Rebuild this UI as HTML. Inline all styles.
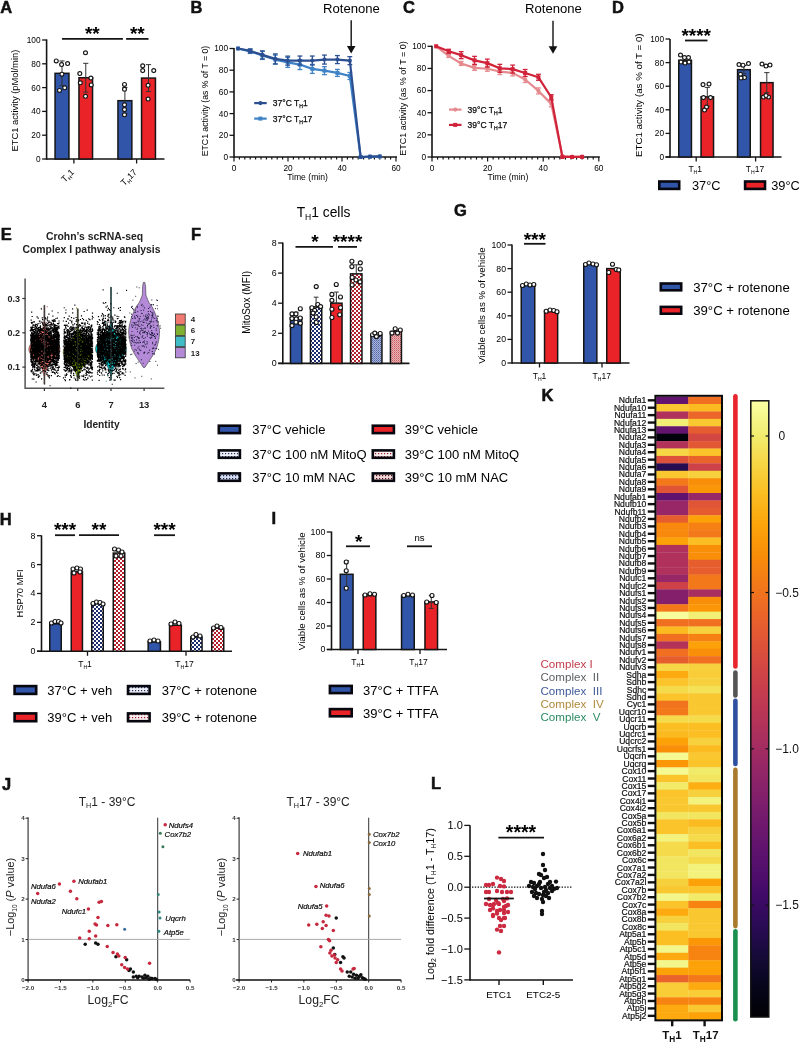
<!DOCTYPE html>
<html><head><meta charset="utf-8"><style>
html,body{margin:0;padding:0;background:#fff;}
svg{display:block;font-family:"Liberation Sans",sans-serif;will-change:transform;}
</style></head><body>
<svg width="800" height="1042" viewBox="0 0 800 1042">
<defs>
<pattern id="pb" width="4" height="4" patternUnits="userSpaceOnUse"><rect width="4" height="4" fill="#1f2d6e"/><rect width="2" height="2" fill="#fff"/><rect x="2" y="2" width="2" height="2" fill="#fff"/></pattern>
<pattern id="pr" width="4" height="4" patternUnits="userSpaceOnUse"><rect width="4" height="4" fill="#b3202e"/><rect width="2" height="2" fill="#fff"/><rect x="2" y="2" width="2" height="2" fill="#fff"/></pattern>
<pattern id="nb" width="2" height="2" patternUnits="userSpaceOnUse"><rect width="2" height="2" fill="#a8b4da"/><rect width="1" height="1" fill="#5466a6"/><rect x="1" y="1" width="1" height="1" fill="#7080b8"/></pattern>
<pattern id="nr" width="2" height="2" patternUnits="userSpaceOnUse"><rect width="2" height="2" fill="#eab4b4"/><rect width="1" height="1" fill="#c85a60"/><rect x="1" y="1" width="1" height="1" fill="#d88488"/></pattern>
<pattern id="pbL" width="3" height="3" patternUnits="userSpaceOnUse"><rect width="3" height="3" fill="#eef0f8"/><rect width="1.2" height="1.2" fill="#22306a"/></pattern>
<pattern id="prL" width="3" height="3" patternUnits="userSpaceOnUse"><rect width="3" height="3" fill="#f8ecee"/><rect width="1.2" height="1.2" fill="#a02030"/></pattern>
<pattern id="nbL" width="3" height="3" patternUnits="userSpaceOnUse"><rect width="3" height="3" fill="#d4dcf0"/><rect x="1" y="1" width="1.2" height="1.2" fill="#1a2050"/></pattern>
<pattern id="nrL" width="3" height="3" patternUnits="userSpaceOnUse"><rect width="3" height="3" fill="#f4d8d8"/><rect x="1" y="1" width="1.2" height="1.2" fill="#501018"/></pattern>
<linearGradient id="cbar" x1="0" y1="1" x2="0" y2="0"><stop offset="0.00" stop-color="#000004"/><stop offset="0.05" stop-color="#07051b"/><stop offset="0.10" stop-color="#160b39"/><stop offset="0.15" stop-color="#2b0b57"/><stop offset="0.20" stop-color="#420a68"/><stop offset="0.25" stop-color="#57106e"/><stop offset="0.30" stop-color="#6a176e"/><stop offset="0.35" stop-color="#7f1e6c"/><stop offset="0.40" stop-color="#932667"/><stop offset="0.45" stop-color="#a82e5f"/><stop offset="0.50" stop-color="#bc3754"/><stop offset="0.55" stop-color="#cc4248"/><stop offset="0.60" stop-color="#dd513a"/><stop offset="0.65" stop-color="#ea632a"/><stop offset="0.70" stop-color="#f37819"/><stop offset="0.75" stop-color="#f98e09"/><stop offset="0.80" stop-color="#fca50a"/><stop offset="0.85" stop-color="#fbbe23"/><stop offset="0.90" stop-color="#f6d746"/><stop offset="0.95" stop-color="#f1ef75"/><stop offset="1.00" stop-color="#fcffa4"/></linearGradient>
</defs>
<rect width="800" height="1042" fill="#fff"/>
<text x="0.3" y="12.6" font-size="16.5" font-weight="bold" fill="#111" stroke="#111" stroke-width="0.5">A</text>
<text x="190.5" y="12.6" font-size="16.5" font-weight="bold" fill="#111" stroke="#111" stroke-width="0.5">B</text>
<text x="403" y="12.6" font-size="16.5" font-weight="bold" fill="#111" stroke="#111" stroke-width="0.5">C</text>
<text x="612" y="12.6" font-size="16.5" font-weight="bold" fill="#111" stroke="#111" stroke-width="0.5">D</text>
<text x="0.8" y="239.5" font-size="16.5" font-weight="bold" fill="#111" stroke="#111" stroke-width="0.5">E</text>
<text x="191" y="239.5" font-size="16.5" font-weight="bold" fill="#111" stroke="#111" stroke-width="0.5">F</text>
<text x="454" y="216.2" font-size="16.5" font-weight="bold" fill="#111" stroke="#111" stroke-width="0.5">G</text>
<text x="541.5" y="401.2" font-size="16.5" font-weight="bold" fill="#111" stroke="#111" stroke-width="0.5">K</text>
<text x="-0.3" y="524.6" font-size="16.5" font-weight="bold" fill="#111" stroke="#111" stroke-width="0.5">H</text>
<text x="271.5" y="524.2" font-size="16.5" font-weight="bold" fill="#111" stroke="#111" stroke-width="0.5">I</text>
<text x="2" y="790" font-size="16.5" font-weight="bold" fill="#111" stroke="#111" stroke-width="0.5">J</text>
<text x="431" y="789.4" font-size="16.5" font-weight="bold" fill="#111" stroke="#111" stroke-width="0.5">L</text>
<line x1="46.6" y1="39.4" x2="46.6" y2="159.8" stroke="#151515" stroke-width="1.6" />
<line x1="42.1" y1="159" x2="46.6" y2="159" stroke="#151515" stroke-width="1.3" />
<text x="40.6" y="161.9" font-size="8.3" text-anchor="end" >0</text>
<line x1="42.1" y1="135.2" x2="46.6" y2="135.2" stroke="#151515" stroke-width="1.3" />
<text x="40.6" y="138.1" font-size="8.3" text-anchor="end" >20</text>
<line x1="42.1" y1="111.4" x2="46.6" y2="111.4" stroke="#151515" stroke-width="1.3" />
<text x="40.6" y="114.3" font-size="8.3" text-anchor="end" >40</text>
<line x1="42.1" y1="87.6" x2="46.6" y2="87.6" stroke="#151515" stroke-width="1.3" />
<text x="40.6" y="90.5" font-size="8.3" text-anchor="end" >60</text>
<line x1="42.1" y1="63.8" x2="46.6" y2="63.8" stroke="#151515" stroke-width="1.3" />
<text x="40.6" y="66.7" font-size="8.3" text-anchor="end" >80</text>
<line x1="42.1" y1="40" x2="46.6" y2="40" stroke="#151515" stroke-width="1.3" />
<text x="40.6" y="42.9" font-size="8.3" text-anchor="end" >100</text>
<line x1="46.6" y1="159" x2="164.5" y2="159" stroke="#151515" stroke-width="1.6" />
<line x1="73.9" y1="159" x2="73.9" y2="163.5" stroke="#151515" stroke-width="1.3" />
<line x1="136.6" y1="159" x2="136.6" y2="163.5" stroke="#151515" stroke-width="1.3" />
<rect x="55.05" y="73.32" width="13.9" height="85.68" fill="#3155a8" stroke="#151515" stroke-width="1.5" />
<line x1="62" y1="60.94" x2="62" y2="85.7" stroke="#333" stroke-width="1" />
<line x1="59.4" y1="60.94" x2="64.6" y2="60.94" stroke="#333" stroke-width="1" />
<line x1="59.4" y1="85.7" x2="64.6" y2="85.7" stroke="#333" stroke-width="1" />
<rect x="78.95" y="77.72" width="13.6" height="81.28" fill="#ea2329" stroke="#151515" stroke-width="1.5" />
<line x1="85.75" y1="63.32" x2="85.75" y2="92.12" stroke="#333" stroke-width="1" />
<line x1="83.15" y1="63.32" x2="88.35" y2="63.32" stroke="#333" stroke-width="1" />
<line x1="83.15" y1="92.12" x2="88.35" y2="92.12" stroke="#333" stroke-width="1" />
<rect x="117.95" y="100.69" width="13.9" height="58.31" fill="#3155a8" stroke="#151515" stroke-width="1.5" />
<line x1="124.9" y1="87.6" x2="124.9" y2="113.78" stroke="#333" stroke-width="1" />
<line x1="122.3" y1="87.6" x2="127.5" y2="87.6" stroke="#333" stroke-width="1" />
<line x1="122.3" y1="113.78" x2="127.5" y2="113.78" stroke="#333" stroke-width="1" />
<rect x="141.55" y="78.08" width="13.9" height="80.92" fill="#ea2329" stroke="#151515" stroke-width="1.5" />
<line x1="148.5" y1="64.63" x2="148.5" y2="91.53" stroke="#333" stroke-width="1" />
<line x1="145.9" y1="64.63" x2="151.1" y2="64.63" stroke="#333" stroke-width="1" />
<line x1="145.9" y1="91.53" x2="151.1" y2="91.53" stroke="#333" stroke-width="1" />
<circle cx="56.25" cy="60.9" r="1.95" fill="#fff" stroke="#151515" stroke-width="1.15"/>
<circle cx="61.6" cy="64.6" r="1.95" fill="#fff" stroke="#151515" stroke-width="1.15"/>
<circle cx="67.6" cy="63.6" r="1.95" fill="#fff" stroke="#151515" stroke-width="1.15"/>
<circle cx="61.9" cy="74.2" r="1.95" fill="#fff" stroke="#151515" stroke-width="1.15"/>
<circle cx="59.5" cy="90.4" r="1.95" fill="#fff" stroke="#151515" stroke-width="1.15"/>
<circle cx="64.7" cy="87.8" r="1.95" fill="#fff" stroke="#151515" stroke-width="1.15"/>
<circle cx="85.5" cy="52.75" r="1.95" fill="#fff" stroke="#151515" stroke-width="1.15"/>
<circle cx="79.8" cy="73.5" r="1.95" fill="#fff" stroke="#151515" stroke-width="1.15"/>
<circle cx="90.9" cy="78" r="1.95" fill="#fff" stroke="#151515" stroke-width="1.15"/>
<circle cx="80.3" cy="82.8" r="1.95" fill="#fff" stroke="#151515" stroke-width="1.15"/>
<circle cx="91.2" cy="84.9" r="1.95" fill="#fff" stroke="#151515" stroke-width="1.15"/>
<circle cx="85.5" cy="96.3" r="1.95" fill="#fff" stroke="#151515" stroke-width="1.15"/>
<circle cx="124.5" cy="84.4" r="1.95" fill="#fff" stroke="#151515" stroke-width="1.15"/>
<circle cx="124.5" cy="89.3" r="1.95" fill="#fff" stroke="#151515" stroke-width="1.15"/>
<circle cx="124.5" cy="104.75" r="1.95" fill="#fff" stroke="#151515" stroke-width="1.15"/>
<circle cx="124.5" cy="109.6" r="1.95" fill="#fff" stroke="#151515" stroke-width="1.15"/>
<circle cx="124.5" cy="114.8" r="1.95" fill="#fff" stroke="#151515" stroke-width="1.15"/>
<circle cx="142.7" cy="65.75" r="1.95" fill="#fff" stroke="#151515" stroke-width="1.15"/>
<circle cx="142.7" cy="70.6" r="1.95" fill="#fff" stroke="#151515" stroke-width="1.15"/>
<circle cx="153.75" cy="70.6" r="1.95" fill="#fff" stroke="#151515" stroke-width="1.15"/>
<circle cx="148.1" cy="85.25" r="1.95" fill="#fff" stroke="#151515" stroke-width="1.15"/>
<circle cx="148.1" cy="99" r="1.95" fill="#fff" stroke="#151515" stroke-width="1.15"/>
<line x1="62" y1="38.9" x2="122.9" y2="38.9" stroke="#151515" stroke-width="1.8" />
<line x1="126.1" y1="38.9" x2="148.5" y2="38.9" stroke="#151515" stroke-width="1.8" />
<text x="92.3" y="40" font-size="19" text-anchor="middle" font-weight="bold" >**</text>
<text x="137.3" y="40" font-size="19" text-anchor="middle" font-weight="bold" >**</text>
<text x="18.1" y="100.6" font-size="9.36" text-anchor="middle" transform="rotate(-90 18.1 100.6)" >ETC1 activity (pMol/min)</text>
<text x="74.8" y="172.9" font-size="8.8" text-anchor="end" transform="rotate(-45 74.8 172.9)" >T<tspan font-size="0.6em" dy="2.0">H</tspan><tspan dy="-2.0">1</tspan></text>
<text x="137.6" y="172.9" font-size="8.8" text-anchor="end" transform="rotate(-45 137.6 172.9)" >T<tspan font-size="0.6em" dy="2.0">H</tspan><tspan dy="-2.0">17</tspan></text>
<line x1="234" y1="48" x2="234" y2="157.8" stroke="#151515" stroke-width="1.6" />
<line x1="229.5" y1="157" x2="234" y2="157" stroke="#151515" stroke-width="1.3" />
<text x="228" y="159.9" font-size="8.3" text-anchor="end" >0</text>
<line x1="229.5" y1="135.3" x2="234" y2="135.3" stroke="#151515" stroke-width="1.3" />
<text x="228" y="138.2" font-size="8.3" text-anchor="end" >20</text>
<line x1="229.5" y1="113.6" x2="234" y2="113.6" stroke="#151515" stroke-width="1.3" />
<text x="228" y="116.5" font-size="8.3" text-anchor="end" >40</text>
<line x1="229.5" y1="91.9" x2="234" y2="91.9" stroke="#151515" stroke-width="1.3" />
<text x="228" y="94.8" font-size="8.3" text-anchor="end" >60</text>
<line x1="229.5" y1="70.2" x2="234" y2="70.2" stroke="#151515" stroke-width="1.3" />
<text x="228" y="73.1" font-size="8.3" text-anchor="end" >80</text>
<line x1="229.5" y1="48.5" x2="234" y2="48.5" stroke="#151515" stroke-width="1.3" />
<text x="228" y="51.4" font-size="8.3" text-anchor="end" >100</text>
<line x1="234" y1="157" x2="397" y2="157" stroke="#151515" stroke-width="1.6" />
<line x1="234" y1="157" x2="234" y2="161.5" stroke="#151515" stroke-width="1.2" />
<line x1="239.4" y1="157" x2="239.4" y2="159.6" stroke="#151515" stroke-width="1.2" />
<line x1="244.8" y1="157" x2="244.8" y2="159.6" stroke="#151515" stroke-width="1.2" />
<line x1="250.2" y1="157" x2="250.2" y2="159.6" stroke="#151515" stroke-width="1.2" />
<line x1="255.6" y1="157" x2="255.6" y2="159.6" stroke="#151515" stroke-width="1.2" />
<line x1="261" y1="157" x2="261" y2="159.6" stroke="#151515" stroke-width="1.2" />
<line x1="266.4" y1="157" x2="266.4" y2="159.6" stroke="#151515" stroke-width="1.2" />
<line x1="271.8" y1="157" x2="271.8" y2="159.6" stroke="#151515" stroke-width="1.2" />
<line x1="277.2" y1="157" x2="277.2" y2="159.6" stroke="#151515" stroke-width="1.2" />
<line x1="282.6" y1="157" x2="282.6" y2="159.6" stroke="#151515" stroke-width="1.2" />
<line x1="288" y1="157" x2="288" y2="161.5" stroke="#151515" stroke-width="1.2" />
<line x1="293.4" y1="157" x2="293.4" y2="159.6" stroke="#151515" stroke-width="1.2" />
<line x1="298.8" y1="157" x2="298.8" y2="159.6" stroke="#151515" stroke-width="1.2" />
<line x1="304.2" y1="157" x2="304.2" y2="159.6" stroke="#151515" stroke-width="1.2" />
<line x1="309.6" y1="157" x2="309.6" y2="159.6" stroke="#151515" stroke-width="1.2" />
<line x1="315" y1="157" x2="315" y2="159.6" stroke="#151515" stroke-width="1.2" />
<line x1="320.4" y1="157" x2="320.4" y2="159.6" stroke="#151515" stroke-width="1.2" />
<line x1="325.8" y1="157" x2="325.8" y2="159.6" stroke="#151515" stroke-width="1.2" />
<line x1="331.2" y1="157" x2="331.2" y2="159.6" stroke="#151515" stroke-width="1.2" />
<line x1="336.6" y1="157" x2="336.6" y2="159.6" stroke="#151515" stroke-width="1.2" />
<line x1="342" y1="157" x2="342" y2="161.5" stroke="#151515" stroke-width="1.2" />
<line x1="347.4" y1="157" x2="347.4" y2="159.6" stroke="#151515" stroke-width="1.2" />
<line x1="352.8" y1="157" x2="352.8" y2="159.6" stroke="#151515" stroke-width="1.2" />
<line x1="358.2" y1="157" x2="358.2" y2="159.6" stroke="#151515" stroke-width="1.2" />
<line x1="363.6" y1="157" x2="363.6" y2="159.6" stroke="#151515" stroke-width="1.2" />
<line x1="369" y1="157" x2="369" y2="159.6" stroke="#151515" stroke-width="1.2" />
<line x1="374.4" y1="157" x2="374.4" y2="159.6" stroke="#151515" stroke-width="1.2" />
<line x1="379.8" y1="157" x2="379.8" y2="159.6" stroke="#151515" stroke-width="1.2" />
<line x1="385.2" y1="157" x2="385.2" y2="159.6" stroke="#151515" stroke-width="1.2" />
<line x1="390.6" y1="157" x2="390.6" y2="159.6" stroke="#151515" stroke-width="1.2" />
<line x1="396" y1="157" x2="396" y2="161.5" stroke="#151515" stroke-width="1.2" />
<text x="234" y="171.4" font-size="8.3" text-anchor="middle" >0</text>
<text x="288" y="171.4" font-size="8.3" text-anchor="middle" >20</text>
<text x="342" y="171.4" font-size="8.3" text-anchor="middle" >40</text>
<text x="396" y="171.4" font-size="8.3" text-anchor="middle" >60</text>
<text x="307.5" y="179.8" font-size="8.6" text-anchor="middle" >Time (min)</text>
<path d="M238.05 48.5 L250.2 51.43 L262.35 55.44 L275.31 59.57 L287.73 62.39 L299.88 64.56 L312.3 68.9 L324.45 70.63 L337.41 72.91 L349.83 75.95 L360.63 157 L370.08 156.67 L379.8 156.57" fill="none" stroke="#3f82c6" stroke-width="2.2" stroke-linejoin="round"/>
<rect x="236.05" y="46.5" width="4" height="4" fill="#3f82c6" />
<line x1="250.2" y1="49.43" x2="250.2" y2="53.43" stroke="#3f82c6" stroke-width="1.3" />
<line x1="247.8" y1="49.43" x2="252.6" y2="49.43" stroke="#3f82c6" stroke-width="1.3" />
<line x1="247.8" y1="53.43" x2="252.6" y2="53.43" stroke="#3f82c6" stroke-width="1.3" />
<rect x="248.2" y="49.43" width="4" height="4" fill="#3f82c6" />
<line x1="262.35" y1="51.44" x2="262.35" y2="59.44" stroke="#3f82c6" stroke-width="1.3" />
<line x1="259.95" y1="51.44" x2="264.75" y2="51.44" stroke="#3f82c6" stroke-width="1.3" />
<line x1="259.95" y1="59.44" x2="264.75" y2="59.44" stroke="#3f82c6" stroke-width="1.3" />
<rect x="260.35" y="53.44" width="4" height="4" fill="#3f82c6" />
<line x1="275.31" y1="55.07" x2="275.31" y2="64.07" stroke="#3f82c6" stroke-width="1.3" />
<line x1="272.91" y1="55.07" x2="277.71" y2="55.07" stroke="#3f82c6" stroke-width="1.3" />
<line x1="272.91" y1="64.07" x2="277.71" y2="64.07" stroke="#3f82c6" stroke-width="1.3" />
<rect x="273.31" y="57.57" width="4" height="4" fill="#3f82c6" />
<line x1="287.73" y1="57.39" x2="287.73" y2="67.39" stroke="#3f82c6" stroke-width="1.3" />
<line x1="285.33" y1="57.39" x2="290.13" y2="57.39" stroke="#3f82c6" stroke-width="1.3" />
<line x1="285.33" y1="67.39" x2="290.13" y2="67.39" stroke="#3f82c6" stroke-width="1.3" />
<rect x="285.73" y="60.39" width="4" height="4" fill="#3f82c6" />
<line x1="299.88" y1="59.56" x2="299.88" y2="69.56" stroke="#3f82c6" stroke-width="1.3" />
<line x1="297.48" y1="59.56" x2="302.28" y2="59.56" stroke="#3f82c6" stroke-width="1.3" />
<line x1="297.48" y1="69.56" x2="302.28" y2="69.56" stroke="#3f82c6" stroke-width="1.3" />
<rect x="297.88" y="62.56" width="4" height="4" fill="#3f82c6" />
<line x1="312.3" y1="64.4" x2="312.3" y2="73.4" stroke="#3f82c6" stroke-width="1.3" />
<line x1="309.9" y1="64.4" x2="314.7" y2="64.4" stroke="#3f82c6" stroke-width="1.3" />
<line x1="309.9" y1="73.4" x2="314.7" y2="73.4" stroke="#3f82c6" stroke-width="1.3" />
<rect x="310.3" y="66.9" width="4" height="4" fill="#3f82c6" />
<line x1="324.45" y1="66.63" x2="324.45" y2="74.63" stroke="#3f82c6" stroke-width="1.3" />
<line x1="322.05" y1="66.63" x2="326.85" y2="66.63" stroke="#3f82c6" stroke-width="1.3" />
<line x1="322.05" y1="74.63" x2="326.85" y2="74.63" stroke="#3f82c6" stroke-width="1.3" />
<rect x="322.45" y="68.63" width="4" height="4" fill="#3f82c6" />
<line x1="337.41" y1="69.41" x2="337.41" y2="76.41" stroke="#3f82c6" stroke-width="1.3" />
<line x1="335.01" y1="69.41" x2="339.81" y2="69.41" stroke="#3f82c6" stroke-width="1.3" />
<line x1="335.01" y1="76.41" x2="339.81" y2="76.41" stroke="#3f82c6" stroke-width="1.3" />
<rect x="335.41" y="70.91" width="4" height="4" fill="#3f82c6" />
<line x1="349.83" y1="72.45" x2="349.83" y2="79.45" stroke="#3f82c6" stroke-width="1.3" />
<line x1="347.43" y1="72.45" x2="352.23" y2="72.45" stroke="#3f82c6" stroke-width="1.3" />
<line x1="347.43" y1="79.45" x2="352.23" y2="79.45" stroke="#3f82c6" stroke-width="1.3" />
<rect x="347.83" y="73.95" width="4" height="4" fill="#3f82c6" />
<rect x="358.63" y="155" width="4" height="4" fill="#3f82c6" />
<rect x="368.08" y="154.67" width="4" height="4" fill="#3f82c6" />
<rect x="377.8" y="154.57" width="4" height="4" fill="#3f82c6" />
<path d="M238.05 48.5 L250.2 50.89 L262.35 54.9 L275.31 58.92 L287.73 60.65 L299.88 60.54 L312.3 60.54 L324.45 59.57 L337.41 59.57 L349.83 60.65 L360.63 157 L370.08 156.67 L379.8 156.24" fill="none" stroke="#2c4f91" stroke-width="2.2" stroke-linejoin="round"/>
<circle cx="238.05" cy="48.5" r="2.1" fill="#2c4f91"/>
<line x1="250.2" y1="48.89" x2="250.2" y2="52.89" stroke="#2c4f91" stroke-width="1.3" />
<line x1="247.8" y1="48.89" x2="252.6" y2="48.89" stroke="#2c4f91" stroke-width="1.3" />
<line x1="247.8" y1="52.89" x2="252.6" y2="52.89" stroke="#2c4f91" stroke-width="1.3" />
<circle cx="250.2" cy="50.89" r="2.1" fill="#2c4f91"/>
<line x1="262.35" y1="50.9" x2="262.35" y2="58.9" stroke="#2c4f91" stroke-width="1.3" />
<line x1="259.95" y1="50.9" x2="264.75" y2="50.9" stroke="#2c4f91" stroke-width="1.3" />
<line x1="259.95" y1="58.9" x2="264.75" y2="58.9" stroke="#2c4f91" stroke-width="1.3" />
<circle cx="262.35" cy="54.9" r="2.1" fill="#2c4f91"/>
<line x1="275.31" y1="53.92" x2="275.31" y2="63.92" stroke="#2c4f91" stroke-width="1.3" />
<line x1="272.91" y1="53.92" x2="277.71" y2="53.92" stroke="#2c4f91" stroke-width="1.3" />
<line x1="272.91" y1="63.92" x2="277.71" y2="63.92" stroke="#2c4f91" stroke-width="1.3" />
<circle cx="275.31" cy="58.92" r="2.1" fill="#2c4f91"/>
<line x1="287.73" y1="56.15" x2="287.73" y2="65.15" stroke="#2c4f91" stroke-width="1.3" />
<line x1="285.33" y1="56.15" x2="290.13" y2="56.15" stroke="#2c4f91" stroke-width="1.3" />
<line x1="285.33" y1="65.15" x2="290.13" y2="65.15" stroke="#2c4f91" stroke-width="1.3" />
<circle cx="287.73" cy="60.65" r="2.1" fill="#2c4f91"/>
<line x1="299.88" y1="56.04" x2="299.88" y2="65.04" stroke="#2c4f91" stroke-width="1.3" />
<line x1="297.48" y1="56.04" x2="302.28" y2="56.04" stroke="#2c4f91" stroke-width="1.3" />
<line x1="297.48" y1="65.04" x2="302.28" y2="65.04" stroke="#2c4f91" stroke-width="1.3" />
<circle cx="299.88" cy="60.54" r="2.1" fill="#2c4f91"/>
<line x1="312.3" y1="56.04" x2="312.3" y2="65.04" stroke="#2c4f91" stroke-width="1.3" />
<line x1="309.9" y1="56.04" x2="314.7" y2="56.04" stroke="#2c4f91" stroke-width="1.3" />
<line x1="309.9" y1="65.04" x2="314.7" y2="65.04" stroke="#2c4f91" stroke-width="1.3" />
<circle cx="312.3" cy="60.54" r="2.1" fill="#2c4f91"/>
<line x1="324.45" y1="55.07" x2="324.45" y2="64.07" stroke="#2c4f91" stroke-width="1.3" />
<line x1="322.05" y1="55.07" x2="326.85" y2="55.07" stroke="#2c4f91" stroke-width="1.3" />
<line x1="322.05" y1="64.07" x2="326.85" y2="64.07" stroke="#2c4f91" stroke-width="1.3" />
<circle cx="324.45" cy="59.57" r="2.1" fill="#2c4f91"/>
<line x1="337.41" y1="55.57" x2="337.41" y2="63.57" stroke="#2c4f91" stroke-width="1.3" />
<line x1="335.01" y1="55.57" x2="339.81" y2="55.57" stroke="#2c4f91" stroke-width="1.3" />
<line x1="335.01" y1="63.57" x2="339.81" y2="63.57" stroke="#2c4f91" stroke-width="1.3" />
<circle cx="337.41" cy="59.57" r="2.1" fill="#2c4f91"/>
<line x1="349.83" y1="56.65" x2="349.83" y2="64.65" stroke="#2c4f91" stroke-width="1.3" />
<line x1="347.43" y1="56.65" x2="352.23" y2="56.65" stroke="#2c4f91" stroke-width="1.3" />
<line x1="347.43" y1="64.65" x2="352.23" y2="64.65" stroke="#2c4f91" stroke-width="1.3" />
<circle cx="349.83" cy="60.65" r="2.1" fill="#2c4f91"/>
<circle cx="360.63" cy="157" r="2.1" fill="#2c4f91"/>
<circle cx="370.08" cy="156.67" r="2.1" fill="#2c4f91"/>
<circle cx="379.8" cy="156.24" r="2.1" fill="#2c4f91"/>
<line x1="254.2" y1="103.1" x2="266.7" y2="103.1" stroke="#2c4f91" stroke-width="2.2" />
<circle cx="260.4" cy="103.1" r="2.1" fill="#2c4f91"/>
<text x="272.8" y="106" font-size="8.5" stroke="#1a1a1a" stroke-width="0.25">37°C T<tspan font-size="0.6em" dy="2.0">H</tspan><tspan dy="-2.0">1</tspan></text>
<line x1="254.2" y1="118.6" x2="266.7" y2="118.6" stroke="#3f82c6" stroke-width="2.2" />
<rect x="258.4" y="116.6" width="4" height="4" fill="#3f82c6" />
<text x="272.8" y="121.5" font-size="8.5" stroke="#1a1a1a" stroke-width="0.25">37°C T<tspan font-size="0.6em" dy="2.0">H</tspan><tspan dy="-2.0">17</tspan></text>
<line x1="351.2" y1="20.3" x2="351.2" y2="47.4" stroke="#111" stroke-width="1.4" />
<path d="M346.9 45.9 L355.5 45.9 L351.2 53.4 Z" fill="#111"/>
<text x="351.5" y="13.4" font-size="13.1" text-anchor="middle" >Rotenone</text>
<text x="208.2" y="101" font-size="8.7" text-anchor="middle" transform="rotate(-90 208.2 101)" >ETC1 activity (as % of T = 0)</text>
<line x1="432" y1="45.8" x2="432" y2="157.8" stroke="#151515" stroke-width="1.6" />
<line x1="427.5" y1="157" x2="432" y2="157" stroke="#151515" stroke-width="1.3" />
<text x="426" y="159.9" font-size="8.3" text-anchor="end" >0</text>
<line x1="427.5" y1="134.86" x2="432" y2="134.86" stroke="#151515" stroke-width="1.3" />
<text x="426" y="137.76" font-size="8.3" text-anchor="end" >20</text>
<line x1="427.5" y1="112.72" x2="432" y2="112.72" stroke="#151515" stroke-width="1.3" />
<text x="426" y="115.62" font-size="8.3" text-anchor="end" >40</text>
<line x1="427.5" y1="90.58" x2="432" y2="90.58" stroke="#151515" stroke-width="1.3" />
<text x="426" y="93.48" font-size="8.3" text-anchor="end" >60</text>
<line x1="427.5" y1="68.44" x2="432" y2="68.44" stroke="#151515" stroke-width="1.3" />
<text x="426" y="71.34" font-size="8.3" text-anchor="end" >80</text>
<line x1="427.5" y1="46.3" x2="432" y2="46.3" stroke="#151515" stroke-width="1.3" />
<text x="426" y="49.2" font-size="8.3" text-anchor="end" >100</text>
<line x1="432" y1="157" x2="599.8" y2="157" stroke="#151515" stroke-width="1.6" />
<line x1="432" y1="157" x2="432" y2="161.5" stroke="#151515" stroke-width="1.2" />
<line x1="437.56" y1="157" x2="437.56" y2="159.6" stroke="#151515" stroke-width="1.2" />
<line x1="443.12" y1="157" x2="443.12" y2="159.6" stroke="#151515" stroke-width="1.2" />
<line x1="448.68" y1="157" x2="448.68" y2="159.6" stroke="#151515" stroke-width="1.2" />
<line x1="454.24" y1="157" x2="454.24" y2="159.6" stroke="#151515" stroke-width="1.2" />
<line x1="459.8" y1="157" x2="459.8" y2="159.6" stroke="#151515" stroke-width="1.2" />
<line x1="465.36" y1="157" x2="465.36" y2="159.6" stroke="#151515" stroke-width="1.2" />
<line x1="470.92" y1="157" x2="470.92" y2="159.6" stroke="#151515" stroke-width="1.2" />
<line x1="476.48" y1="157" x2="476.48" y2="159.6" stroke="#151515" stroke-width="1.2" />
<line x1="482.04" y1="157" x2="482.04" y2="159.6" stroke="#151515" stroke-width="1.2" />
<line x1="487.6" y1="157" x2="487.6" y2="161.5" stroke="#151515" stroke-width="1.2" />
<line x1="493.16" y1="157" x2="493.16" y2="159.6" stroke="#151515" stroke-width="1.2" />
<line x1="498.72" y1="157" x2="498.72" y2="159.6" stroke="#151515" stroke-width="1.2" />
<line x1="504.28" y1="157" x2="504.28" y2="159.6" stroke="#151515" stroke-width="1.2" />
<line x1="509.84" y1="157" x2="509.84" y2="159.6" stroke="#151515" stroke-width="1.2" />
<line x1="515.4" y1="157" x2="515.4" y2="159.6" stroke="#151515" stroke-width="1.2" />
<line x1="520.96" y1="157" x2="520.96" y2="159.6" stroke="#151515" stroke-width="1.2" />
<line x1="526.52" y1="157" x2="526.52" y2="159.6" stroke="#151515" stroke-width="1.2" />
<line x1="532.08" y1="157" x2="532.08" y2="159.6" stroke="#151515" stroke-width="1.2" />
<line x1="537.64" y1="157" x2="537.64" y2="159.6" stroke="#151515" stroke-width="1.2" />
<line x1="543.2" y1="157" x2="543.2" y2="161.5" stroke="#151515" stroke-width="1.2" />
<line x1="548.76" y1="157" x2="548.76" y2="159.6" stroke="#151515" stroke-width="1.2" />
<line x1="554.32" y1="157" x2="554.32" y2="159.6" stroke="#151515" stroke-width="1.2" />
<line x1="559.88" y1="157" x2="559.88" y2="159.6" stroke="#151515" stroke-width="1.2" />
<line x1="565.44" y1="157" x2="565.44" y2="159.6" stroke="#151515" stroke-width="1.2" />
<line x1="571" y1="157" x2="571" y2="159.6" stroke="#151515" stroke-width="1.2" />
<line x1="576.56" y1="157" x2="576.56" y2="159.6" stroke="#151515" stroke-width="1.2" />
<line x1="582.12" y1="157" x2="582.12" y2="159.6" stroke="#151515" stroke-width="1.2" />
<line x1="587.68" y1="157" x2="587.68" y2="159.6" stroke="#151515" stroke-width="1.2" />
<line x1="593.24" y1="157" x2="593.24" y2="159.6" stroke="#151515" stroke-width="1.2" />
<line x1="598.8" y1="157" x2="598.8" y2="161.5" stroke="#151515" stroke-width="1.2" />
<text x="432" y="171.4" font-size="8.3" text-anchor="middle" >0</text>
<text x="487.6" y="171.4" font-size="8.3" text-anchor="middle" >20</text>
<text x="543.2" y="171.4" font-size="8.3" text-anchor="middle" >40</text>
<text x="598.8" y="171.4" font-size="8.3" text-anchor="middle" >60</text>
<text x="507.9" y="179.8" font-size="8.6" text-anchor="middle" >Time (min)</text>
<path d="M436.17 46.3 L448.68 55.93 L461.19 63.46 L474.53 67.89 L487.32 68.77 L499.83 71.54 L512.62 72.87 L525.13 79.51 L538.47 90.91 L551.26 103.86 L562.38 155.89 L572.11 156.67 L582.12 156.34" fill="none" stroke="#e58a8e" stroke-width="2.2" stroke-linejoin="round"/>
<circle cx="436.17" cy="46.3" r="2.1" fill="#e58a8e"/>
<line x1="448.68" y1="54.43" x2="448.68" y2="57.43" stroke="#e58a8e" stroke-width="1.3" />
<line x1="446.28" y1="54.43" x2="451.08" y2="54.43" stroke="#e58a8e" stroke-width="1.3" />
<line x1="446.28" y1="57.43" x2="451.08" y2="57.43" stroke="#e58a8e" stroke-width="1.3" />
<circle cx="448.68" cy="55.93" r="2.1" fill="#e58a8e"/>
<line x1="461.19" y1="61.46" x2="461.19" y2="65.46" stroke="#e58a8e" stroke-width="1.3" />
<line x1="458.79" y1="61.46" x2="463.59" y2="61.46" stroke="#e58a8e" stroke-width="1.3" />
<line x1="458.79" y1="65.46" x2="463.59" y2="65.46" stroke="#e58a8e" stroke-width="1.3" />
<circle cx="461.19" cy="63.46" r="2.1" fill="#e58a8e"/>
<line x1="474.53" y1="65.39" x2="474.53" y2="70.39" stroke="#e58a8e" stroke-width="1.3" />
<line x1="472.13" y1="65.39" x2="476.93" y2="65.39" stroke="#e58a8e" stroke-width="1.3" />
<line x1="472.13" y1="70.39" x2="476.93" y2="70.39" stroke="#e58a8e" stroke-width="1.3" />
<circle cx="474.53" cy="67.89" r="2.1" fill="#e58a8e"/>
<line x1="487.32" y1="66.27" x2="487.32" y2="71.27" stroke="#e58a8e" stroke-width="1.3" />
<line x1="484.92" y1="66.27" x2="489.72" y2="66.27" stroke="#e58a8e" stroke-width="1.3" />
<line x1="484.92" y1="71.27" x2="489.72" y2="71.27" stroke="#e58a8e" stroke-width="1.3" />
<circle cx="487.32" cy="68.77" r="2.1" fill="#e58a8e"/>
<line x1="499.83" y1="68.54" x2="499.83" y2="74.54" stroke="#e58a8e" stroke-width="1.3" />
<line x1="497.43" y1="68.54" x2="502.23" y2="68.54" stroke="#e58a8e" stroke-width="1.3" />
<line x1="497.43" y1="74.54" x2="502.23" y2="74.54" stroke="#e58a8e" stroke-width="1.3" />
<circle cx="499.83" cy="71.54" r="2.1" fill="#e58a8e"/>
<line x1="512.62" y1="69.87" x2="512.62" y2="75.87" stroke="#e58a8e" stroke-width="1.3" />
<line x1="510.22" y1="69.87" x2="515.02" y2="69.87" stroke="#e58a8e" stroke-width="1.3" />
<line x1="510.22" y1="75.87" x2="515.02" y2="75.87" stroke="#e58a8e" stroke-width="1.3" />
<circle cx="512.62" cy="72.87" r="2.1" fill="#e58a8e"/>
<line x1="525.13" y1="76.51" x2="525.13" y2="82.51" stroke="#e58a8e" stroke-width="1.3" />
<line x1="522.73" y1="76.51" x2="527.53" y2="76.51" stroke="#e58a8e" stroke-width="1.3" />
<line x1="522.73" y1="82.51" x2="527.53" y2="82.51" stroke="#e58a8e" stroke-width="1.3" />
<circle cx="525.13" cy="79.51" r="2.1" fill="#e58a8e"/>
<line x1="538.47" y1="87.91" x2="538.47" y2="93.91" stroke="#e58a8e" stroke-width="1.3" />
<line x1="536.07" y1="87.91" x2="540.87" y2="87.91" stroke="#e58a8e" stroke-width="1.3" />
<line x1="536.07" y1="93.91" x2="540.87" y2="93.91" stroke="#e58a8e" stroke-width="1.3" />
<circle cx="538.47" cy="90.91" r="2.1" fill="#e58a8e"/>
<line x1="551.26" y1="100.86" x2="551.26" y2="106.86" stroke="#e58a8e" stroke-width="1.3" />
<line x1="548.86" y1="100.86" x2="553.66" y2="100.86" stroke="#e58a8e" stroke-width="1.3" />
<line x1="548.86" y1="106.86" x2="553.66" y2="106.86" stroke="#e58a8e" stroke-width="1.3" />
<circle cx="551.26" cy="103.86" r="2.1" fill="#e58a8e"/>
<circle cx="562.38" cy="155.89" r="2.1" fill="#e58a8e"/>
<circle cx="572.11" cy="156.67" r="2.1" fill="#e58a8e"/>
<circle cx="582.12" cy="156.34" r="2.1" fill="#e58a8e"/>
<path d="M436.17 46.3 L448.68 51.28 L461.19 55.16 L474.53 60.36 L487.32 63.13 L499.83 68.33 L512.62 69.1 L525.13 72.98 L538.47 77.3 L551.26 97.22 L562.38 157 L572.11 157 L582.12 157" fill="none" stroke="#d0233a" stroke-width="2.2" stroke-linejoin="round"/>
<rect x="434.17" y="44.3" width="4" height="4" fill="#d0233a" />
<line x1="448.68" y1="49.28" x2="448.68" y2="53.28" stroke="#d0233a" stroke-width="1.3" />
<line x1="446.28" y1="49.28" x2="451.08" y2="49.28" stroke="#d0233a" stroke-width="1.3" />
<line x1="446.28" y1="53.28" x2="451.08" y2="53.28" stroke="#d0233a" stroke-width="1.3" />
<rect x="446.68" y="49.28" width="4" height="4" fill="#d0233a" />
<line x1="461.19" y1="51.66" x2="461.19" y2="58.66" stroke="#d0233a" stroke-width="1.3" />
<line x1="458.79" y1="51.66" x2="463.59" y2="51.66" stroke="#d0233a" stroke-width="1.3" />
<line x1="458.79" y1="58.66" x2="463.59" y2="58.66" stroke="#d0233a" stroke-width="1.3" />
<rect x="459.19" y="53.16" width="4" height="4" fill="#d0233a" />
<line x1="474.53" y1="56.36" x2="474.53" y2="64.36" stroke="#d0233a" stroke-width="1.3" />
<line x1="472.13" y1="56.36" x2="476.93" y2="56.36" stroke="#d0233a" stroke-width="1.3" />
<line x1="472.13" y1="64.36" x2="476.93" y2="64.36" stroke="#d0233a" stroke-width="1.3" />
<rect x="472.53" y="58.36" width="4" height="4" fill="#d0233a" />
<line x1="487.32" y1="59.13" x2="487.32" y2="67.13" stroke="#d0233a" stroke-width="1.3" />
<line x1="484.92" y1="59.13" x2="489.72" y2="59.13" stroke="#d0233a" stroke-width="1.3" />
<line x1="484.92" y1="67.13" x2="489.72" y2="67.13" stroke="#d0233a" stroke-width="1.3" />
<rect x="485.32" y="61.13" width="4" height="4" fill="#d0233a" />
<line x1="499.83" y1="64.33" x2="499.83" y2="72.33" stroke="#d0233a" stroke-width="1.3" />
<line x1="497.43" y1="64.33" x2="502.23" y2="64.33" stroke="#d0233a" stroke-width="1.3" />
<line x1="497.43" y1="72.33" x2="502.23" y2="72.33" stroke="#d0233a" stroke-width="1.3" />
<rect x="497.83" y="66.33" width="4" height="4" fill="#d0233a" />
<line x1="512.62" y1="65.1" x2="512.62" y2="73.1" stroke="#d0233a" stroke-width="1.3" />
<line x1="510.22" y1="65.1" x2="515.02" y2="65.1" stroke="#d0233a" stroke-width="1.3" />
<line x1="510.22" y1="73.1" x2="515.02" y2="73.1" stroke="#d0233a" stroke-width="1.3" />
<rect x="510.62" y="67.1" width="4" height="4" fill="#d0233a" />
<line x1="525.13" y1="69.48" x2="525.13" y2="76.48" stroke="#d0233a" stroke-width="1.3" />
<line x1="522.73" y1="69.48" x2="527.53" y2="69.48" stroke="#d0233a" stroke-width="1.3" />
<line x1="522.73" y1="76.48" x2="527.53" y2="76.48" stroke="#d0233a" stroke-width="1.3" />
<rect x="523.13" y="70.98" width="4" height="4" fill="#d0233a" />
<line x1="538.47" y1="74.3" x2="538.47" y2="80.3" stroke="#d0233a" stroke-width="1.3" />
<line x1="536.07" y1="74.3" x2="540.87" y2="74.3" stroke="#d0233a" stroke-width="1.3" />
<line x1="536.07" y1="80.3" x2="540.87" y2="80.3" stroke="#d0233a" stroke-width="1.3" />
<rect x="536.47" y="75.3" width="4" height="4" fill="#d0233a" />
<line x1="551.26" y1="94.72" x2="551.26" y2="99.72" stroke="#d0233a" stroke-width="1.3" />
<line x1="548.86" y1="94.72" x2="553.66" y2="94.72" stroke="#d0233a" stroke-width="1.3" />
<line x1="548.86" y1="99.72" x2="553.66" y2="99.72" stroke="#d0233a" stroke-width="1.3" />
<rect x="549.26" y="95.22" width="4" height="4" fill="#d0233a" />
<rect x="560.38" y="155" width="4" height="4" fill="#d0233a" />
<rect x="570.11" y="155" width="4" height="4" fill="#d0233a" />
<rect x="580.12" y="155" width="4" height="4" fill="#d0233a" />
<line x1="449" y1="109.6" x2="461.5" y2="109.6" stroke="#e58a8e" stroke-width="2.2" />
<circle cx="455.2" cy="109.6" r="2.1" fill="#e58a8e"/>
<text x="467.6" y="112.5" font-size="8.5" stroke="#1a1a1a" stroke-width="0.25">39°C T<tspan font-size="0.6em" dy="2.0">H</tspan><tspan dy="-2.0">1</tspan></text>
<line x1="449" y1="124.9" x2="461.5" y2="124.9" stroke="#d0233a" stroke-width="2.2" />
<rect x="453.2" y="122.9" width="4" height="4" fill="#d0233a" />
<text x="467.6" y="127.8" font-size="8.5" stroke="#1a1a1a" stroke-width="0.25">39°C T<tspan font-size="0.6em" dy="2.0">H</tspan><tspan dy="-2.0">17</tspan></text>
<line x1="553" y1="20.8" x2="553" y2="47.8" stroke="#111" stroke-width="1.4" />
<path d="M548.7 46.3 L557.3 46.3 L553 53.8 Z" fill="#111"/>
<text x="553.5" y="13.4" font-size="13.1" text-anchor="middle" >Rotenone</text>
<text x="406.4" y="98.5" font-size="9.03" text-anchor="middle" transform="rotate(-90 406.4 98.5)" >ETC1 activity (as % of T = 0)</text>
<line x1="670" y1="39" x2="670" y2="157.8" stroke="#151515" stroke-width="1.6" />
<line x1="665.5" y1="157" x2="670" y2="157" stroke="#151515" stroke-width="1.3" />
<text x="664" y="159.9" font-size="8.3" text-anchor="end" >0</text>
<line x1="665.5" y1="133.4" x2="670" y2="133.4" stroke="#151515" stroke-width="1.3" />
<text x="664" y="136.3" font-size="8.3" text-anchor="end" >20</text>
<line x1="665.5" y1="109.8" x2="670" y2="109.8" stroke="#151515" stroke-width="1.3" />
<text x="664" y="112.7" font-size="8.3" text-anchor="end" >40</text>
<line x1="665.5" y1="86.2" x2="670" y2="86.2" stroke="#151515" stroke-width="1.3" />
<text x="664" y="89.1" font-size="8.3" text-anchor="end" >60</text>
<line x1="665.5" y1="62.6" x2="670" y2="62.6" stroke="#151515" stroke-width="1.3" />
<text x="664" y="65.5" font-size="8.3" text-anchor="end" >80</text>
<line x1="665.5" y1="39" x2="670" y2="39" stroke="#151515" stroke-width="1.3" />
<text x="664" y="41.9" font-size="8.3" text-anchor="end" >100</text>
<line x1="665.5" y1="157" x2="781.5" y2="157" stroke="#151515" stroke-width="1.6" />
<line x1="696.2" y1="157" x2="696.2" y2="161.5" stroke="#151515" stroke-width="1.3" />
<line x1="755.6" y1="157" x2="755.6" y2="161.5" stroke="#151515" stroke-width="1.3" />
<rect x="678.75" y="60.24" width="12.7" height="96.76" fill="#3155a8" stroke="#151515" stroke-width="1.5" />
<line x1="685.1" y1="56.7" x2="685.1" y2="62.6" stroke="#333" stroke-width="1" />
<line x1="682.5" y1="56.7" x2="687.7" y2="56.7" stroke="#333" stroke-width="1" />
<line x1="682.5" y1="62.6" x2="687.7" y2="62.6" stroke="#333" stroke-width="1" />
<rect x="701.05" y="96.82" width="12.5" height="60.18" fill="#ea2329" stroke="#151515" stroke-width="1.5" />
<line x1="707.3" y1="87.38" x2="707.3" y2="106.26" stroke="#333" stroke-width="1" />
<line x1="704.7" y1="87.38" x2="709.9" y2="87.38" stroke="#333" stroke-width="1" />
<line x1="704.7" y1="106.26" x2="709.9" y2="106.26" stroke="#333" stroke-width="1" />
<rect x="737.55" y="69.68" width="12.7" height="87.32" fill="#3155a8" stroke="#151515" stroke-width="1.5" />
<line x1="743.9" y1="65.55" x2="743.9" y2="73.81" stroke="#333" stroke-width="1" />
<line x1="741.3" y1="65.55" x2="746.5" y2="65.55" stroke="#333" stroke-width="1" />
<line x1="741.3" y1="73.81" x2="746.5" y2="73.81" stroke="#333" stroke-width="1" />
<rect x="760.55" y="82.66" width="12.5" height="74.34" fill="#ea2329" stroke="#151515" stroke-width="1.5" />
<line x1="766.8" y1="72.63" x2="766.8" y2="92.69" stroke="#333" stroke-width="1" />
<line x1="764.2" y1="72.63" x2="769.4" y2="72.63" stroke="#333" stroke-width="1" />
<line x1="764.2" y1="92.69" x2="769.4" y2="92.69" stroke="#333" stroke-width="1" />
<circle cx="680.5" cy="55" r="1.95" fill="#fff" stroke="#151515" stroke-width="1.15"/>
<circle cx="684.5" cy="57.5" r="1.95" fill="#fff" stroke="#151515" stroke-width="1.15"/>
<circle cx="688.5" cy="57.5" r="1.95" fill="#fff" stroke="#151515" stroke-width="1.15"/>
<circle cx="681" cy="62" r="1.95" fill="#fff" stroke="#151515" stroke-width="1.15"/>
<circle cx="685" cy="63" r="1.95" fill="#fff" stroke="#151515" stroke-width="1.15"/>
<circle cx="689" cy="62" r="1.95" fill="#fff" stroke="#151515" stroke-width="1.15"/>
<circle cx="703" cy="84.6" r="1.95" fill="#fff" stroke="#151515" stroke-width="1.15"/>
<circle cx="709" cy="84" r="1.95" fill="#fff" stroke="#151515" stroke-width="1.15"/>
<circle cx="703.5" cy="97.6" r="1.95" fill="#fff" stroke="#151515" stroke-width="1.15"/>
<circle cx="710.5" cy="97.6" r="1.95" fill="#fff" stroke="#151515" stroke-width="1.15"/>
<circle cx="706.5" cy="107" r="1.95" fill="#fff" stroke="#151515" stroke-width="1.15"/>
<circle cx="704.5" cy="110" r="1.95" fill="#fff" stroke="#151515" stroke-width="1.15"/>
<circle cx="739" cy="64.5" r="1.95" fill="#fff" stroke="#151515" stroke-width="1.15"/>
<circle cx="743" cy="65.2" r="1.95" fill="#fff" stroke="#151515" stroke-width="1.15"/>
<circle cx="748.5" cy="63.5" r="1.95" fill="#fff" stroke="#151515" stroke-width="1.15"/>
<circle cx="740.5" cy="74.3" r="1.95" fill="#fff" stroke="#151515" stroke-width="1.15"/>
<circle cx="744.5" cy="77.5" r="1.95" fill="#fff" stroke="#151515" stroke-width="1.15"/>
<circle cx="741" cy="78" r="1.95" fill="#fff" stroke="#151515" stroke-width="1.15"/>
<circle cx="762" cy="64" r="1.95" fill="#fff" stroke="#151515" stroke-width="1.15"/>
<circle cx="766" cy="66" r="1.95" fill="#fff" stroke="#151515" stroke-width="1.15"/>
<circle cx="770" cy="65" r="1.95" fill="#fff" stroke="#151515" stroke-width="1.15"/>
<circle cx="763.5" cy="97" r="1.95" fill="#fff" stroke="#151515" stroke-width="1.15"/>
<circle cx="768.5" cy="97" r="1.95" fill="#fff" stroke="#151515" stroke-width="1.15"/>
<circle cx="766" cy="95.5" r="1.95" fill="#fff" stroke="#151515" stroke-width="1.15"/>
<line x1="685" y1="40.5" x2="707.5" y2="40.5" stroke="#151515" stroke-width="1.8" />
<text x="696.2" y="41.7" font-size="19" text-anchor="middle" font-weight="bold" >****</text>
<text x="642.3" y="95.2" font-size="9.73" text-anchor="middle" transform="rotate(-90 642.3 95.2)" >ETC1 activity (as % of T = 0)</text>
<text x="695.2" y="172.3" font-size="8.5" text-anchor="middle" >T<tspan font-size="0.6em" dy="2.0">H</tspan><tspan dy="-2.0">1</tspan></text>
<text x="755" y="172.3" font-size="8.5" text-anchor="middle" >T<tspan font-size="0.6em" dy="2.0">H</tspan><tspan dy="-2.0">17</tspan></text>
<rect x="658" y="180.2" width="22.5" height="10" fill="#07070f" />
<rect x="660.6" y="182.8" width="17.3" height="4.8" fill="#3155a8" />
<text x="692" y="189.6" font-size="12.8" >37°C</text>
<rect x="743.8" y="180.2" width="22.5" height="10" fill="#07070f" />
<rect x="746.4" y="182.8" width="17.3" height="4.8" fill="#ea2329" />
<text x="771.2" y="189.6" font-size="12.8" >39°C</text>
<line x1="25.1" y1="278.4" x2="25.1" y2="388.9" stroke="#555" stroke-width="1.5" />
<line x1="25.1" y1="388.2" x2="164.4" y2="388.2" stroke="#555" stroke-width="1.5" />
<line x1="22.3" y1="298.5" x2="25.3" y2="298.5" stroke="#333" stroke-width="1.2" />
<text x="20" y="301.7" font-size="9" text-anchor="end" font-weight="bold" fill="#222" >0.3</text>
<line x1="22.3" y1="332.8" x2="25.3" y2="332.8" stroke="#333" stroke-width="1.2" />
<text x="20" y="336" font-size="9" text-anchor="end" font-weight="bold" fill="#222" >0.2</text>
<line x1="22.3" y1="367.1" x2="25.3" y2="367.1" stroke="#333" stroke-width="1.2" />
<text x="20" y="370.3" font-size="9" text-anchor="end" font-weight="bold" fill="#222" >0.1</text>
<line x1="44.4" y1="388" x2="44.4" y2="391" stroke="#333" stroke-width="1.2" />
<text x="44.4" y="408" font-size="9.4" text-anchor="middle" font-weight="bold" fill="#222" >4</text>
<line x1="77.75" y1="388" x2="77.75" y2="391" stroke="#333" stroke-width="1.2" />
<text x="77.75" y="408" font-size="9.4" text-anchor="middle" font-weight="bold" fill="#222" >6</text>
<line x1="111" y1="388" x2="111" y2="391" stroke="#333" stroke-width="1.2" />
<text x="111" y="408" font-size="9.4" text-anchor="middle" font-weight="bold" fill="#222" >7</text>
<line x1="144.1" y1="388" x2="144.1" y2="391" stroke="#333" stroke-width="1.2" />
<text x="144.1" y="408" font-size="9.4" text-anchor="middle" font-weight="bold" fill="#222" >13</text>
<text x="101.5" y="427.5" font-size="10.2" text-anchor="middle" font-weight="bold" fill="#222" >Identity</text>
<text x="94.5" y="240.3" font-size="10.4" text-anchor="middle" font-weight="bold" fill="#222" >Crohn’s scRNA-seq</text>
<text x="91.5" y="253.3" font-size="10.4" text-anchor="middle" font-weight="bold" fill="#222" >Complex I pathway analysis</text>
<path d="M44.85 305.36 L44.85 306.67 L44.85 307.99 L44.85 309.3 L44.85 310.62 L44.85 311.93 L44.85 313.25 L44.85 314.56 L44.85 315.88 L44.85 317.19 L44.85 318.51 L44.85 319.82 L44.85 321.14 L44.92 322.45 L45.12 323.77 L45.38 325.08 L45.71 326.4 L46.13 327.71 L46.64 329.03 L47.26 330.34 L47.99 331.66 L48.83 332.97 L49.77 334.29 L50.82 335.6 L51.94 336.92 L53.12 338.23 L54.32 339.55 L55.5 340.86 L56.63 342.18 L57.64 343.49 L58.51 344.81 L59.19 346.12 L59.66 347.43 L59.88 348.75 L59.85 350.06 L59.58 351.38 L59.06 352.69 L58.34 354.01 L57.43 355.32 L56.39 356.64 L55.25 357.95 L54.06 359.27 L52.86 360.58 L51.69 361.9 L50.58 363.21 L49.56 364.53 L48.63 365.84 L47.82 367.16 L47.11 368.47 L46.52 369.79 L46.03 371.1 L45.63 372.42 L45.32 373.73 L45.07 375.05 L44.88 376.36 L44.85 377.68 L44.85 378.99 L44.85 380.31 L44.85 381.62 L44.85 382.94 L44.85 384.25 L43.95 384.25 L43.95 382.94 L43.95 381.62 L43.95 380.31 L43.95 378.99 L43.95 377.68 L43.92 376.36 L43.73 375.05 L43.48 373.73 L43.17 372.42 L42.77 371.1 L42.28 369.79 L41.69 368.47 L40.98 367.16 L40.17 365.84 L39.24 364.53 L38.22 363.21 L37.11 361.9 L35.94 360.58 L34.74 359.27 L33.55 357.95 L32.41 356.64 L31.37 355.32 L30.46 354.01 L29.74 352.69 L29.22 351.38 L28.95 350.06 L28.92 348.75 L29.14 347.43 L29.61 346.12 L30.29 344.81 L31.16 343.49 L32.17 342.18 L33.3 340.86 L34.48 339.55 L35.68 338.23 L36.86 336.92 L37.98 335.6 L39.03 334.29 L39.97 332.97 L40.81 331.66 L41.54 330.34 L42.16 329.03 L42.67 327.71 L43.09 326.4 L43.42 325.08 L43.68 323.77 L43.88 322.45 L43.95 321.14 L43.95 319.82 L43.95 318.51 L43.95 317.19 L43.95 315.88 L43.95 314.56 L43.95 313.25 L43.95 311.93 L43.95 310.62 L43.95 309.3 L43.95 307.99 L43.95 306.67 L43.95 305.36 Z" fill="#F8766D" stroke="#333" stroke-width="0.6"/>
<path d="M78.2 308.79 L78.2 309.99 L78.2 311.19 L78.2 312.39 L78.2 313.59 L78.2 314.79 L78.2 315.99 L78.2 317.19 L78.2 318.39 L78.2 319.59 L78.2 320.8 L78.2 322 L78.2 323.2 L78.2 324.4 L78.24 325.6 L78.41 326.8 L78.63 328 L78.9 329.2 L79.24 330.4 L79.65 331.6 L80.13 332.8 L80.71 334 L81.37 335.2 L82.11 336.4 L82.94 337.6 L83.84 338.8 L84.81 340 L85.81 341.2 L86.84 342.4 L87.85 343.6 L88.83 344.81 L89.74 346.01 L90.55 347.21 L91.22 348.41 L91.74 349.61 L92.09 350.81 L92.24 352.01 L92.2 353.21 L91.96 354.41 L91.54 355.61 L90.95 356.81 L90.21 358.01 L89.36 359.21 L88.42 360.41 L87.42 361.61 L86.4 362.81 L85.38 364.01 L84.39 365.21 L83.45 366.41 L82.58 367.61 L81.78 368.81 L81.07 370.02 L80.45 371.22 L79.92 372.42 L79.46 373.62 L79.09 374.82 L78.78 376.02 L78.53 377.22 L78.34 378.42 L78.2 379.62 L78.2 380.82 L77.3 380.82 L77.3 379.62 L77.16 378.42 L76.97 377.22 L76.72 376.02 L76.41 374.82 L76.04 373.62 L75.58 372.42 L75.05 371.22 L74.43 370.02 L73.72 368.81 L72.92 367.61 L72.05 366.41 L71.11 365.21 L70.12 364.01 L69.1 362.81 L68.08 361.61 L67.08 360.41 L66.14 359.21 L65.29 358.01 L64.55 356.81 L63.96 355.61 L63.54 354.41 L63.3 353.21 L63.26 352.01 L63.41 350.81 L63.76 349.61 L64.28 348.41 L64.95 347.21 L65.76 346.01 L66.67 344.81 L67.65 343.6 L68.66 342.4 L69.69 341.2 L70.69 340 L71.66 338.8 L72.56 337.6 L73.39 336.4 L74.13 335.2 L74.79 334 L75.37 332.8 L75.85 331.6 L76.26 330.4 L76.6 329.2 L76.87 328 L77.09 326.8 L77.26 325.6 L77.3 324.4 L77.3 323.2 L77.3 322 L77.3 320.8 L77.3 319.59 L77.3 318.39 L77.3 317.19 L77.3 315.99 L77.3 314.79 L77.3 313.59 L77.3 312.39 L77.3 311.19 L77.3 309.99 L77.3 308.79 Z" fill="#7CAE00" stroke="#333" stroke-width="0.6"/>
<path d="M111.45 287.18 L111.45 288.73 L111.45 290.28 L111.45 291.83 L111.45 293.38 L111.45 294.93 L111.45 296.48 L111.45 298.03 L111.45 299.57 L111.45 301.12 L111.45 302.67 L111.45 304.22 L111.45 305.77 L111.45 307.32 L111.45 308.87 L111.45 310.42 L111.45 311.97 L111.45 313.52 L111.45 315.07 L111.45 316.62 L111.45 318.17 L111.45 319.71 L111.45 321.26 L111.62 322.81 L111.9 324.36 L112.27 325.91 L112.76 327.46 L113.38 329.01 L114.15 330.56 L115.08 332.11 L116.16 333.66 L117.38 335.21 L118.71 336.76 L120.1 338.31 L121.51 339.85 L122.87 341.4 L124.1 342.95 L125.13 344.5 L125.91 346.05 L126.37 347.6 L126.5 349.15 L126.27 350.7 L125.71 352.25 L124.85 353.8 L123.75 355.35 L122.48 356.9 L121.1 358.44 L119.69 359.99 L118.3 361.54 L117 363.09 L115.82 364.64 L114.79 366.19 L113.91 367.74 L113.19 369.29 L112.6 370.84 L112.15 372.39 L111.81 373.94 L111.55 375.49 L111.45 377.04 L111.45 378.58 L111.45 380.13 L110.55 380.13 L110.55 378.58 L110.55 377.04 L110.45 375.49 L110.19 373.94 L109.85 372.39 L109.4 370.84 L108.81 369.29 L108.09 367.74 L107.21 366.19 L106.18 364.64 L105 363.09 L103.7 361.54 L102.31 359.99 L100.9 358.44 L99.52 356.9 L98.25 355.35 L97.15 353.8 L96.29 352.25 L95.73 350.7 L95.5 349.15 L95.63 347.6 L96.09 346.05 L96.87 344.5 L97.9 342.95 L99.13 341.4 L100.49 339.85 L101.9 338.31 L103.29 336.76 L104.62 335.21 L105.84 333.66 L106.92 332.11 L107.85 330.56 L108.62 329.01 L109.24 327.46 L109.73 325.91 L110.1 324.36 L110.38 322.81 L110.55 321.26 L110.55 319.71 L110.55 318.17 L110.55 316.62 L110.55 315.07 L110.55 313.52 L110.55 311.97 L110.55 310.42 L110.55 308.87 L110.55 307.32 L110.55 305.77 L110.55 304.22 L110.55 302.67 L110.55 301.12 L110.55 299.57 L110.55 298.03 L110.55 296.48 L110.55 294.93 L110.55 293.38 L110.55 291.83 L110.55 290.28 L110.55 288.73 L110.55 287.18 Z" fill="#00BFC4" stroke="#333" stroke-width="0.6"/>
<path d="M144.9 282.38 L145.14 283.8 L145.38 285.21 L145.6 286.63 L145.65 288.05 L145.7 289.47 L145.75 290.89 L145.8 292.3 L145.85 293.72 L145.93 295.14 L146.48 296.56 L147.04 297.97 L147.6 299.39 L148.16 300.81 L148.81 302.23 L149.82 303.65 L150.83 305.06 L151.83 306.48 L152.71 307.9 L153.34 309.32 L153.98 310.73 L154.61 312.15 L155.24 313.57 L155.79 314.99 L156.31 316.4 L156.84 317.82 L157.34 319.24 L157.69 320.66 L158.04 322.08 L158.39 323.49 L158.75 324.91 L159.05 326.33 L159.21 327.75 L159.38 329.16 L159.54 330.58 L159.53 332 L159.43 333.42 L159.33 334.84 L159.22 336.25 L159.12 337.67 L158.88 339.09 L158.6 340.51 L158.33 341.92 L158.03 343.34 L157.61 344.76 L157.2 346.18 L156.79 347.59 L156.27 349.01 L155.53 350.43 L154.79 351.85 L154.05 353.27 L153.31 354.68 L152.42 356.1 L151.47 357.52 L150.52 358.94 L149.56 360.35 L148.59 361.77 L147.63 363.19 L146.7 364.61 L145.8 366.03 L144.9 367.44 L143.3 367.44 L142.4 366.03 L141.5 364.61 L140.57 363.19 L139.61 361.77 L138.64 360.35 L137.68 358.94 L136.73 357.52 L135.78 356.1 L134.89 354.68 L134.15 353.27 L133.41 351.85 L132.67 350.43 L131.93 349.01 L131.41 347.59 L131 346.18 L130.59 344.76 L130.17 343.34 L129.87 341.92 L129.6 340.51 L129.32 339.09 L129.08 337.67 L128.98 336.25 L128.87 334.84 L128.77 333.42 L128.67 332 L128.66 330.58 L128.82 329.16 L128.99 327.75 L129.15 326.33 L129.45 324.91 L129.81 323.49 L130.16 322.08 L130.51 320.66 L130.86 319.24 L131.36 317.82 L131.89 316.4 L132.41 314.99 L132.96 313.57 L133.59 312.15 L134.22 310.73 L134.86 309.32 L135.49 307.9 L136.37 306.48 L137.37 305.06 L138.38 303.65 L139.39 302.23 L140.04 300.81 L140.6 299.39 L141.16 297.97 L141.72 296.56 L142.27 295.14 L142.35 293.72 L142.4 292.3 L142.45 290.89 L142.5 289.47 L142.55 288.05 L142.6 286.63 L142.82 285.21 L143.06 283.8 L143.3 282.38 Z" fill="#b48ad8" stroke="#333" stroke-width="0.6"/>
<path d="M48.7 350.2h1.2M32.2 341.2h1.2M31.8 358.1h1.2M44.6 349.7h1.2M32.1 335.1h1.2M32.7 344.3h1.2M33.6 366.6h1.2M36.5 337.2h1.2M46.6 366.9h1.2M41.4 367.5h1.2M54.7 343.6h1.2M38.4 347.7h1.2M38.9 343.6h1.2M53.4 342.6h1.2M48.4 340.7h1.2M40.8 333.2h1.2M31.8 351.2h1.2M36.0 348.4h1.2M39.1 352.4h1.2M46.8 358.4h1.2M52.8 356.6h1.2M50.1 344.4h1.2M45.1 346.6h1.2M55.1 332.0h1.2M58.1 348.4h1.2M33.5 356.7h1.2M34.4 364.3h1.2M44.1 337.6h1.2M52.0 330.4h1.2M46.5 343.0h1.2M50.0 340.0h1.2M47.1 354.3h1.2M54.1 358.5h1.2M57.1 353.4h1.2M31.8 364.2h1.2M50.2 344.4h1.2M53.6 369.4h1.2M38.2 376.6h1.2M30.7 360.3h1.2M43.3 335.8h1.2M31.8 344.3h1.2M52.1 342.1h1.2M41.3 341.2h1.2M55.0 340.8h1.2M45.8 336.1h1.2M55.4 341.0h1.2M38.1 337.4h1.2M42.0 368.3h1.2M57.5 362.5h1.2M34.4 328.4h1.2M36.8 343.4h1.2M44.0 339.6h1.2M30.2 354.9h1.2M42.1 352.0h1.2M57.4 357.5h1.2M49.8 336.2h1.2M49.4 363.3h1.2M31.6 348.8h1.2M55.1 330.8h1.2M52.9 359.2h1.2M33.1 356.4h1.2M48.2 339.8h1.2M36.1 343.2h1.2M34.7 345.5h1.2M30.1 349.3h1.2M34.4 344.0h1.2M30.8 338.3h1.2M55.1 340.6h1.2M37.3 352.2h1.2M40.0 351.6h1.2M54.4 351.1h1.2M58.5 342.7h1.2M32.6 360.3h1.2M33.0 344.4h1.2M53.8 352.2h1.2M34.7 339.6h1.2M45.2 318.9h1.2M34.3 343.1h1.2M45.2 349.8h1.2M58.1 347.9h1.2M37.6 335.4h1.2M40.6 360.8h1.2M45.3 337.2h1.2M52.4 329.8h1.2M53.3 351.2h1.2M58.3 339.9h1.2M53.5 334.5h1.2M51.3 364.1h1.2M40.3 345.2h1.2M30.9 333.3h1.2M37.5 337.9h1.2M49.9 345.6h1.2M56.9 335.0h1.2M58.4 350.6h1.2M36.4 336.5h1.2M36.6 350.3h1.2M47.9 344.6h1.2M55.8 339.8h1.2M48.8 340.0h1.2M53.0 358.4h1.2M56.1 332.4h1.2M52.5 338.5h1.2M35.2 347.2h1.2M52.7 360.5h1.2M57.9 357.6h1.2M41.4 329.0h1.2M50.8 370.2h1.2M35.0 330.8h1.2M56.0 342.5h1.2M53.2 342.4h1.2M58.1 334.0h1.2M48.9 329.9h1.2M33.8 355.9h1.2M30.5 335.3h1.2M45.2 330.6h1.2M56.8 350.3h1.2M53.7 368.8h1.2M36.1 337.7h1.2M37.0 347.3h1.2M46.9 337.5h1.2M33.8 347.9h1.2M56.1 335.1h1.2M46.8 355.0h1.2M56.0 336.9h1.2M44.4 370.1h1.2M45.3 334.7h1.2M42.7 349.4h1.2M35.3 347.5h1.2M35.0 326.3h1.2M43.6 346.7h1.2M39.4 349.5h1.2M44.9 361.9h1.2M33.1 366.4h1.2M46.1 354.2h1.2M52.2 347.1h1.2M44.6 337.8h1.2M56.2 365.4h1.2M42.8 354.7h1.2M44.7 357.7h1.2M49.9 356.2h1.2M43.8 361.0h1.2M57.0 343.0h1.2M57.0 354.7h1.2M37.5 369.9h1.2M54.1 373.2h1.2M34.0 357.4h1.2M32.2 338.1h1.2M37.0 338.5h1.2M52.5 331.7h1.2M55.8 339.5h1.2M49.0 336.8h1.2M34.2 331.9h1.2M36.4 324.6h1.2M57.3 367.7h1.2M58.4 358.0h1.2M53.9 339.2h1.2M44.8 340.7h1.2M39.8 336.7h1.2M50.8 343.8h1.2M30.7 337.6h1.2M30.6 359.1h1.2M39.6 351.4h1.2M31.9 357.2h1.2M58.3 357.0h1.2M33.1 339.8h1.2M37.7 377.4h1.2M37.8 327.6h1.2M33.8 342.2h1.2M53.5 369.9h1.2M37.5 335.2h1.2M46.4 331.7h1.2M50.1 326.1h1.2M49.8 343.8h1.2M42.3 345.1h1.2M48.2 322.5h1.2M53.0 335.1h1.2M32.0 327.3h1.2M54.8 335.7h1.2M45.9 357.4h1.2M56.6 344.2h1.2M45.2 347.9h1.2M36.9 341.1h1.2M31.5 341.9h1.2M35.9 342.8h1.2M51.8 351.0h1.2M38.4 338.0h1.2M40.0 354.5h1.2M30.6 347.2h1.2M51.1 347.2h1.2M45.9 345.2h1.2M56.8 342.3h1.2M33.1 334.9h1.2M44.3 342.0h1.2M54.0 358.5h1.2M49.8 358.1h1.2M58.2 338.6h1.2M50.3 359.3h1.2M48.3 328.8h1.2M31.7 356.1h1.2M33.8 341.1h1.2M37.4 329.9h1.2M34.8 339.0h1.2M55.0 327.9h1.2M49.3 335.9h1.2M38.5 348.9h1.2M43.2 338.7h1.2M37.6 340.3h1.2M57.6 336.6h1.2M37.1 332.7h1.2M57.7 349.7h1.2M30.1 351.2h1.2M41.0 337.0h1.2M35.8 360.8h1.2M44.5 345.0h1.2M32.7 338.1h1.2M41.5 346.9h1.2M38.8 344.8h1.2M36.8 346.6h1.2M51.6 359.5h1.2M48.9 354.5h1.2M41.2 352.3h1.2M39.4 370.6h1.2M50.8 340.6h1.2M48.5 347.8h1.2M55.6 325.9h1.2M48.0 341.2h1.2M34.1 349.4h1.2M45.1 368.4h1.2M53.1 369.3h1.2M53.7 347.8h1.2M49.6 368.5h1.2M49.9 359.6h1.2M33.9 346.8h1.2M40.4 344.3h1.2M46.1 329.7h1.2M48.1 333.6h1.2M44.1 359.6h1.2M30.2 359.8h1.2M44.5 341.5h1.2M45.4 365.7h1.2M51.2 349.5h1.2M37.3 350.8h1.2M51.0 339.0h1.2M36.0 343.1h1.2M44.2 349.2h1.2M41.0 378.9h1.2M52.0 364.7h1.2M47.7 344.9h1.2M34.3 350.1h1.2M37.4 350.9h1.2M46.3 347.6h1.2M30.5 357.1h1.2M49.3 338.6h1.2M49.9 343.8h1.2M44.9 351.6h1.2M43.4 355.8h1.2M55.7 352.9h1.2M35.8 346.0h1.2M30.6 320.1h1.2M43.2 351.0h1.2M43.0 334.2h1.2M37.8 374.9h1.2M36.1 340.2h1.2M46.7 320.0h1.2M57.3 338.3h1.2M33.9 336.2h1.2M55.5 341.3h1.2M50.2 359.8h1.2M44.0 344.3h1.2M30.8 322.5h1.2M43.0 333.6h1.2M38.7 346.9h1.2M39.1 340.4h1.2M54.1 338.9h1.2M54.1 327.8h1.2M33.5 347.0h1.2M55.9 330.7h1.2M38.4 355.4h1.2M58.7 355.3h1.2M47.0 338.8h1.2M38.0 355.1h1.2M31.5 337.7h1.2M38.3 329.4h1.2M56.9 334.0h1.2M44.7 347.2h1.2M35.5 338.0h1.2M55.4 367.6h1.2M53.3 326.4h1.2M57.0 364.8h1.2M45.8 366.1h1.2M51.0 347.9h1.2M43.0 350.9h1.2M38.3 346.9h1.2M31.5 364.0h1.2M43.6 341.8h1.2M39.9 349.9h1.2M58.0 352.9h1.2M37.5 328.9h1.2M46.0 352.7h1.2M41.4 355.4h1.2M36.0 343.8h1.2M56.0 341.2h1.2M56.0 355.4h1.2M58.6 347.1h1.2M35.6 353.3h1.2M32.7 345.2h1.2M36.9 350.0h1.2M37.5 342.9h1.2M51.5 369.3h1.2M41.9 357.5h1.2M40.9 359.4h1.2M39.8 339.9h1.2M57.8 338.5h1.2M33.7 343.6h1.2M54.8 363.6h1.2M36.3 347.6h1.2M41.5 348.4h1.2M42.9 338.5h1.2M55.1 325.5h1.2M30.7 353.7h1.2M55.7 329.2h1.2M43.6 343.5h1.2M41.3 347.4h1.2M56.6 347.3h1.2M57.9 336.7h1.2M37.2 367.6h1.2M45.0 342.0h1.2M49.6 342.9h1.2M48.6 329.8h1.2M52.0 353.9h1.2M31.2 361.4h1.2M52.5 343.3h1.2M48.6 344.3h1.2M38.8 321.2h1.2M48.3 341.0h1.2M50.1 340.8h1.2M45.1 343.8h1.2M46.8 344.3h1.2M47.3 353.5h1.2M30.4 341.8h1.2M57.5 351.3h1.2M48.5 334.9h1.2M36.8 337.3h1.2M37.2 356.0h1.2M38.9 329.5h1.2M30.7 351.7h1.2M42.1 364.7h1.2M37.5 347.0h1.2M36.6 360.4h1.2M31.1 370.3h1.2M49.6 353.6h1.2M35.8 336.8h1.2M44.5 341.6h1.2M36.0 365.5h1.2M53.6 337.3h1.2M36.7 349.1h1.2M38.5 343.7h1.2M57.3 327.8h1.2M36.5 354.7h1.2M42.0 347.0h1.2M34.3 361.6h1.2M41.4 371.7h1.2M34.2 339.9h1.2M31.6 316.5h1.2M55.8 336.4h1.2M55.4 342.9h1.2M56.7 351.6h1.2M56.9 350.8h1.2M51.4 340.6h1.2M40.9 330.3h1.2M40.8 343.8h1.2M30.2 350.7h1.2M38.1 341.0h1.2M33.6 364.5h1.2M57.7 323.8h1.2M53.6 344.3h1.2M53.6 336.6h1.2M43.6 350.6h1.2M40.8 345.7h1.2M40.5 340.5h1.2M55.8 350.9h1.2M53.3 335.4h1.2M52.0 344.9h1.2M31.9 344.2h1.2M56.4 346.4h1.2M55.8 348.1h1.2M39.8 327.9h1.2M47.7 351.3h1.2M37.6 318.2h1.2M38.0 349.3h1.2M30.2 357.2h1.2M48.2 346.3h1.2M57.1 373.2h1.2M43.7 338.8h1.2M57.5 345.9h1.2M37.3 336.2h1.2M42.4 350.5h1.2M35.3 373.9h1.2M53.1 346.1h1.2M52.2 348.8h1.2M47.5 368.8h1.2M40.4 352.0h1.2M52.5 338.2h1.2M51.6 340.4h1.2M37.2 343.5h1.2M45.9 344.4h1.2M39.4 346.0h1.2M58.4 323.2h1.2M37.7 350.2h1.2M44.4 342.7h1.2M50.4 344.6h1.2M42.0 355.3h1.2M47.8 344.4h1.2M54.3 356.1h1.2M49.1 364.4h1.2M38.5 331.0h1.2M46.3 331.8h1.2M35.8 360.5h1.2M37.2 333.5h1.2M55.4 347.0h1.2M46.6 340.5h1.2M58.5 352.6h1.2M44.6 336.8h1.2M48.8 344.7h1.2M58.4 326.1h1.2M53.5 336.6h1.2M54.1 339.3h1.2M38.5 344.3h1.2M33.5 348.9h1.2M46.8 335.6h1.2M56.7 318.1h1.2M42.9 363.5h1.2M37.5 330.4h1.2M33.1 342.3h1.2M47.1 374.9h1.2M40.6 353.2h1.2M34.1 352.8h1.2M47.2 344.7h1.2M48.7 338.6h1.2M39.5 346.7h1.2M49.5 345.5h1.2M35.9 343.2h1.2M52.8 337.9h1.2M33.0 351.2h1.2M41.4 348.5h1.2M32.7 363.0h1.2M34.8 352.4h1.2M38.2 351.2h1.2M38.9 358.5h1.2M46.3 337.5h1.2M40.3 350.1h1.2M58.6 367.4h1.2M40.5 335.5h1.2M35.9 341.1h1.2M30.3 329.4h1.2M53.6 337.2h1.2M41.7 354.3h1.2M34.7 337.6h1.2M30.5 355.9h1.2M56.1 363.0h1.2M32.6 352.5h1.2M44.5 355.3h1.2M34.3 355.0h1.2M56.6 350.1h1.2M33.2 333.4h1.2M57.8 368.2h1.2M35.7 345.9h1.2M58.0 327.7h1.2M43.9 327.3h1.2M41.2 322.1h1.2M56.0 338.4h1.2M34.7 363.0h1.2M52.6 362.1h1.2M54.3 345.1h1.2M53.8 335.5h1.2M41.5 343.9h1.2M44.9 339.7h1.2M37.2 351.7h1.2M50.8 343.2h1.2M46.2 344.5h1.2M51.8 349.2h1.2M33.5 325.6h1.2M47.2 341.9h1.2M38.9 362.8h1.2M42.1 352.3h1.2M48.9 357.9h1.2M42.9 353.3h1.2M47.8 349.6h1.2M44.1 346.2h1.2M52.4 345.4h1.2M43.2 327.5h1.2M33.2 341.6h1.2M33.8 335.3h1.2M42.7 351.8h1.2M44.7 345.0h1.2M32.5 331.2h1.2M51.1 343.0h1.2M31.7 344.8h1.2M44.5 361.0h1.2M34.0 367.8h1.2M54.6 327.3h1.2M53.4 328.3h1.2M35.6 347.7h1.2M57.5 333.7h1.2M56.3 348.8h1.2M56.7 336.8h1.2M32.0 329.5h1.2M34.6 358.8h1.2M55.7 331.4h1.2M34.2 350.6h1.2M44.5 326.0h1.2M37.6 340.2h1.2M44.6 351.1h1.2M35.3 348.5h1.2M34.7 344.3h1.2M55.7 331.0h1.2M34.9 354.1h1.2M45.3 346.0h1.2M48.3 352.8h1.2M46.0 362.3h1.2M46.7 328.9h1.2M58.5 343.2h1.2M48.1 350.9h1.2M37.7 363.6h1.2M58.4 334.4h1.2M52.0 357.0h1.2M42.7 352.4h1.2M31.5 338.7h1.2M53.5 330.0h1.2M58.2 347.6h1.2M46.9 330.6h1.2M30.2 352.4h1.2M31.1 355.9h1.2M42.5 337.7h1.2M44.8 334.2h1.2M36.6 342.3h1.2M48.8 351.0h1.2M40.3 346.4h1.2M33.1 347.1h1.2M46.8 352.4h1.2M46.9 340.7h1.2M43.7 342.6h1.2M34.0 331.6h1.2M34.4 339.2h1.2M32.8 350.6h1.2M52.5 362.5h1.2M41.6 365.2h1.2M48.5 347.4h1.2M46.2 345.4h1.2M42.8 357.1h1.2M56.9 333.6h1.2M55.9 348.1h1.2M31.4 356.0h1.2M36.9 358.9h1.2M31.8 349.5h1.2M45.9 346.9h1.2M57.0 349.0h1.2M47.5 342.3h1.2M44.6 341.1h1.2M35.1 360.7h1.2M38.9 363.8h1.2M55.5 348.3h1.2M52.5 343.7h1.2M54.3 347.5h1.2M51.4 348.5h1.2M43.0 365.9h1.2M36.6 343.1h1.2M31.2 340.5h1.2M39.7 342.0h1.2M54.3 347.2h1.2M50.5 365.2h1.2M42.6 348.7h1.2M52.6 332.5h1.2M48.5 356.3h1.2M57.7 348.5h1.2M30.5 342.3h1.2M37.5 323.7h1.2M57.1 345.5h1.2M51.4 328.0h1.2M39.5 358.4h1.2M36.9 325.9h1.2M49.9 333.4h1.2M49.1 356.2h1.2M54.1 334.2h1.2M50.1 348.9h1.2M50.8 339.4h1.2M46.4 357.0h1.2M47.9 350.1h1.2M32.3 339.7h1.2M30.9 341.7h1.2M33.2 350.7h1.2M34.2 337.5h1.2M30.9 351.8h1.2M48.2 329.9h1.2M50.0 342.6h1.2M47.0 347.6h1.2M40.5 351.5h1.2M55.6 338.3h1.2M32.0 366.9h1.2M57.1 329.8h1.2M33.2 366.3h1.2M31.1 345.6h1.2M54.3 341.7h1.2M53.7 340.9h1.2M48.2 362.5h1.2M32.9 348.5h1.2M51.8 342.0h1.2M42.2 344.4h1.2M30.7 337.4h1.2M50.6 347.6h1.2M40.6 337.7h1.2M44.5 360.2h1.2M54.4 320.1h1.2M41.9 349.4h1.2M42.6 349.2h1.2M50.3 345.7h1.2M45.5 357.9h1.2M32.7 342.4h1.2M53.5 324.5h1.2M35.9 346.9h1.2M51.9 346.7h1.2M44.1 346.1h1.2M44.2 347.4h1.2M44.2 345.0h1.2M40.0 354.3h1.2M57.1 342.7h1.2M38.2 355.1h1.2M44.4 343.2h1.2M33.2 329.6h1.2M52.6 350.3h1.2M50.0 350.8h1.2M40.3 343.4h1.2M41.6 363.2h1.2M32.6 366.5h1.2M55.5 332.1h1.2M37.6 339.4h1.2M55.9 346.0h1.2M55.4 358.6h1.2M36.8 347.3h1.2M51.7 361.1h1.2M51.6 343.7h1.2M39.4 353.8h1.2M34.5 355.8h1.2M51.3 337.7h1.2M34.9 361.5h1.2M46.7 365.8h1.2M33.7 339.7h1.2M36.9 370.8h1.2M35.6 341.5h1.2M54.2 353.0h1.2M34.5 330.0h1.2M39.4 342.3h1.2M45.0 339.9h1.2M35.5 341.7h1.2M58.0 338.4h1.2M57.6 347.9h1.2M33.0 352.6h1.2M52.8 372.2h1.2M51.1 324.9h1.2M48.3 354.3h1.2M33.2 344.1h1.2M31.1 344.1h1.2M41.5 336.1h1.2M44.4 342.6h1.2M48.2 364.5h1.2M47.4 353.5h1.2M41.7 345.7h1.2M42.4 348.7h1.2M46.5 372.6h1.2M36.6 347.3h1.2M50.8 359.4h1.2M50.1 332.5h1.2M54.5 361.0h1.2M43.1 354.4h1.2M39.1 362.3h1.2M42.1 350.9h1.2M52.5 351.0h1.2M37.3 351.0h1.2M42.2 363.2h1.2M41.8 362.8h1.2M49.4 342.7h1.2M48.8 340.5h1.2M52.4 350.4h1.2M58.0 357.6h1.2M31.2 338.5h1.2M52.5 353.9h1.2M57.0 349.1h1.2M46.5 352.6h1.2M45.6 347.9h1.2M48.4 350.1h1.2M53.8 360.9h1.2M57.2 359.1h1.2M36.1 348.8h1.2M51.9 351.9h1.2M33.6 357.9h1.2M31.7 336.3h1.2M37.9 348.3h1.2M42.1 348.7h1.2M42.1 346.1h1.2M37.7 350.7h1.2M36.5 357.5h1.2M45.2 348.7h1.2M36.4 374.8h1.2M36.2 343.5h1.2M33.8 358.2h1.2M48.2 343.7h1.2M43.5 368.1h1.2M57.7 354.9h1.2M40.2 350.4h1.2M53.4 361.1h1.2M43.5 363.7h1.2M33.7 351.2h1.2M53.9 333.1h1.2M37.7 361.1h1.2M40.9 329.2h1.2M35.4 347.5h1.2M30.2 334.9h1.2M37.1 348.9h1.2M38.7 356.5h1.2M48.3 359.4h1.2M49.0 345.6h1.2M54.5 364.6h1.2M31.7 326.8h1.2M52.5 335.3h1.2M34.1 369.6h1.2M30.5 339.1h1.2M30.4 361.6h1.2M37.3 330.9h1.2M33.0 352.3h1.2M52.3 341.9h1.2M40.0 340.6h1.2M52.7 332.7h1.2M34.9 326.5h1.2M52.4 334.8h1.2M49.2 357.3h1.2M54.1 331.1h1.2M35.7 359.9h1.2M51.3 352.3h1.2M42.6 360.6h1.2M37.7 336.2h1.2M36.8 357.2h1.2M31.8 338.5h1.2M43.5 336.8h1.2M44.3 338.9h1.2M45.5 336.5h1.2M54.1 346.3h1.2M43.5 348.2h1.2M54.1 363.1h1.2M40.8 353.8h1.2M32.3 373.1h1.2M48.3 332.7h1.2M47.5 349.0h1.2M49.6 349.3h1.2M58.2 337.7h1.2M44.7 351.6h1.2M31.1 372.0h1.2M50.6 344.8h1.2M54.7 354.7h1.2M40.6 354.7h1.2M52.1 361.3h1.2M36.1 344.9h1.2M45.9 358.4h1.2M53.7 342.4h1.2M41.6 353.0h1.2M44.5 326.1h1.2M58.0 349.1h1.2M48.8 333.5h1.2M39.2 344.5h1.2M38.7 357.3h1.2M52.5 361.4h1.2M31.2 355.8h1.2M45.7 351.4h1.2M31.5 371.1h1.2M35.5 347.6h1.2M56.5 346.0h1.2M52.7 360.5h1.2M56.1 358.0h1.2M48.0 359.5h1.2M50.0 357.6h1.2M36.2 361.7h1.2M49.2 357.2h1.2M33.0 366.3h1.2M35.3 342.0h1.2M56.2 327.6h1.2M48.9 342.6h1.2M52.6 361.9h1.2M46.2 331.3h1.2M42.2 347.7h1.2M39.2 337.3h1.2M56.8 362.4h1.2M31.7 340.2h1.2M33.5 350.2h1.2M53.3 348.6h1.2M42.9 370.5h1.2M30.5 359.1h1.2M56.9 359.1h1.2M58.2 337.0h1.2M33.0 359.1h1.2M48.5 345.4h1.2M30.5 345.6h1.2M30.2 340.7h1.2M57.7 349.6h1.2M32.6 352.6h1.2M30.6 343.0h1.2M50.7 351.7h1.2M35.5 346.3h1.2M31.5 328.3h1.2M54.6 344.4h1.2M51.0 365.4h1.2M50.4 333.0h1.2M43.3 338.9h1.2M57.7 339.1h1.2M50.6 350.9h1.2M48.7 345.2h1.2M53.5 347.1h1.2M51.0 338.4h1.2M34.8 342.4h1.2M31.8 338.6h1.2M40.6 357.5h1.2M49.5 358.4h1.2M34.2 352.9h1.2M48.5 344.0h1.2M48.1 357.8h1.2M52.6 357.2h1.2M57.1 341.5h1.2M38.5 344.0h1.2M31.8 361.9h1.2M53.8 329.3h1.2M39.6 350.2h1.2M53.9 372.5h1.2M47.3 367.0h1.2M55.5 351.6h1.2M40.9 335.7h1.2M55.7 353.5h1.2M53.2 361.7h1.2M37.6 347.3h1.2M42.2 346.5h1.2M55.5 365.6h1.2M31.3 358.3h1.2M54.9 336.6h1.2M46.5 365.7h1.2M53.2 350.6h1.2M49.7 324.7h1.2M32.5 338.0h1.2M45.9 352.8h1.2M51.6 344.9h1.2M56.7 354.7h1.2M49.5 345.6h1.2M43.4 331.3h1.2M51.6 344.8h1.2M52.7 338.6h1.2M53.2 352.0h1.2M52.2 346.0h1.2M55.8 345.6h1.2M55.4 331.9h1.2M47.0 360.4h1.2M35.5 349.0h1.2M50.2 344.6h1.2M40.5 340.3h1.2M44.9 358.1h1.2M34.4 351.9h1.2M40.8 308.8h1.2M33.1 336.2h1.2M34.6 361.0h1.2M47.2 362.4h1.2M30.7 355.1h1.2M31.1 335.5h1.2M44.0 323.9h1.2M46.3 348.6h1.2M42.3 348.7h1.2M57.2 327.0h1.2M57.7 344.9h1.2M37.4 368.6h1.2M35.3 339.6h1.2M32.5 345.4h1.2M55.0 333.1h1.2M43.2 342.5h1.2M31.9 323.0h1.2M47.2 355.5h1.2M57.5 351.9h1.2M37.5 343.7h1.2M57.5 362.5h1.2M49.3 353.8h1.2M34.7 357.2h1.2M57.7 339.3h1.2M31.2 339.0h1.2M37.4 347.6h1.2M56.0 362.3h1.2M54.0 327.0h1.2M50.4 327.6h1.2M48.6 341.2h1.2M34.2 343.3h1.2M51.7 347.6h1.2M38.6 330.9h1.2M47.0 353.7h1.2M39.4 346.9h1.2M37.5 352.7h1.2M34.9 337.7h1.2M36.9 337.8h1.2M30.5 336.3h1.2M50.6 333.5h1.2M56.6 346.1h1.2M36.4 344.2h1.2M55.5 325.8h1.2M34.1 356.6h1.2M56.7 352.2h1.2M54.2 345.5h1.2M39.8 356.1h1.2M53.6 356.4h1.2M34.2 363.4h1.2M36.4 344.9h1.2M45.9 329.9h1.2M34.2 340.8h1.2M41.9 340.9h1.2M34.6 353.9h1.2M39.7 350.2h1.2M34.9 325.1h1.2M55.9 357.4h1.2M33.4 346.6h1.2M55.7 343.3h1.2M49.2 347.7h1.2M38.3 344.0h1.2M37.5 334.3h1.2M58.4 343.9h1.2M58.6 336.6h1.2M38.4 342.5h1.2M55.7 349.6h1.2M38.5 329.6h1.2M58.1 340.6h1.2M39.8 326.2h1.2M34.1 345.1h1.2M45.2 325.2h1.2M35.4 346.9h1.2M36.3 370.8h1.2M46.4 337.0h1.2M52.1 342.5h1.2M50.5 341.6h1.2M32.6 345.6h1.2M47.5 342.7h1.2M36.0 356.5h1.2M47.6 346.9h1.2M46.8 352.8h1.2M35.9 367.8h1.2M41.8 329.9h1.2M50.7 339.6h1.2M39.7 327.2h1.2M54.2 340.0h1.2M30.5 338.2h1.2M56.1 357.4h1.2M37.7 370.6h1.2M35.4 343.7h1.2M34.8 341.7h1.2M40.7 356.9h1.2M45.0 348.1h1.2M42.8 347.8h1.2M50.5 353.1h1.2M53.5 347.8h1.2M50.4 340.4h1.2M41.0 354.9h1.2M55.1 347.2h1.2M57.4 351.4h1.2M45.3 361.2h1.2M45.5 346.7h1.2M36.5 316.9h1.2M35.3 343.3h1.2M53.5 340.1h1.2M31.0 341.9h1.2M35.7 332.4h1.2M30.6 336.9h1.2M45.1 359.6h1.2M50.2 356.1h1.2M50.6 328.4h1.2M31.4 333.0h1.2M44.4 337.5h1.2M38.1 337.7h1.2M34.0 338.6h1.2M47.0 339.0h1.2M46.5 343.0h1.2M51.5 352.2h1.2M56.9 336.0h1.2M41.2 328.5h1.2M45.1 366.8h1.2M41.4 336.5h1.2M39.8 328.4h1.2M37.0 354.5h1.2M58.2 353.6h1.2M53.1 336.5h1.2M54.3 328.9h1.2M31.6 358.4h1.2M56.8 376.4h1.2M37.2 350.4h1.2M40.5 361.8h1.2M45.3 339.4h1.2M44.5 335.9h1.2M30.7 342.0h1.2M52.3 327.5h1.2M56.9 323.5h1.2M55.4 361.4h1.2M55.4 363.0h1.2M37.7 330.9h1.2M49.5 343.6h1.2M56.5 349.3h1.2M47.9 332.8h1.2M42.5 347.3h1.2M57.3 333.1h1.2M48.6 349.5h1.2M33.5 337.5h1.2M44.8 371.4h1.2M37.8 363.5h1.2M34.3 361.3h1.2M33.6 344.2h1.2M41.7 340.6h1.2M38.3 340.1h1.2M45.7 347.0h1.2M54.1 342.2h1.2M48.7 358.9h1.2M35.9 356.9h1.2M45.8 350.4h1.2M47.6 359.8h1.2M37.0 357.1h1.2M36.4 345.3h1.2M46.9 358.6h1.2M30.4 348.1h1.2M36.9 361.2h1.2M46.0 328.7h1.2M58.3 356.7h1.2M38.6 346.7h1.2M32.0 346.3h1.2M55.0 354.0h1.2M41.2 351.1h1.2M42.7 345.7h1.2M36.5 347.7h1.2M57.5 352.8h1.2M39.7 347.7h1.2M40.2 353.9h1.2M54.4 354.5h1.2M53.6 361.6h1.2M51.4 366.2h1.2M51.8 349.3h1.2M50.4 367.4h1.2M56.3 344.0h1.2M30.2 330.8h1.2M52.0 330.3h1.2M57.6 359.0h1.2M46.5 354.2h1.2M55.1 365.0h1.2M47.5 337.1h1.2M43.2 356.5h1.2M50.8 338.4h1.2M46.0 350.3h1.2M41.1 336.0h1.2M54.4 356.2h1.2M44.4 328.8h1.2M38.8 354.2h1.2M34.2 344.6h1.2M32.6 360.9h1.2M56.4 354.2h1.2M54.1 357.3h1.2M57.5 327.1h1.2M56.1 343.7h1.2M30.4 335.4h1.2M44.3 332.8h1.2M56.4 342.8h1.2M58.7 345.1h1.2M44.9 361.6h1.2M41.2 364.8h1.2M40.3 349.1h1.2M57.2 356.2h1.2M49.4 353.3h1.2M40.8 352.5h1.2M41.6 348.0h1.2M55.3 361.3h1.2M57.7 352.9h1.2M48.0 359.7h1.2M58.6 346.2h1.2M53.4 355.1h1.2M35.0 335.3h1.2M53.7 360.6h1.2M44.8 317.8h1.2M49.8 328.2h1.2M53.6 331.4h1.2M42.1 322.8h1.2M34.6 348.7h1.2M44.5 350.7h1.2M35.5 333.7h1.2M47.3 340.4h1.2M40.2 332.2h1.2M31.3 330.6h1.2M41.9 347.9h1.2M49.9 344.9h1.2M30.2 356.9h1.2M46.9 354.7h1.2M49.2 326.1h1.2M45.9 342.7h1.2M37.7 334.3h1.2M58.6 355.9h1.2M46.5 358.7h1.2M34.6 352.2h1.2M51.8 344.1h1.2M35.0 343.0h1.2M45.0 343.9h1.2M53.2 340.1h1.2M31.9 361.6h1.2M39.3 327.3h1.2M50.6 345.6h1.2M37.7 351.5h1.2M32.9 341.6h1.2M40.1 334.5h1.2M43.0 356.0h1.2M55.6 350.2h1.2M46.8 344.6h1.2M47.8 335.1h1.2M37.2 350.4h1.2M54.5 321.3h1.2M39.1 339.9h1.2M38.8 329.9h1.2M47.3 359.9h1.2M57.3 334.0h1.2M37.0 350.6h1.2M36.4 361.5h1.2M38.9 335.4h1.2M52.8 337.7h1.2M37.1 356.7h1.2M35.4 342.1h1.2M57.9 337.5h1.2M33.4 351.0h1.2M45.4 332.7h1.2M32.0 356.1h1.2M33.6 339.4h1.2M37.1 342.2h1.2M35.6 356.8h1.2M31.1 349.0h1.2M49.1 338.8h1.2M50.3 350.9h1.2M32.7 341.5h1.2M33.8 349.9h1.2M42.8 325.2h1.2M34.7 336.3h1.2M40.2 365.3h1.2M57.5 349.2h1.2M36.1 358.4h1.2M36.6 334.0h1.2M43.0 351.4h1.2M37.6 334.8h1.2M55.8 333.8h1.2M37.1 356.7h1.2M47.5 353.0h1.2M33.6 341.7h1.2M44.8 324.2h1.2M52.2 356.1h1.2M41.1 349.7h1.2M39.0 355.5h1.2M41.3 359.8h1.2M54.4 341.0h1.2M39.3 343.5h1.2M46.2 350.1h1.2M40.4 352.0h1.2M32.0 357.0h1.2M39.0 347.2h1.2M50.6 346.3h1.2M38.2 341.2h1.2M52.3 368.2h1.2M55.3 332.6h1.2M38.0 343.2h1.2M30.9 352.0h1.2M40.2 354.6h1.2M41.9 362.8h1.2M37.2 357.0h1.2M54.3 362.4h1.2M35.3 357.0h1.2M33.4 334.1h1.2M50.5 331.0h1.2M31.3 357.1h1.2M35.8 340.5h1.2M38.8 345.5h1.2M39.0 349.6h1.2M48.4 345.0h1.2M46.4 337.7h1.2M50.6 327.0h1.2M49.7 347.6h1.2M40.1 334.8h1.2M52.3 325.1h1.2M38.3 347.1h1.2M47.5 325.2h1.2M31.5 341.1h1.2M52.7 347.0h1.2M36.1 341.5h1.2M32.6 330.5h1.2M50.0 357.1h1.2M53.8 362.4h1.2M38.1 335.2h1.2M42.2 323.4h1.2M56.7 332.1h1.2M53.8 354.1h1.2M48.1 365.0h1.2M50.1 350.9h1.2M42.4 346.1h1.2M33.8 373.9h1.2M51.9 349.2h1.2M53.1 329.7h1.2M37.6 342.3h1.2M48.3 376.7h1.2M45.7 356.1h1.2M40.3 347.2h1.2M41.9 343.1h1.2M34.0 344.2h1.2M50.3 337.6h1.2M37.0 351.3h1.2M44.8 354.7h1.2M40.2 372.9h1.2M38.7 338.0h1.2M46.2 342.4h1.2M39.6 351.5h1.2M51.9 341.3h1.2M34.9 360.7h1.2M43.3 355.1h1.2M52.0 360.8h1.2M38.4 344.4h1.2M40.4 352.2h1.2M38.1 346.1h1.2M35.7 343.2h1.2M33.3 351.0h1.2M39.4 359.3h1.2M34.9 358.1h1.2M32.2 345.0h1.2M51.6 311.0h1.2M32.5 344.7h1.2M46.2 353.9h1.2M33.2 379.2h1.2M35.5 359.6h1.2M45.6 346.3h1.2M48.5 321.1h1.2M48.1 345.8h1.2M37.3 331.6h1.2M37.1 353.9h1.2M52.2 345.4h1.2M54.1 345.1h1.2M48.3 349.4h1.2M54.3 340.0h1.2M52.5 340.9h1.2M53.8 350.4h1.2M35.4 347.7h1.2M53.7 357.6h1.2M45.9 352.0h1.2M40.7 337.1h1.2M31.3 343.0h1.2M46.3 354.7h1.2M50.3 362.2h1.2M56.0 362.8h1.2M44.4 334.4h1.2M34.6 351.8h1.2M32.4 351.9h1.2M49.8 332.6h1.2M57.8 340.7h1.2M32.7 336.4h1.2M35.6 335.1h1.2M50.8 344.1h1.2M54.6 324.9h1.2M52.6 346.8h1.2M49.0 355.7h1.2M44.8 342.9h1.2M42.6 356.5h1.2M49.2 342.2h1.2M34.8 335.6h1.2M38.6 369.6h1.2M40.1 361.3h1.2M35.7 342.0h1.2M43.3 338.3h1.2M57.9 342.0h1.2M58.0 327.6h1.2M57.6 359.9h1.2M31.8 362.7h1.2M49.4 361.8h1.2M46.4 354.8h1.2M57.4 353.4h1.2M38.7 363.9h1.2M39.9 345.2h1.2M35.5 345.1h1.2M49.5 349.0h1.2M49.0 351.9h1.2M40.7 345.6h1.2M45.3 357.8h1.2M46.3 353.1h1.2M35.3 351.8h1.2M55.6 343.7h1.2M54.8 352.6h1.2M37.3 348.9h1.2M37.3 335.3h1.2M44.1 339.1h1.2M46.5 355.1h1.2M33.3 350.0h1.2M32.4 362.7h1.2M41.8 348.5h1.2M54.8 336.0h1.2M45.8 341.6h1.2M33.4 351.5h1.2M58.4 366.3h1.2M53.8 348.2h1.2M41.3 352.5h1.2M46.2 333.2h1.2M52.3 321.2h1.2M31.7 334.0h1.2M36.9 331.9h1.2M47.1 348.6h1.2M36.2 345.7h1.2M42.3 352.8h1.2M55.5 329.8h1.2M46.2 364.3h1.2M56.3 363.5h1.2M51.4 342.3h1.2M39.9 352.3h1.2M53.7 345.7h1.2M33.6 364.8h1.2M57.2 360.5h1.2M50.7 333.6h1.2M32.9 331.9h1.2M45.8 342.9h1.2M56.6 345.3h1.2M49.4 352.6h1.2M42.9 347.4h1.2M54.1 339.6h1.2M30.7 352.2h1.2M33.3 350.0h1.2M46.0 344.9h1.2M38.4 354.3h1.2M34.2 351.6h1.2M55.1 357.7h1.2M53.2 364.5h1.2M57.2 351.5h1.2M34.4 336.6h1.2M44.5 346.3h1.2M31.1 332.6h1.2M35.3 362.2h1.2M41.3 339.9h1.2M43.7 363.2h1.2M41.4 334.9h1.2M55.1 328.3h1.2M39.5 350.8h1.2M36.3 350.2h1.2M31.3 335.0h1.2M35.0 356.8h1.2M46.6 355.6h1.2M41.2 337.2h1.2M46.7 348.0h1.2M39.6 346.2h1.2M58.3 334.4h1.2M31.4 345.5h1.2M37.9 336.6h1.2M37.9 333.4h1.2M46.4 356.3h1.2M45.2 347.2h1.2M31.1 312.2h1.2M46.1 356.9h1.2M52.2 344.1h1.2M48.2 370.7h1.2M38.2 354.5h1.2M52.8 355.5h1.2M49.6 328.0h1.2M38.8 367.0h1.2M44.7 345.6h1.2M48.3 366.3h1.2M41.7 355.9h1.2M31.8 335.3h1.2M58.4 352.6h1.2M43.9 338.4h1.2M36.8 353.1h1.2M40.1 340.8h1.2M55.0 346.3h1.2M43.1 346.1h1.2M38.7 361.5h1.2M34.9 342.1h1.2M38.9 338.2h1.2M50.9 343.2h1.2M39.8 373.2h1.2M56.4 355.9h1.2M35.2 351.3h1.2M46.7 349.6h1.2M52.2 336.3h1.2M42.3 348.1h1.2M44.0 344.2h1.2M55.8 350.4h1.2M30.8 348.7h1.2M34.8 338.3h1.2M36.3 349.3h1.2M41.5 329.1h1.2M54.8 342.3h1.2M48.6 332.1h1.2M57.6 341.0h1.2M47.3 329.3h1.2M55.1 328.6h1.2M39.9 337.1h1.2M45.5 342.3h1.2M55.1 341.5h1.2M36.2 364.0h1.2M39.4 367.5h1.2M41.7 347.3h1.2M49.5 364.1h1.2M41.9 349.3h1.2M31.4 343.8h1.2M44.2 354.6h1.2M47.2 354.7h1.2M30.5 347.8h1.2M56.6 334.2h1.2M31.7 379.0h1.2M47.7 360.7h1.2M32.8 348.9h1.2M34.6 357.5h1.2M32.7 334.8h1.2M53.4 331.7h1.2M46.9 360.1h1.2M46.0 340.5h1.2M39.6 355.9h1.2M51.3 360.4h1.2M51.9 348.1h1.2M52.3 328.8h1.2M58.1 354.5h1.2M43.1 328.5h1.2M57.0 349.7h1.2M33.9 333.2h1.2M48.8 334.0h1.2M52.2 346.5h1.2M36.6 370.1h1.2M51.7 320.4h1.2M33.9 344.9h1.2M31.8 345.7h1.2M35.3 362.1h1.2M57.0 347.4h1.2M35.2 351.6h1.2M51.2 342.2h1.2M30.9 341.1h1.2M52.4 350.5h1.2M44.4 345.7h1.2M48.3 314.1h1.2M43.3 358.9h1.2M39.4 329.8h1.2M51.1 342.6h1.2M32.0 350.4h1.2M54.8 354.4h1.2M31.8 356.6h1.2M56.4 358.2h1.2M57.1 351.9h1.2M37.3 353.0h1.2M37.6 353.2h1.2M35.9 354.9h1.2M51.8 343.8h1.2M58.5 353.3h1.2M36.3 354.9h1.2M54.8 353.4h1.2M55.0 350.1h1.2M53.6 349.3h1.2M38.2 327.9h1.2M55.6 353.8h1.2M34.7 335.5h1.2M43.1 353.7h1.2M46.7 361.6h1.2M55.4 341.3h1.2M40.4 352.6h1.2M35.3 342.9h1.2M54.8 370.1h1.2M30.8 337.4h1.2M33.3 347.5h1.2M56.2 345.6h1.2M34.4 347.5h1.2M34.9 347.7h1.2M49.6 352.5h1.2M56.4 338.2h1.2M50.6 341.5h1.2M31.0 323.2h1.2M36.8 369.2h1.2M31.2 342.5h1.2M44.5 364.4h1.2M33.1 345.8h1.2M30.7 334.9h1.2M55.2 337.0h1.2M33.5 347.8h1.2M42.4 353.5h1.2M35.2 346.7h1.2M51.2 349.8h1.2M44.4 353.3h1.2M44.3 338.9h1.2M56.4 340.1h1.2M57.8 352.0h1.2M55.4 340.6h1.2M35.2 348.3h1.2M37.7 356.5h1.2M44.7 344.1h1.2M41.8 345.8h1.2M30.4 357.6h1.2M49.8 351.1h1.2M45.8 355.6h1.2M49.8 359.2h1.2M50.6 323.6h1.2M41.5 349.8h1.2M57.9 352.3h1.2M41.2 336.2h1.2M34.2 356.2h1.2M58.7 339.3h1.2M56.6 331.3h1.2M37.4 346.7h1.2M37.0 355.9h1.2M35.8 354.5h1.2M52.5 330.5h1.2M56.1 332.2h1.2M39.4 330.1h1.2M48.6 341.7h1.2M57.9 356.9h1.2M30.1 350.3h1.2M44.7 347.8h1.2M47.0 370.1h1.2M48.1 338.7h1.2M51.4 347.5h1.2M41.4 360.5h1.2M45.2 334.5h1.2M39.3 360.5h1.2M48.1 358.6h1.2M47.6 355.2h1.2M37.7 349.4h1.2M50.7 336.1h1.2M45.0 354.4h1.2M34.2 355.4h1.2M56.6 346.0h1.2M45.2 361.2h1.2M53.4 349.8h1.2M53.6 346.7h1.2M43.3 340.1h1.2M55.7 361.1h1.2M54.9 364.1h1.2M53.9 336.2h1.2M53.5 344.1h1.2M37.3 342.4h1.2M33.0 342.5h1.2M45.0 360.3h1.2M43.1 330.7h1.2M58.6 337.2h1.2M50.0 341.1h1.2M52.9 359.8h1.2M51.8 343.0h1.2M40.6 336.8h1.2M45.0 333.0h1.2M39.8 346.3h1.2M41.0 336.0h1.2M46.4 339.4h1.2M31.8 346.3h1.2M38.0 339.1h1.2M39.4 330.5h1.2M32.7 346.1h1.2M48.3 325.1h1.2M42.2 342.3h1.2M52.8 353.3h1.2M31.4 355.5h1.2M42.8 354.8h1.2M38.5 359.6h1.2M41.8 333.6h1.2M40.2 359.9h1.2M41.1 364.3h1.2M35.6 370.6h1.2M57.9 359.8h1.2M49.1 349.9h1.2M39.5 358.1h1.2M41.0 329.5h1.2M45.1 338.8h1.2M51.8 372.3h1.2M30.8 346.7h1.2M43.3 358.1h1.2M54.1 354.4h1.2M55.6 358.6h1.2M42.7 340.5h1.2M53.7 361.2h1.2M49.3 346.4h1.2M31.3 347.9h1.2M49.5 359.0h1.2M52.1 366.0h1.2M33.5 353.8h1.2M53.5 346.4h1.2M33.0 342.6h1.2M46.2 330.6h1.2M31.7 336.9h1.2M43.9 354.9h1.2M31.7 363.9h1.2M46.8 351.6h1.2M58.6 358.5h1.2M34.3 337.6h1.2M39.7 368.8h1.2M58.4 348.5h1.2M38.0 347.4h1.2M37.4 348.0h1.2M54.7 337.1h1.2M42.1 360.3h1.2M31.6 352.0h1.2M53.0 355.1h1.2M54.6 325.1h1.2M31.6 347.6h1.2M45.5 339.4h1.2M44.1 356.3h1.2M46.8 337.9h1.2M35.8 361.1h1.2M56.4 331.5h1.2M39.1 350.8h1.2M45.3 348.5h1.2M39.4 359.9h1.2M37.9 339.1h1.2M50.4 344.4h1.2M53.1 356.5h1.2M56.8 358.0h1.2M42.8 354.2h1.2M42.5 344.3h1.2M48.4 350.0h1.2M32.2 325.1h1.2M47.2 340.2h1.2M46.1 336.0h1.2M53.0 323.3h1.2M49.4 364.7h1.2M38.5 347.0h1.2M34.3 341.8h1.2M56.4 325.6h1.2M32.8 345.8h1.2M52.5 342.0h1.2M48.9 335.7h1.2M37.5 350.9h1.2M34.5 332.5h1.2M31.7 357.1h1.2M54.0 348.3h1.2M38.5 350.4h1.2M39.2 345.5h1.2M46.1 331.9h1.2M39.4 332.6h1.2M54.2 326.0h1.2M58.1 335.1h1.2M41.3 330.2h1.2M48.4 336.0h1.2M36.5 344.9h1.2M43.4 352.2h1.2M50.9 348.7h1.2M33.4 363.1h1.2M53.8 339.7h1.2M58.6 328.2h1.2M57.0 328.9h1.2M40.1 356.7h1.2M51.6 348.8h1.2M32.8 374.1h1.2M44.0 346.6h1.2M45.6 336.9h1.2M32.6 359.1h1.2M55.6 341.3h1.2M54.3 340.1h1.2M31.0 343.4h1.2M47.2 321.0h1.2M57.1 336.7h1.2M48.9 349.4h1.2M43.0 337.2h1.2M37.2 344.0h1.2M52.6 347.6h1.2M38.6 354.5h1.2M32.8 333.7h1.2M45.9 340.9h1.2M43.3 343.5h1.2M31.1 362.5h1.2M48.6 352.5h1.2M33.9 347.6h1.2M40.8 356.8h1.2M49.1 352.3h1.2M57.0 343.5h1.2M39.6 341.1h1.2M43.8 334.2h1.2M34.4 367.0h1.2M33.4 327.3h1.2M44.3 333.9h1.2M43.5 352.9h1.2M34.8 348.5h1.2M40.6 360.7h1.2M35.8 350.3h1.2M33.7 353.7h1.2M37.0 342.7h1.2M55.6 337.7h1.2M30.5 357.2h1.2M52.7 334.6h1.2M46.4 351.9h1.2M51.6 350.4h1.2M34.5 355.0h1.2M41.3 347.5h1.2M44.9 344.3h1.2M32.5 353.6h1.2M46.6 323.5h1.2M52.5 345.6h1.2M50.4 331.6h1.2M47.2 339.1h1.2M58.2 343.9h1.2M49.9 331.6h1.2M53.4 343.1h1.2M43.3 358.8h1.2M56.4 329.4h1.2M41.9 319.6h1.2M41.7 345.3h1.2M51.1 339.8h1.2M49.5 342.6h1.2M34.1 341.0h1.2M35.8 338.5h1.2M58.0 345.2h1.2M58.6 336.9h1.2M44.3 343.8h1.2M52.4 360.1h1.2M48.3 330.9h1.2M35.8 357.8h1.2M52.6 363.1h1.2M32.7 363.2h1.2M34.7 349.4h1.2M57.7 357.8h1.2M34.0 356.2h1.2M53.8 364.3h1.2M51.4 323.9h1.2M53.9 356.9h1.2M42.6 342.2h1.2M53.7 362.0h1.2M38.7 342.1h1.2M57.6 370.3h1.2M33.4 374.8h1.2M57.8 352.8h1.2M54.1 345.1h1.2M36.7 355.8h1.2M36.9 343.1h1.2M44.2 335.0h1.2M50.4 332.3h1.2M41.3 356.9h1.2M49.6 342.8h1.2M57.0 367.5h1.2M32.6 341.7h1.2M48.8 357.8h1.2M47.1 341.7h1.2M54.0 356.3h1.2M44.1 346.9h1.2M30.6 348.3h1.2M42.1 330.8h1.2M47.4 333.5h1.2M36.2 357.4h1.2M40.2 344.4h1.2M38.5 338.1h1.2M32.6 360.6h1.2M42.7 349.6h1.2M49.0 329.2h1.2M49.6 345.1h1.2M31.3 352.7h1.2M37.9 343.9h1.2M57.5 353.9h1.2M55.5 352.6h1.2M47.6 340.9h1.2M44.4 338.0h1.2M57.4 354.4h1.2M35.5 382.0h1.2M53.9 348.7h1.2M30.1 339.7h1.2M35.1 335.0h1.2M53.2 335.1h1.2M37.3 351.6h1.2M45.9 350.4h1.2M54.8 342.9h1.2M56.7 358.5h1.2M55.7 348.2h1.2M47.9 349.5h1.2M42.8 351.2h1.2M49.0 336.5h1.2M48.2 350.1h1.2M49.4 357.3h1.2M56.0 337.2h1.2M58.0 358.3h1.2M31.7 347.1h1.2M46.0 338.2h1.2M42.9 362.4h1.2M50.9 347.0h1.2M51.5 371.8h1.2M34.0 337.1h1.2M57.4 344.9h1.2M46.9 342.1h1.2M46.6 351.3h1.2M51.5 336.1h1.2M48.4 343.8h1.2M38.4 351.0h1.2M45.7 327.8h1.2M48.7 375.5h1.2M53.1 331.8h1.2M57.6 352.3h1.2M50.4 357.4h1.2M34.7 350.6h1.2M46.5 356.0h1.2M40.0 337.7h1.2M34.1 365.6h1.2M34.7 371.0h1.2M51.2 349.6h1.2M31.6 342.4h1.2M38.6 338.3h1.2M57.6 369.8h1.2M35.5 326.8h1.2M35.7 357.4h1.2M39.3 321.2h1.2M37.5 352.4h1.2M41.4 345.1h1.2M37.7 369.8h1.2M35.9 327.4h1.2M54.0 336.5h1.2M48.3 354.1h1.2M34.4 345.4h1.2M51.8 357.2h1.2M49.3 361.9h1.2M51.6 344.4h1.2M56.3 349.0h1.2M45.2 336.3h1.2M37.5 351.1h1.2M52.2 331.2h1.2M46.3 326.1h1.2M40.2 341.6h1.2M37.1 338.7h1.2M32.1 350.6h1.2M49.5 365.8h1.2M41.9 353.1h1.2M38.9 345.2h1.2M48.5 352.5h1.2M49.9 331.0h1.2M52.3 350.6h1.2M51.3 369.0h1.2M39.9 330.2h1.2M40.1 363.7h1.2M35.4 334.0h1.2M45.0 337.3h1.2M49.2 357.6h1.2M39.8 342.1h1.2M32.0 350.8h1.2M54.5 359.0h1.2M49.2 340.1h1.2M46.5 357.7h1.2M37.9 352.8h1.2M54.1 335.7h1.2M34.4 364.2h1.2M44.4 356.4h1.2M55.8 364.4h1.2M53.6 331.7h1.2M48.7 358.6h1.2M50.2 342.7h1.2M50.2 351.5h1.2M32.0 354.3h1.2M47.4 353.3h1.2M36.2 343.0h1.2M36.5 355.5h1.2M58.0 332.7h1.2M53.0 337.5h1.2M32.2 358.7h1.2M54.1 333.3h1.2M48.1 347.6h1.2M34.1 346.3h1.2M42.8 347.8h1.2M46.0 343.2h1.2M53.8 346.0h1.2M33.3 350.3h1.2M39.8 344.6h1.2M39.6 331.0h1.2M52.8 354.6h1.2M36.1 350.6h1.2M45.5 335.9h1.2M31.0 365.2h1.2M44.5 346.7h1.2M42.2 350.0h1.2M50.8 332.0h1.2M46.8 340.9h1.2M46.9 358.5h1.2M36.6 339.0h1.2M53.1 321.3h1.2M57.6 375.7h1.2M32.1 363.5h1.2M43.8 317.2h1.2M49.6 338.6h1.2M50.4 337.7h1.2M35.5 357.4h1.2M41.6 344.2h1.2M51.1 348.8h1.2M44.9 339.7h1.2M50.2 354.4h1.2M35.7 344.3h1.2M50.2 348.7h1.2M57.9 332.3h1.2M56.4 347.6h1.2M50.8 375.6h1.2M36.0 348.0h1.2M30.5 351.3h1.2M48.1 335.0h1.2M37.6 361.3h1.2M48.2 351.5h1.2M58.5 341.7h1.2M35.1 348.4h1.2M40.3 343.9h1.2M43.1 330.2h1.2M33.0 359.7h1.2M52.3 341.9h1.2M43.6 343.0h1.2M52.8 321.6h1.2M43.7 348.7h1.2M33.2 344.5h1.2M46.2 352.7h1.2M37.3 355.2h1.2M30.7 347.6h1.2M57.1 331.8h1.2M58.1 357.2h1.2M41.1 364.7h1.2M53.3 339.9h1.2M30.5 343.8h1.2M36.2 352.5h1.2M30.4 357.0h1.2M53.8 353.0h1.2M31.3 344.3h1.2M55.5 359.9h1.2M39.3 351.6h1.2M48.0 348.2h1.2M48.4 337.1h1.2M36.0 356.1h1.2M41.0 346.2h1.2M33.1 321.9h1.2M35.8 352.3h1.2M43.2 350.5h1.2M50.3 361.5h1.2M42.7 355.7h1.2M31.6 330.1h1.2M43.6 339.5h1.2M50.5 361.3h1.2M37.0 337.0h1.2M43.6 357.8h1.2M34.2 361.7h1.2M31.9 333.9h1.2M36.9 355.7h1.2M41.3 338.8h1.2M52.6 347.9h1.2M51.3 339.8h1.2M31.2 362.0h1.2M53.1 320.7h1.2M31.2 329.5h1.2M56.7 339.0h1.2M36.4 344.6h1.2M48.4 359.9h1.2M56.4 370.9h1.2M30.6 347.8h1.2M51.8 340.5h1.2M50.4 322.3h1.2M35.4 328.2h1.2M44.7 344.8h1.2M33.1 353.7h1.2M56.3 341.6h1.2M30.2 371.0h1.2M53.6 338.4h1.2M44.5 359.1h1.2M53.0 358.6h1.2M32.3 357.9h1.2M38.4 333.4h1.2M41.5 342.3h1.2M30.8 327.9h1.2M53.8 346.3h1.2M33.6 342.3h1.2M48.7 359.2h1.2M33.3 343.9h1.2M58.0 335.3h1.2M32.8 357.6h1.2M51.0 350.3h1.2M33.0 333.9h1.2M40.6 365.6h1.2M34.3 353.6h1.2M47.4 328.5h1.2M30.3 327.4h1.2M32.2 349.9h1.2M47.2 333.7h1.2M45.0 335.5h1.2M47.6 358.7h1.2M48.6 343.9h1.2M52.9 330.8h1.2M56.2 356.7h1.2M31.0 337.6h1.2M49.6 363.0h1.2M55.2 339.9h1.2M35.2 357.2h1.2M50.3 335.4h1.2M37.3 351.6h1.2M39.4 350.6h1.2M32.8 337.0h1.2M48.8 377.9h1.2M56.8 335.7h1.2M58.5 345.5h1.2M51.6 369.3h1.2M41.9 348.5h1.2M30.7 338.5h1.2M56.4 344.3h1.2M39.5 323.1h1.2M55.5 344.6h1.2M52.8 367.2h1.2M53.7 352.6h1.2M39.1 348.3h1.2M45.5 355.0h1.2M57.7 355.2h1.2M48.7 339.6h1.2M45.5 335.0h1.2M56.2 336.2h1.2M49.8 351.7h1.2M36.2 342.3h1.2M38.3 348.2h1.2M37.5 345.6h1.2M50.6 348.3h1.2M42.6 340.0h1.2M49.7 347.7h1.2M51.6 354.2h1.2M37.2 365.2h1.2M49.9 347.3h1.2M36.1 344.4h1.2M48.5 349.0h1.2M47.0 317.2h1.2M50.0 356.0h1.2M38.8 360.3h1.2M30.5 343.2h1.2M40.4 345.5h1.2M44.2 343.6h1.2M57.8 342.8h1.2M52.1 350.8h1.2M35.2 355.8h1.2M41.8 339.2h1.2M49.8 341.4h1.2M32.8 364.9h1.2M56.8 340.8h1.2M31.0 359.3h1.2M53.8 328.8h1.2M53.1 343.8h1.2M49.3 324.5h1.2M35.5 347.5h1.2M56.0 345.6h1.2M46.9 337.9h1.2M49.0 332.9h1.2M32.9 344.5h1.2M58.2 341.3h1.2M46.4 359.8h1.2M36.5 335.8h1.2M54.5 345.4h1.2M33.8 346.4h1.2M50.8 336.4h1.2M34.1 349.8h1.2M40.6 345.1h1.2M45.1 355.8h1.2M52.9 340.5h1.2M38.3 341.5h1.2M36.5 361.7h1.2M35.6 333.7h1.2M40.5 345.0h1.2M48.4 335.9h1.2M31.5 370.4h1.2M49.1 343.1h1.2M30.9 342.8h1.2M42.6 354.5h1.2M50.4 337.5h1.2M32.8 338.6h1.2M35.1 337.4h1.2M36.7 338.2h1.2M32.0 352.7h1.2M40.4 345.1h1.2M46.0 374.1h1.2M32.1 341.9h1.2M46.2 343.9h1.2M55.0 328.2h1.2M33.2 324.8h1.2M57.1 352.6h1.2M35.0 355.7h1.2M54.8 348.5h1.2M37.7 346.1h1.2M56.5 342.5h1.2M32.2 365.5h1.2M43.1 342.6h1.2M49.1 350.5h1.2M40.4 340.0h1.2M43.9 322.7h1.2M35.2 324.3h1.2M44.8 330.3h1.2M30.8 346.0h1.2M45.5 366.0h1.2M36.8 343.7h1.2M48.7 363.1h1.2M34.2 347.1h1.2M51.3 337.9h1.2M54.6 373.8h1.2M35.3 364.2h1.2M36.6 328.6h1.2M32.4 367.7h1.2M36.3 361.7h1.2M34.1 335.0h1.2M35.6 344.4h1.2M57.0 347.3h1.2M41.6 362.6h1.2M57.2 348.0h1.2M36.8 348.9h1.2M57.2 361.0h1.2M44.2 345.2h1.2M36.3 331.0h1.2M54.0 348.0h1.2M43.2 333.5h1.2M39.3 342.8h1.2M41.7 317.8h1.2M30.8 356.8h1.2M40.8 332.8h1.2M30.1 335.7h1.2M47.5 328.6h1.2M46.2 347.8h1.2M50.5 334.4h1.2M33.5 341.6h1.2M57.6 340.6h1.2M45.0 343.5h1.2M46.7 342.1h1.2M36.8 344.2h1.2M34.9 349.8h1.2M41.8 358.2h1.2M55.5 353.8h1.2M57.5 359.4h1.2M37.8 366.9h1.2M31.6 336.1h1.2M56.3 351.5h1.2M38.4 345.5h1.2M38.4 345.9h1.2M42.1 324.1h1.2M45.2 352.1h1.2M48.8 334.9h1.2M44.8 364.4h1.2M48.9 340.7h1.2M46.9 341.4h1.2M57.6 339.3h1.2M35.6 370.9h1.2M46.4 325.1h1.2M35.3 335.8h1.2M36.9 350.4h1.2M40.6 355.6h1.2M32.2 364.6h1.2M51.3 349.8h1.2M49.3 356.6h1.2M53.0 356.5h1.2M49.5 334.0h1.2M50.4 346.4h1.2M57.5 351.6h1.2M52.6 353.1h1.2M57.5 345.9h1.2M36.0 334.9h1.2M55.8 372.3h1.2M36.7 331.1h1.2M49.1 348.2h1.2M52.0 358.2h1.2M36.2 341.4h1.2M37.7 341.3h1.2M41.7 341.1h1.2M42.1 345.8h1.2M57.1 333.6h1.2M46.6 340.0h1.2M42.6 358.4h1.2M35.1 332.9h1.2M49.4 349.4h1.2M34.7 347.0h1.2M52.0 367.6h1.2M54.0 325.4h1.2M50.3 357.6h1.2M57.7 360.1h1.2M38.7 340.6h1.2M37.4 328.4h1.2M54.4 340.3h1.2M55.1 361.4h1.2M30.5 353.8h1.2M45.4 351.3h1.2M32.1 348.6h1.2M30.2 356.4h1.2M30.2 338.9h1.2M36.7 331.3h1.2M58.3 349.0h1.2M30.7 328.9h1.2M57.8 326.7h1.2M34.4 329.3h1.2M39.3 354.4h1.2M42.0 335.0h1.2M31.7 356.1h1.2M32.5 346.0h1.2M47.9 344.5h1.2M50.0 342.9h1.2M50.9 348.9h1.2M39.9 326.6h1.2M56.7 354.7h1.2M46.1 346.8h1.2M49.9 340.8h1.2M41.1 345.1h1.2M52.9 348.9h1.2M53.0 355.4h1.2M35.6 334.3h1.2M50.3 338.6h1.2M36.7 340.3h1.2M32.8 366.7h1.2M34.1 355.0h1.2M35.6 360.1h1.2M48.2 352.0h1.2M37.0 350.0h1.2M45.3 347.9h1.2M50.8 335.0h1.2M36.4 328.8h1.2M38.4 343.6h1.2M47.7 358.6h1.2M55.9 361.0h1.2M49.0 344.4h1.2M37.6 337.5h1.2M52.2 342.6h1.2M53.8 340.2h1.2M52.8 353.4h1.2M39.0 376.0h1.2M31.7 354.7h1.2M47.5 330.1h1.2M44.8 344.1h1.2M34.4 345.2h1.2M43.3 325.5h1.2M35.8 357.2h1.2M45.0 337.1h1.2M40.5 337.7h1.2M52.3 350.2h1.2M33.1 361.2h1.2M43.9 336.8h1.2M37.3 342.3h1.2M39.2 351.3h1.2M43.7 354.4h1.2M40.7 351.9h1.2M42.9 366.7h1.2M47.8 322.8h1.2M33.1 359.2h1.2M38.1 363.2h1.2M31.2 342.6h1.2M33.8 321.8h1.2M43.4 350.2h1.2M32.1 354.4h1.2M51.6 353.9h1.2M32.6 345.6h1.2M41.4 359.6h1.2M31.6 322.3h1.2M38.3 330.5h1.2M33.1 346.5h1.2M32.1 353.4h1.2M53.9 339.8h1.2M34.9 334.9h1.2M42.3 338.1h1.2M39.8 329.6h1.2M57.9 341.0h1.2M33.4 341.1h1.2M55.6 348.4h1.2M56.0 328.1h1.2M47.4 376.0h1.2M38.4 342.2h1.2M51.1 365.3h1.2M33.8 343.2h1.2M33.2 337.0h1.2M53.4 319.6h1.2M37.4 351.9h1.2M43.5 339.7h1.2M54.5 340.6h1.2M39.3 347.6h1.2M39.9 338.2h1.2M35.5 330.2h1.2M54.8 366.1h1.2M46.5 336.6h1.2M47.4 327.4h1.2M55.8 345.9h1.2M54.4 337.3h1.2M53.5 350.3h1.2M40.8 348.3h1.2M40.2 336.1h1.2M36.6 351.3h1.2M56.1 343.3h1.2M55.5 361.2h1.2M51.7 338.4h1.2M53.1 346.3h1.2M58.4 321.0h1.2M53.4 349.9h1.2M37.3 366.6h1.2M54.1 353.6h1.2M33.9 356.7h1.2M53.6 357.5h1.2M40.0 349.8h1.2M55.2 334.6h1.2M34.1 366.0h1.2M49.5 329.4h1.2M48.8 354.5h1.2M45.8 324.7h1.2M43.1 340.2h1.2M52.5 358.1h1.2M55.0 329.9h1.2M37.2 344.8h1.2M33.0 336.8h1.2M52.9 348.5h1.2M36.6 344.8h1.2M51.3 343.3h1.2M35.8 345.3h1.2M53.0 358.7h1.2M57.4 344.4h1.2M55.7 353.3h1.2M43.6 331.9h1.2M39.0 331.9h1.2M55.1 358.4h1.2M46.9 352.1h1.2M53.8 349.7h1.2M42.0 360.5h1.2M55.3 348.8h1.2M40.5 351.2h1.2M40.5 354.1h1.2" stroke="#000" stroke-width="1.2" fill="none"/>
<path d="M67.0 331.5h1.2M89.6 353.5h1.2M75.8 333.7h1.2M84.0 345.5h1.2M78.4 353.6h1.2M86.9 346.7h1.2M69.8 346.3h1.2M84.8 359.5h1.2M88.7 346.3h1.2M91.8 356.7h1.2M83.8 359.4h1.2M90.0 344.3h1.2M72.9 346.0h1.2M84.4 339.5h1.2M77.8 343.2h1.2M82.6 335.4h1.2M92.0 330.8h1.2M79.5 326.0h1.2M89.5 346.8h1.2M79.2 356.0h1.2M73.8 347.5h1.2M89.9 372.4h1.2M77.8 348.2h1.2M89.2 346.5h1.2M78.1 325.4h1.2M90.1 365.9h1.2M81.5 355.0h1.2M86.4 351.3h1.2M70.9 363.0h1.2M71.3 341.6h1.2M76.8 361.2h1.2M66.1 342.2h1.2M84.0 338.3h1.2M84.9 348.5h1.2M78.2 348.2h1.2M68.5 340.0h1.2M69.2 369.1h1.2M80.2 364.1h1.2M83.8 352.5h1.2M83.8 368.0h1.2M89.9 352.1h1.2M65.0 326.9h1.2M65.9 337.1h1.2M65.4 353.3h1.2M67.5 343.8h1.2M76.6 365.7h1.2M73.1 375.0h1.2M85.4 379.9h1.2M68.1 348.7h1.2M75.2 341.2h1.2M68.1 356.2h1.2M69.7 355.6h1.2M72.5 342.3h1.2M77.9 345.0h1.2M76.0 343.5h1.2M91.3 336.7h1.2M76.9 376.9h1.2M69.1 346.5h1.2M68.3 354.4h1.2M65.5 352.5h1.2M75.0 358.1h1.2M73.6 378.0h1.2M83.2 358.6h1.2M74.7 344.0h1.2M79.8 335.5h1.2M63.6 329.9h1.2M73.6 337.9h1.2M81.5 364.2h1.2M75.8 338.6h1.2M72.0 354.6h1.2M84.5 365.1h1.2M90.6 354.7h1.2M87.8 342.1h1.2M86.1 340.1h1.2M73.2 363.7h1.2M90.5 358.3h1.2M68.7 360.2h1.2M66.8 352.5h1.2M64.2 332.2h1.2M72.7 361.5h1.2M73.8 362.5h1.2M89.1 347.2h1.2M90.0 357.4h1.2M81.7 337.3h1.2M74.5 359.3h1.2M80.9 347.4h1.2M74.0 346.9h1.2M74.5 357.8h1.2M78.9 365.7h1.2M71.3 329.4h1.2M68.0 359.6h1.2M83.2 330.1h1.2M65.2 341.4h1.2M86.5 347.9h1.2M65.1 343.9h1.2M71.0 342.2h1.2M89.5 350.9h1.2M90.5 367.4h1.2M66.0 373.9h1.2M89.9 357.2h1.2M84.8 355.9h1.2M88.0 345.8h1.2M88.4 352.8h1.2M85.0 345.5h1.2M64.5 375.2h1.2M65.1 367.2h1.2M83.7 347.2h1.2M81.5 347.2h1.2M68.6 343.6h1.2M80.9 344.4h1.2M73.8 363.3h1.2M91.4 376.2h1.2M70.7 359.6h1.2M70.1 344.3h1.2M83.6 311.5h1.2M68.5 354.9h1.2M73.5 346.1h1.2M84.5 342.9h1.2M82.9 335.6h1.2M64.4 343.7h1.2M79.9 368.1h1.2M76.4 341.3h1.2M73.1 337.3h1.2M74.8 359.6h1.2M89.6 327.3h1.2M79.5 357.0h1.2M74.4 344.4h1.2M83.2 343.3h1.2M85.9 327.9h1.2M78.2 348.3h1.2M75.3 328.1h1.2M82.6 348.2h1.2M75.1 366.0h1.2M90.9 356.9h1.2M81.0 323.1h1.2M72.5 356.3h1.2M89.3 355.5h1.2M86.1 342.5h1.2M91.8 343.8h1.2M83.1 369.9h1.2M71.0 357.1h1.2M80.9 331.1h1.2M77.4 336.4h1.2M71.3 329.6h1.2M90.1 344.6h1.2M85.1 351.2h1.2M79.8 337.2h1.2M89.4 333.0h1.2M90.1 359.5h1.2M65.9 355.3h1.2M71.4 348.0h1.2M66.7 354.3h1.2M84.2 340.2h1.2M70.8 358.0h1.2M66.2 351.0h1.2M77.6 365.7h1.2M82.2 350.3h1.2M71.4 356.9h1.2M90.4 366.9h1.2M92.0 329.9h1.2M86.6 362.5h1.2M85.1 342.2h1.2M74.9 371.3h1.2M90.6 342.6h1.2M84.9 354.7h1.2M67.6 347.9h1.2M91.7 350.6h1.2M78.9 352.4h1.2M81.7 349.3h1.2M74.2 355.1h1.2M64.4 348.8h1.2M77.1 327.5h1.2M89.0 329.5h1.2M64.4 337.1h1.2M84.0 361.7h1.2M84.3 346.0h1.2M68.7 363.9h1.2M67.4 326.3h1.2M68.8 346.6h1.2M77.8 354.3h1.2M90.0 352.5h1.2M77.0 342.9h1.2M89.6 346.9h1.2M69.8 357.5h1.2M91.2 335.6h1.2M85.5 357.8h1.2M87.9 358.7h1.2M76.1 359.5h1.2M86.5 327.9h1.2M83.0 334.0h1.2M76.7 349.2h1.2M87.0 357.4h1.2M68.0 323.2h1.2M83.0 355.2h1.2M68.2 360.1h1.2M67.4 352.9h1.2M71.1 362.3h1.2M74.0 346.4h1.2M80.3 367.5h1.2M68.1 355.5h1.2M90.9 340.5h1.2M91.5 356.2h1.2M91.1 339.1h1.2M74.5 337.0h1.2M64.3 358.6h1.2M69.3 351.9h1.2M81.5 342.1h1.2M79.6 342.2h1.2M73.8 332.1h1.2M90.6 354.6h1.2M88.1 358.6h1.2M82.6 359.8h1.2M72.0 359.1h1.2M91.2 336.7h1.2M65.3 347.8h1.2M63.7 317.6h1.2M78.0 356.4h1.2M66.8 351.5h1.2M83.0 339.9h1.2M90.0 363.7h1.2M83.8 331.4h1.2M63.5 349.8h1.2M91.2 337.2h1.2M72.4 345.2h1.2M75.3 350.3h1.2M89.3 349.6h1.2M63.8 367.3h1.2M69.2 360.5h1.2M66.4 339.4h1.2M90.1 329.0h1.2M78.2 351.6h1.2M72.7 325.0h1.2M83.4 337.3h1.2M65.4 351.4h1.2M66.6 333.0h1.2M84.8 377.7h1.2M73.9 349.8h1.2M82.4 342.4h1.2M91.9 313.2h1.2M81.3 359.6h1.2M84.2 352.9h1.2M79.2 354.6h1.2M70.7 364.8h1.2M67.5 329.5h1.2M80.3 345.3h1.2M86.4 343.4h1.2M79.9 341.5h1.2M79.5 337.3h1.2M63.9 361.4h1.2M65.1 341.3h1.2M85.1 356.5h1.2M70.4 344.9h1.2M66.1 345.0h1.2M77.1 356.7h1.2M85.3 356.9h1.2M69.8 342.1h1.2M76.4 359.6h1.2M77.8 368.3h1.2M68.6 334.8h1.2M65.4 356.2h1.2M66.0 339.8h1.2M82.0 343.8h1.2M78.1 357.8h1.2M90.2 344.3h1.2M72.2 348.7h1.2M72.7 342.2h1.2M75.7 333.5h1.2M68.2 358.7h1.2M87.7 343.2h1.2M82.0 347.2h1.2M65.1 339.9h1.2M77.9 335.3h1.2M84.7 351.7h1.2M83.9 344.3h1.2M82.6 356.0h1.2M75.8 349.4h1.2M89.3 351.6h1.2M63.6 353.3h1.2M69.1 346.9h1.2M66.0 337.3h1.2M73.0 363.2h1.2M69.8 350.7h1.2M74.9 331.6h1.2M67.9 353.6h1.2M65.5 360.4h1.2M89.8 358.4h1.2M77.4 337.8h1.2M69.0 340.8h1.2M86.6 355.5h1.2M71.8 360.9h1.2M77.0 329.3h1.2M67.5 357.6h1.2M83.1 355.0h1.2M83.4 348.3h1.2M64.7 377.1h1.2M83.9 364.0h1.2M72.7 347.1h1.2M65.0 354.3h1.2M73.4 365.1h1.2M83.3 358.2h1.2M71.4 361.2h1.2M91.4 335.2h1.2M66.1 349.8h1.2M84.2 348.5h1.2M67.9 338.0h1.2M88.4 361.4h1.2M74.3 350.1h1.2M82.7 354.6h1.2M73.6 345.5h1.2M88.5 348.8h1.2M89.4 338.7h1.2M85.9 349.2h1.2M91.2 338.6h1.2M81.9 360.6h1.2M69.1 334.7h1.2M78.3 353.8h1.2M74.1 359.4h1.2M78.1 347.8h1.2M71.4 356.0h1.2M77.8 353.3h1.2M82.4 361.1h1.2M68.8 349.2h1.2M85.5 358.1h1.2M83.6 350.8h1.2M70.6 346.2h1.2M89.9 362.7h1.2M71.8 360.2h1.2M74.9 349.7h1.2M77.3 354.5h1.2M84.4 369.7h1.2M73.7 346.0h1.2M72.2 336.5h1.2M84.4 361.3h1.2M69.4 333.8h1.2M82.2 346.8h1.2M82.8 328.6h1.2M71.3 360.8h1.2M65.2 362.4h1.2M91.0 350.8h1.2M78.5 346.6h1.2M86.5 363.5h1.2M70.0 375.6h1.2M86.2 351.8h1.2M84.5 344.1h1.2M71.2 360.1h1.2M77.4 348.1h1.2M87.7 354.8h1.2M88.3 373.0h1.2M72.4 360.2h1.2M91.3 344.4h1.2M71.5 346.1h1.2M89.8 342.7h1.2M87.8 342.6h1.2M88.9 357.3h1.2M85.6 355.8h1.2M74.2 345.6h1.2M76.0 330.5h1.2M74.8 331.8h1.2M64.0 356.3h1.2M74.6 354.0h1.2M74.1 350.2h1.2M85.2 347.7h1.2M81.3 357.7h1.2M68.8 333.7h1.2M80.9 331.6h1.2M71.9 346.7h1.2M89.5 341.9h1.2M70.1 327.1h1.2M72.7 362.0h1.2M64.5 356.8h1.2M80.7 356.6h1.2M78.0 334.0h1.2M72.4 343.1h1.2M75.4 343.3h1.2M66.8 365.3h1.2M91.7 329.9h1.2M70.4 347.5h1.2M80.2 326.0h1.2M86.2 351.2h1.2M86.6 346.7h1.2M77.2 351.3h1.2M91.7 328.9h1.2M70.0 338.2h1.2M81.3 345.1h1.2M79.1 345.0h1.2M74.5 371.0h1.2M70.9 347.2h1.2M85.0 354.1h1.2M66.1 335.5h1.2M63.5 356.8h1.2M66.1 347.0h1.2M75.8 339.5h1.2M78.0 342.9h1.2M78.2 353.4h1.2M91.5 331.3h1.2M77.6 342.1h1.2M74.1 336.7h1.2M88.5 343.8h1.2M73.7 355.0h1.2M79.6 357.2h1.2M71.6 335.1h1.2M74.0 323.9h1.2M66.7 334.2h1.2M72.8 356.9h1.2M72.8 360.9h1.2M75.4 343.0h1.2M90.8 357.7h1.2M68.1 356.5h1.2M82.4 339.8h1.2M75.1 355.4h1.2M70.1 359.8h1.2M87.2 345.7h1.2M74.2 361.4h1.2M69.7 349.2h1.2M90.9 351.7h1.2M77.7 356.1h1.2M77.0 364.9h1.2M81.9 346.6h1.2M83.3 342.1h1.2M67.3 349.8h1.2M81.0 332.2h1.2M72.4 342.3h1.2M79.2 336.7h1.2M81.1 340.0h1.2M67.3 338.9h1.2M79.1 355.3h1.2M81.1 332.5h1.2M69.8 346.1h1.2M76.1 363.8h1.2M85.0 341.6h1.2M73.9 362.1h1.2M87.0 378.2h1.2M82.1 339.1h1.2M64.4 336.3h1.2M90.2 339.0h1.2M71.1 330.4h1.2M87.6 352.2h1.2M78.3 339.3h1.2M63.9 329.3h1.2M87.2 339.2h1.2M83.1 356.9h1.2M69.3 371.7h1.2M89.1 353.7h1.2M73.1 350.3h1.2M65.3 346.6h1.2M66.9 334.3h1.2M68.0 341.8h1.2M89.8 351.4h1.2M89.3 339.8h1.2M76.0 324.7h1.2M86.2 374.7h1.2M86.6 354.1h1.2M84.4 322.8h1.2M89.9 348.2h1.2M79.2 343.9h1.2M67.6 366.6h1.2M83.5 364.0h1.2M76.5 368.9h1.2M69.1 344.3h1.2M84.8 339.8h1.2M87.2 351.5h1.2M74.8 348.7h1.2M69.9 331.0h1.2M74.0 343.0h1.2M78.0 320.6h1.2M85.0 351.6h1.2M84.8 348.9h1.2M69.4 341.1h1.2M73.4 356.6h1.2M75.1 350.8h1.2M78.5 365.9h1.2M76.9 334.1h1.2M77.9 327.4h1.2M84.1 347.1h1.2M73.6 356.5h1.2M71.3 346.9h1.2M81.6 353.7h1.2M80.0 360.2h1.2M69.7 347.7h1.2M86.3 349.6h1.2M70.7 348.6h1.2M80.7 341.7h1.2M81.4 361.8h1.2M71.8 334.7h1.2M88.1 334.6h1.2M86.8 344.9h1.2M75.9 366.0h1.2M68.9 362.3h1.2M66.3 374.5h1.2M67.7 360.8h1.2M69.8 341.6h1.2M67.7 341.2h1.2M68.7 357.5h1.2M77.0 355.6h1.2M78.8 352.5h1.2M87.4 361.7h1.2M63.9 343.8h1.2M64.5 341.9h1.2M85.4 352.2h1.2M69.7 362.0h1.2M85.8 355.1h1.2M70.0 355.4h1.2M79.8 331.3h1.2M77.2 355.6h1.2M65.3 357.9h1.2M67.8 360.0h1.2M79.2 362.9h1.2M87.4 349.5h1.2M88.3 354.3h1.2M65.9 340.5h1.2M70.7 346.2h1.2M70.6 337.3h1.2M72.0 341.9h1.2M86.0 359.8h1.2M84.1 346.2h1.2M63.7 342.7h1.2M72.9 343.5h1.2M85.8 334.9h1.2M91.9 337.6h1.2M85.1 348.1h1.2M75.2 345.8h1.2M72.4 338.4h1.2M65.5 353.8h1.2M76.1 335.7h1.2M76.0 353.4h1.2M77.1 346.4h1.2M68.5 370.8h1.2M75.1 369.4h1.2M82.4 335.3h1.2M79.9 361.0h1.2M70.5 353.7h1.2M65.7 370.7h1.2M74.0 357.2h1.2M63.8 325.3h1.2M81.4 370.9h1.2M76.9 364.1h1.2M67.2 365.5h1.2M84.3 354.6h1.2M69.3 331.4h1.2M82.3 359.6h1.2M64.1 362.2h1.2M80.5 358.6h1.2M73.1 345.2h1.2M71.7 336.9h1.2M86.1 336.4h1.2M86.6 353.9h1.2M66.8 335.2h1.2M90.2 349.4h1.2M64.2 353.3h1.2M68.6 350.7h1.2M74.7 360.0h1.2M66.9 361.0h1.2M78.4 349.0h1.2M74.4 358.4h1.2M75.9 319.9h1.2M72.7 344.7h1.2M81.9 318.5h1.2M85.1 343.1h1.2M71.4 359.0h1.2M76.3 346.3h1.2M88.4 346.7h1.2M85.3 345.3h1.2M71.3 336.9h1.2M75.6 340.8h1.2M90.3 337.4h1.2M79.5 342.0h1.2M75.4 354.1h1.2M89.6 336.6h1.2M72.1 346.3h1.2M65.3 364.7h1.2M89.9 358.4h1.2M83.9 341.3h1.2M64.0 342.7h1.2M77.0 353.2h1.2M63.9 344.6h1.2M65.8 344.1h1.2M66.0 342.2h1.2M67.4 344.1h1.2M86.9 335.7h1.2M70.3 356.6h1.2M87.5 344.5h1.2M66.2 330.5h1.2M90.5 343.3h1.2M88.1 362.1h1.2M66.3 340.3h1.2M80.3 332.4h1.2M84.1 341.9h1.2M68.8 351.3h1.2M76.0 335.5h1.2M72.0 352.0h1.2M71.3 333.7h1.2M86.4 352.0h1.2M77.6 352.8h1.2M78.0 348.2h1.2M77.9 343.2h1.2M75.2 351.1h1.2M89.0 360.0h1.2M89.0 353.8h1.2M91.8 316.4h1.2M86.7 340.5h1.2M81.0 352.1h1.2M82.0 337.4h1.2M86.6 310.2h1.2M88.1 353.4h1.2M68.5 350.6h1.2M69.0 349.8h1.2M76.7 332.8h1.2M82.3 350.1h1.2M66.4 354.0h1.2M83.1 365.6h1.2M64.7 346.3h1.2M74.6 338.2h1.2M75.6 321.3h1.2M84.6 361.6h1.2M82.0 336.2h1.2M78.2 361.3h1.2M68.8 340.2h1.2M85.7 320.3h1.2M91.8 358.4h1.2M70.3 370.7h1.2M84.7 344.1h1.2M87.3 354.9h1.2M88.6 375.8h1.2M77.0 351.2h1.2M72.4 328.5h1.2M87.6 363.1h1.2M87.6 333.6h1.2M67.9 352.4h1.2M79.7 355.2h1.2M66.4 346.4h1.2M67.9 338.7h1.2M87.7 350.6h1.2M72.9 357.0h1.2M71.1 343.2h1.2M74.7 357.0h1.2M74.3 336.5h1.2M63.8 348.0h1.2M63.5 341.6h1.2M90.9 357.6h1.2M64.1 347.7h1.2M66.3 340.1h1.2M77.9 352.8h1.2M70.5 363.8h1.2M74.1 356.0h1.2M91.7 318.8h1.2M87.7 344.4h1.2M64.1 352.9h1.2M83.3 354.1h1.2M79.2 369.5h1.2M78.9 346.3h1.2M71.1 355.2h1.2M83.7 355.0h1.2M79.8 344.4h1.2M80.6 345.9h1.2M89.8 365.1h1.2M72.8 343.2h1.2M90.0 362.9h1.2M73.0 352.7h1.2M83.7 345.0h1.2M82.4 333.7h1.2M90.3 355.9h1.2M76.7 346.7h1.2M85.2 361.4h1.2M81.2 351.2h1.2M86.6 343.8h1.2M89.0 348.7h1.2M67.1 331.2h1.2M73.0 340.0h1.2M90.6 338.7h1.2M86.1 336.3h1.2M81.5 349.2h1.2M68.4 334.5h1.2M65.6 321.3h1.2M77.2 351.0h1.2M75.2 348.3h1.2M87.8 337.4h1.2M85.8 352.3h1.2M72.2 356.3h1.2M77.5 353.4h1.2M77.9 362.2h1.2M72.7 338.6h1.2M69.2 379.7h1.2M73.0 373.3h1.2M65.0 343.8h1.2M75.5 348.5h1.2M91.1 339.6h1.2M87.4 364.4h1.2M63.8 362.1h1.2M74.4 356.8h1.2M65.3 350.1h1.2M79.0 332.7h1.2M75.0 358.6h1.2M66.4 339.4h1.2M80.6 351.3h1.2M66.8 369.7h1.2M91.7 368.1h1.2M85.1 362.7h1.2M82.5 326.0h1.2M71.4 342.1h1.2M89.1 329.8h1.2M70.5 359.4h1.2M71.9 359.0h1.2M85.2 354.2h1.2M79.0 356.7h1.2M90.0 355.9h1.2M79.6 372.5h1.2M91.8 359.4h1.2M79.2 336.2h1.2M84.2 346.6h1.2M77.1 332.9h1.2M81.6 352.1h1.2M90.5 366.7h1.2M63.8 352.7h1.2M65.2 359.1h1.2M86.1 327.4h1.2M86.3 332.4h1.2M70.3 345.7h1.2M83.6 355.1h1.2M78.6 343.2h1.2M80.2 357.1h1.2M90.7 355.3h1.2M70.5 343.7h1.2M78.2 377.2h1.2M86.4 357.0h1.2M68.5 341.8h1.2M90.2 367.7h1.2M64.0 356.2h1.2M90.2 350.7h1.2M68.1 335.4h1.2M79.1 342.6h1.2M90.0 358.8h1.2M67.9 339.3h1.2M67.3 344.8h1.2M80.0 354.9h1.2M66.9 331.8h1.2M67.5 344.5h1.2M86.9 362.1h1.2M90.3 345.4h1.2M86.6 356.3h1.2M88.3 348.9h1.2M87.1 348.4h1.2M85.6 332.7h1.2M81.6 337.5h1.2M72.8 332.2h1.2M87.3 378.2h1.2M83.0 340.0h1.2M83.0 353.7h1.2M71.3 340.1h1.2M70.6 361.2h1.2M88.0 355.0h1.2M88.9 350.6h1.2M82.7 348.0h1.2M66.9 330.9h1.2M72.2 345.4h1.2M66.3 368.5h1.2M76.8 352.9h1.2M86.8 329.3h1.2M73.4 345.9h1.2M88.6 344.3h1.2M85.0 346.5h1.2M66.1 345.0h1.2M70.5 351.3h1.2M82.4 353.2h1.2M76.3 340.5h1.2M64.3 357.5h1.2M86.0 353.6h1.2M83.9 341.6h1.2M83.5 345.8h1.2M67.1 363.0h1.2M71.5 356.2h1.2M84.6 342.5h1.2M71.5 346.6h1.2M88.2 338.8h1.2M74.3 357.5h1.2M89.8 359.1h1.2M79.7 337.1h1.2M88.1 353.7h1.2M66.4 349.3h1.2M77.8 339.9h1.2M75.8 348.1h1.2M91.8 355.7h1.2M87.5 360.3h1.2M89.0 347.6h1.2M81.7 353.2h1.2M84.6 344.7h1.2M72.3 333.7h1.2M78.2 356.9h1.2M76.8 351.9h1.2M89.5 336.6h1.2M77.1 326.8h1.2M91.0 363.8h1.2M81.8 332.0h1.2M88.4 328.8h1.2M64.2 379.5h1.2M87.7 330.4h1.2M87.2 344.1h1.2M69.6 359.2h1.2M75.2 348.7h1.2M69.1 362.0h1.2M66.0 343.1h1.2M91.4 366.9h1.2M75.3 346.9h1.2M79.9 337.8h1.2M81.6 327.2h1.2M73.9 366.8h1.2M78.3 345.5h1.2M80.1 346.2h1.2M75.3 380.3h1.2M73.5 338.1h1.2M90.3 355.2h1.2M80.4 345.4h1.2M70.6 360.8h1.2M72.5 352.2h1.2M91.5 361.6h1.2M79.6 348.4h1.2M68.0 347.9h1.2M73.3 345.2h1.2M70.2 344.0h1.2M85.8 372.9h1.2M78.7 362.4h1.2M64.7 343.7h1.2M83.2 333.1h1.2M74.3 341.9h1.2M72.1 330.1h1.2M65.4 359.4h1.2M69.9 365.0h1.2M64.7 354.5h1.2M84.5 352.0h1.2M81.3 348.7h1.2M70.1 351.2h1.2M68.8 336.5h1.2M76.4 340.0h1.2M83.9 329.4h1.2M80.5 361.1h1.2M82.2 331.6h1.2M68.9 360.6h1.2M91.3 339.6h1.2M81.7 355.7h1.2M66.3 361.6h1.2M87.6 353.2h1.2M63.8 341.6h1.2M85.8 371.0h1.2M84.0 340.9h1.2M83.6 351.6h1.2M72.0 340.9h1.2M85.2 350.7h1.2M79.8 359.6h1.2M74.3 335.3h1.2M91.7 380.1h1.2M64.3 325.1h1.2M79.0 347.4h1.2M72.5 364.2h1.2M69.4 336.0h1.2M85.1 345.8h1.2M77.4 363.3h1.2M69.7 329.4h1.2M76.9 344.4h1.2M82.5 339.9h1.2M85.3 348.9h1.2M84.4 357.2h1.2M82.6 358.5h1.2M80.5 345.0h1.2M84.3 335.0h1.2M73.3 345.7h1.2M66.2 339.4h1.2M80.0 359.9h1.2M68.4 333.6h1.2M84.9 349.6h1.2M67.7 354.7h1.2M78.2 341.6h1.2M71.2 343.9h1.2M71.6 328.4h1.2M84.9 367.2h1.2M70.7 353.9h1.2M90.6 363.0h1.2M72.9 347.1h1.2M72.6 349.4h1.2M89.1 345.0h1.2M64.1 337.2h1.2M63.8 343.8h1.2M89.2 357.5h1.2M66.8 350.0h1.2M74.0 340.9h1.2M70.6 343.6h1.2M80.0 343.9h1.2M78.5 358.3h1.2M85.6 345.6h1.2M89.7 350.7h1.2M86.1 359.5h1.2M72.9 361.2h1.2M67.3 353.9h1.2M66.3 336.9h1.2M89.9 359.4h1.2M83.5 346.6h1.2M70.3 350.9h1.2M73.5 370.5h1.2M77.7 353.8h1.2M81.4 352.8h1.2M75.6 355.5h1.2M83.8 341.4h1.2M64.6 349.7h1.2M67.7 349.8h1.2M78.6 343.2h1.2M66.2 339.4h1.2M81.3 330.5h1.2M69.7 345.0h1.2M85.3 353.6h1.2M73.1 375.5h1.2M74.8 343.9h1.2M91.1 338.6h1.2M88.9 351.7h1.2M90.4 344.4h1.2M66.8 335.0h1.2M84.9 337.2h1.2M80.6 365.3h1.2M66.4 325.1h1.2M85.9 331.6h1.2M83.0 350.6h1.2M75.2 359.0h1.2M90.1 348.9h1.2M74.4 352.4h1.2M86.7 344.6h1.2M72.1 361.4h1.2M77.4 351.5h1.2M65.7 349.7h1.2M75.6 337.8h1.2M91.3 362.5h1.2M65.8 321.3h1.2M83.6 358.5h1.2M63.9 351.2h1.2M89.9 364.7h1.2M86.8 363.4h1.2M71.3 343.0h1.2M71.2 322.9h1.2M64.6 344.1h1.2M84.6 324.2h1.2M69.5 320.3h1.2M82.5 333.8h1.2M80.1 329.1h1.2M90.5 340.7h1.2M63.5 340.1h1.2M92.0 352.4h1.2M66.4 347.0h1.2M84.4 327.5h1.2M64.7 355.3h1.2M77.5 353.5h1.2M67.6 361.7h1.2M67.2 369.8h1.2M88.5 350.5h1.2M70.3 357.0h1.2M76.6 344.5h1.2M88.9 358.0h1.2M78.1 361.0h1.2M69.6 351.7h1.2M72.4 338.6h1.2M67.0 347.8h1.2M89.8 351.6h1.2M77.3 347.4h1.2M84.3 335.9h1.2M85.1 361.4h1.2M69.3 354.9h1.2M79.3 331.1h1.2M68.2 365.6h1.2M73.3 360.3h1.2M91.4 339.4h1.2M66.8 367.7h1.2M84.1 347.5h1.2M84.8 343.6h1.2M78.2 361.0h1.2M79.5 365.2h1.2M82.2 334.1h1.2M80.3 356.9h1.2M79.8 368.5h1.2M67.1 348.2h1.2M75.8 359.8h1.2M79.5 343.4h1.2M75.7 356.4h1.2M74.1 340.1h1.2M63.9 343.9h1.2M84.1 349.8h1.2M80.4 359.0h1.2M73.9 341.1h1.2M88.4 348.8h1.2M90.3 346.9h1.2M72.7 351.8h1.2M65.1 336.2h1.2M70.3 331.6h1.2M70.7 362.8h1.2M76.9 355.6h1.2M74.5 368.6h1.2M88.1 346.8h1.2M88.0 328.2h1.2M91.6 337.1h1.2M83.9 338.6h1.2M65.2 355.2h1.2M84.4 347.3h1.2M82.5 329.6h1.2M77.0 340.1h1.2M81.1 327.9h1.2M66.3 366.0h1.2M70.6 359.3h1.2M90.0 355.4h1.2M70.0 349.7h1.2M73.2 354.8h1.2M76.0 358.2h1.2M86.7 353.5h1.2M72.9 341.2h1.2M90.5 332.0h1.2M80.8 339.0h1.2M66.6 352.0h1.2M81.7 362.7h1.2M73.2 340.2h1.2M79.5 343.1h1.2M68.3 347.7h1.2M89.2 354.5h1.2M78.2 333.7h1.2M71.3 349.4h1.2M85.8 333.4h1.2M76.0 343.9h1.2M89.4 341.4h1.2M67.2 345.1h1.2M69.6 342.3h1.2M85.2 354.7h1.2M75.0 338.8h1.2M85.6 360.5h1.2M89.3 347.1h1.2M70.6 372.4h1.2M91.4 337.1h1.2M74.4 366.3h1.2M71.2 351.7h1.2M73.7 332.9h1.2M83.4 330.7h1.2M69.4 362.8h1.2M68.5 345.4h1.2M79.0 358.0h1.2M63.5 333.8h1.2M65.4 352.0h1.2M70.9 361.0h1.2M79.2 343.7h1.2M72.8 327.9h1.2M71.5 348.8h1.2M73.4 339.2h1.2M83.4 343.7h1.2M88.8 368.8h1.2M64.7 352.2h1.2M68.1 353.6h1.2M87.0 349.6h1.2M80.2 334.6h1.2M91.5 356.8h1.2M85.0 345.2h1.2M91.5 350.9h1.2M70.8 345.9h1.2M82.1 345.6h1.2M73.6 353.7h1.2M66.3 341.4h1.2M69.1 355.2h1.2M81.8 337.8h1.2M82.9 379.3h1.2M65.9 350.8h1.2M91.6 339.8h1.2M73.5 333.5h1.2M68.8 344.6h1.2M70.5 373.7h1.2M68.2 338.4h1.2M78.1 360.6h1.2M68.6 361.3h1.2M68.4 344.9h1.2M70.4 352.9h1.2M79.3 362.1h1.2M84.2 350.1h1.2M64.6 338.6h1.2M87.2 357.0h1.2M67.5 338.8h1.2M80.7 347.7h1.2M71.9 347.7h1.2M87.8 354.9h1.2M83.1 351.0h1.2M86.2 354.1h1.2M82.3 354.6h1.2M72.6 345.2h1.2M75.0 344.3h1.2M67.1 343.7h1.2M79.2 360.0h1.2M75.0 339.2h1.2M72.9 347.4h1.2M90.1 353.7h1.2M85.3 331.6h1.2M78.8 368.7h1.2M66.8 345.4h1.2M70.8 363.7h1.2M72.7 329.5h1.2M75.1 335.3h1.2M83.6 354.1h1.2M86.2 350.2h1.2M72.5 342.0h1.2M67.6 372.0h1.2M74.1 347.6h1.2M73.3 366.8h1.2M76.6 336.4h1.2M86.7 330.8h1.2M78.1 354.4h1.2M84.8 340.2h1.2M83.3 340.9h1.2M75.0 356.2h1.2M79.3 336.2h1.2M73.8 364.0h1.2M86.4 352.5h1.2M72.2 324.9h1.2M91.0 342.3h1.2M64.6 345.0h1.2M79.3 343.7h1.2M78.9 362.2h1.2M66.0 361.5h1.2M89.8 341.0h1.2M82.7 343.8h1.2M81.8 345.1h1.2M90.1 342.7h1.2M64.9 365.7h1.2M85.7 340.4h1.2M67.8 348.3h1.2M67.9 368.5h1.2M78.5 352.8h1.2M74.8 333.2h1.2M77.1 360.2h1.2M85.8 354.1h1.2M82.9 319.7h1.2M77.4 355.2h1.2M86.3 331.1h1.2M83.0 364.7h1.2M76.3 330.7h1.2M78.6 368.4h1.2M90.9 357.0h1.2M83.9 324.1h1.2M77.4 347.8h1.2M73.1 345.0h1.2M83.9 354.3h1.2M91.9 343.9h1.2M82.0 359.0h1.2M65.6 343.2h1.2M79.8 347.2h1.2M76.3 352.9h1.2M65.7 340.8h1.2M79.4 330.2h1.2M76.2 361.0h1.2M73.4 354.6h1.2M91.3 334.1h1.2M87.1 330.8h1.2M65.6 354.0h1.2M67.1 341.3h1.2M75.5 341.4h1.2M90.9 326.9h1.2M69.8 350.9h1.2M71.3 348.5h1.2M65.1 346.4h1.2M82.7 358.6h1.2M79.5 350.7h1.2M84.5 357.0h1.2M83.2 354.6h1.2M76.7 351.9h1.2M71.6 361.8h1.2M81.1 336.3h1.2M68.8 345.7h1.2M87.9 333.6h1.2M86.8 367.4h1.2M71.2 356.2h1.2M84.5 348.4h1.2M63.6 343.3h1.2M73.6 349.5h1.2M66.7 358.1h1.2M87.6 336.1h1.2M72.9 362.3h1.2M72.2 327.2h1.2M80.3 335.3h1.2M87.1 321.9h1.2M84.4 335.5h1.2M91.6 343.3h1.2M74.1 343.9h1.2M92.0 351.0h1.2M70.7 377.5h1.2M64.2 355.3h1.2M79.5 340.3h1.2M73.8 351.9h1.2M90.5 372.9h1.2M88.5 361.6h1.2M64.0 349.8h1.2M75.4 327.3h1.2M74.0 340.5h1.2M80.1 352.0h1.2M82.1 347.4h1.2M66.2 330.7h1.2M83.4 345.0h1.2M73.4 351.1h1.2M92.0 346.0h1.2M86.3 345.2h1.2M91.2 369.0h1.2M89.9 343.6h1.2M78.3 358.1h1.2M91.5 350.8h1.2M87.6 351.1h1.2M75.1 366.1h1.2M69.1 370.1h1.2M88.0 357.1h1.2M79.9 334.6h1.2M67.6 346.7h1.2M68.7 337.9h1.2M75.2 354.8h1.2M63.5 359.3h1.2M66.1 355.6h1.2M70.8 350.3h1.2M86.5 355.0h1.2M68.4 333.4h1.2M63.6 367.3h1.2M73.9 348.5h1.2M64.0 364.7h1.2M80.3 356.7h1.2M91.5 345.3h1.2M83.3 347.8h1.2M66.5 344.5h1.2M91.7 346.8h1.2M72.7 336.6h1.2M68.1 354.2h1.2M75.0 336.8h1.2M86.2 352.1h1.2M68.7 358.7h1.2M76.4 335.8h1.2M89.7 339.2h1.2M82.6 333.7h1.2M74.0 337.1h1.2M85.1 337.8h1.2M77.0 337.3h1.2M80.9 366.4h1.2M75.6 345.9h1.2M79.2 343.8h1.2M89.1 336.9h1.2M72.8 334.1h1.2M69.8 349.4h1.2M70.5 362.0h1.2M83.2 362.9h1.2M90.3 337.3h1.2M75.9 349.0h1.2M69.3 362.4h1.2M73.3 368.0h1.2M72.2 344.7h1.2M77.1 349.3h1.2M90.0 349.5h1.2M82.6 365.4h1.2M64.5 344.4h1.2M75.8 348.9h1.2M81.5 334.9h1.2M69.2 346.5h1.2M90.9 341.5h1.2M73.7 358.4h1.2M71.0 359.5h1.2M85.8 358.9h1.2M72.6 340.1h1.2M88.7 348.7h1.2M72.0 352.1h1.2M80.9 348.9h1.2M85.7 346.9h1.2M74.6 354.1h1.2M76.0 361.0h1.2M91.8 350.8h1.2M84.5 326.1h1.2M83.5 361.6h1.2M87.2 347.0h1.2M82.7 346.5h1.2M71.1 355.8h1.2M89.8 356.3h1.2M73.2 351.2h1.2M73.4 349.4h1.2M89.3 319.6h1.2M86.8 335.6h1.2M66.6 336.8h1.2M84.2 348.6h1.2M86.1 341.4h1.2M66.9 368.1h1.2M87.5 343.8h1.2M87.2 348.5h1.2M88.0 357.4h1.2M66.9 349.8h1.2M91.6 349.2h1.2M75.3 348.3h1.2M80.1 346.1h1.2M91.7 369.7h1.2M91.0 344.8h1.2M65.8 375.3h1.2M72.7 348.9h1.2M73.2 357.3h1.2M75.9 344.8h1.2M67.1 349.2h1.2M83.5 335.3h1.2M78.3 349.1h1.2M75.3 347.8h1.2M84.7 359.4h1.2M72.3 356.1h1.2M87.7 372.2h1.2M75.1 350.1h1.2M79.7 364.1h1.2M72.4 344.3h1.2M67.0 346.5h1.2M84.4 331.3h1.2M81.1 343.3h1.2M87.1 343.8h1.2M81.2 331.0h1.2M74.7 346.8h1.2M71.1 334.0h1.2M81.5 335.0h1.2M90.1 330.2h1.2M78.0 344.6h1.2M65.1 340.9h1.2M77.2 353.6h1.2M89.5 335.2h1.2M80.2 363.6h1.2M85.9 356.7h1.2M91.5 349.2h1.2M86.1 348.6h1.2M69.8 344.9h1.2M82.3 344.9h1.2M77.6 347.3h1.2M63.6 347.2h1.2M69.3 349.6h1.2M63.5 337.5h1.2M72.7 349.5h1.2M75.3 340.2h1.2M64.0 355.5h1.2M87.4 341.0h1.2M63.5 349.9h1.2M70.1 362.5h1.2M69.3 338.5h1.2M86.9 356.5h1.2M77.8 344.3h1.2M79.5 352.7h1.2M81.1 341.3h1.2M82.7 342.0h1.2M74.3 360.1h1.2M65.4 360.6h1.2M88.2 326.8h1.2M89.3 346.7h1.2M68.4 331.2h1.2M73.4 339.7h1.2M86.9 341.8h1.2M87.3 326.9h1.2M70.9 369.0h1.2M79.9 330.4h1.2M74.4 352.9h1.2M66.3 356.5h1.2M67.3 346.8h1.2M71.4 356.0h1.2M78.5 359.5h1.2M87.9 361.7h1.2M78.7 348.8h1.2M68.3 356.9h1.2M65.7 348.6h1.2M73.5 342.4h1.2M66.0 336.0h1.2M69.7 360.1h1.2M64.2 360.9h1.2M66.1 356.7h1.2M65.7 363.4h1.2M85.6 355.3h1.2M78.6 348.0h1.2M73.2 333.4h1.2M75.6 337.9h1.2M78.9 352.8h1.2M85.5 330.5h1.2M78.9 378.1h1.2M90.9 352.4h1.2M91.2 365.2h1.2M79.7 348.4h1.2M76.0 357.0h1.2M69.8 346.5h1.2M83.7 328.7h1.2M83.7 361.2h1.2M84.2 348.1h1.2M86.3 351.7h1.2M77.6 350.4h1.2M90.3 331.6h1.2M64.2 359.3h1.2M76.9 345.3h1.2M66.5 358.7h1.2M77.3 350.9h1.2M76.1 342.5h1.2M73.4 345.9h1.2M74.6 363.3h1.2M67.3 348.9h1.2M91.2 334.1h1.2M71.5 347.2h1.2M84.7 355.0h1.2M77.6 340.7h1.2M67.2 348.6h1.2M69.3 350.1h1.2M74.5 356.9h1.2M91.1 340.3h1.2M91.0 363.1h1.2M81.8 343.2h1.2M73.0 367.1h1.2M64.5 361.2h1.2M80.1 335.0h1.2M65.4 352.7h1.2M81.8 349.3h1.2M71.6 360.2h1.2M71.3 339.2h1.2M89.0 354.4h1.2M77.4 347.3h1.2M91.5 339.8h1.2M86.2 342.9h1.2M65.6 343.6h1.2M83.8 366.4h1.2M86.1 338.5h1.2M73.7 330.8h1.2M86.7 332.5h1.2M77.1 373.1h1.2M70.8 344.6h1.2M64.9 340.9h1.2M68.1 337.8h1.2M88.1 338.2h1.2M67.8 359.7h1.2M66.5 361.9h1.2M71.0 347.3h1.2M78.0 332.4h1.2M80.9 357.7h1.2M80.5 330.4h1.2M64.9 371.1h1.2M70.3 344.1h1.2M67.4 354.0h1.2M76.6 364.3h1.2M76.9 350.1h1.2M78.8 337.2h1.2M72.3 334.6h1.2M89.8 335.1h1.2M91.6 372.8h1.2M76.3 338.4h1.2M70.8 344.1h1.2M67.4 349.9h1.2M77.9 374.2h1.2M76.3 325.0h1.2M66.4 353.9h1.2M85.9 362.5h1.2M68.8 345.1h1.2M63.8 355.1h1.2M80.9 315.8h1.2M75.6 332.8h1.2M89.9 338.0h1.2M70.0 344.9h1.2M64.8 325.4h1.2M74.6 344.9h1.2M91.2 346.5h1.2M64.4 360.3h1.2M78.2 334.3h1.2M80.0 354.1h1.2M76.2 350.2h1.2M83.2 359.2h1.2M66.9 329.5h1.2M71.0 345.9h1.2M81.7 346.6h1.2M88.2 318.8h1.2M67.0 355.0h1.2M77.0 343.8h1.2M91.9 368.0h1.2M69.6 353.7h1.2M67.2 352.3h1.2M88.0 361.5h1.2M63.7 359.4h1.2M70.9 317.7h1.2M71.0 347.0h1.2M86.1 345.1h1.2M89.1 353.1h1.2M63.6 363.7h1.2M80.8 355.0h1.2M78.2 364.0h1.2M66.7 362.0h1.2M65.7 346.0h1.2M66.5 332.2h1.2M79.1 349.0h1.2M73.7 328.1h1.2M70.3 333.9h1.2M79.6 352.4h1.2M75.9 342.0h1.2M80.0 357.7h1.2M68.6 332.3h1.2M80.1 350.3h1.2M83.8 354.6h1.2M64.0 337.0h1.2M80.6 359.0h1.2M86.9 349.4h1.2M71.7 365.0h1.2M70.8 345.6h1.2M69.8 363.3h1.2M85.3 349.8h1.2M70.7 359.9h1.2M87.4 348.9h1.2M70.5 326.5h1.2M65.5 364.8h1.2M87.9 350.7h1.2M82.9 350.8h1.2M83.0 355.5h1.2M68.0 338.2h1.2M82.9 362.5h1.2M80.2 333.5h1.2M70.8 342.4h1.2M64.3 344.0h1.2M89.9 358.6h1.2M79.3 360.6h1.2M78.3 337.5h1.2M71.5 355.4h1.2M77.4 375.6h1.2M63.5 342.8h1.2M81.3 353.6h1.2M78.0 342.8h1.2M85.3 375.3h1.2M65.9 344.9h1.2M80.5 331.1h1.2M82.1 345.5h1.2M76.4 352.1h1.2M87.3 348.9h1.2M67.0 351.7h1.2M89.3 351.0h1.2M83.7 355.6h1.2M89.9 350.9h1.2M86.5 337.8h1.2M66.0 361.5h1.2M73.2 369.6h1.2M67.6 344.1h1.2M63.7 336.8h1.2M65.3 362.5h1.2M81.1 376.0h1.2M88.5 359.1h1.2M68.6 336.9h1.2M72.9 339.5h1.2M64.8 341.2h1.2M82.2 338.4h1.2M85.4 364.2h1.2M65.6 369.0h1.2M90.2 339.0h1.2M77.5 359.6h1.2M68.4 333.0h1.2M91.6 340.0h1.2M77.5 373.3h1.2M72.8 355.1h1.2M76.6 358.5h1.2M71.3 364.5h1.2M70.0 365.1h1.2M68.0 340.1h1.2M65.4 365.9h1.2M71.2 347.2h1.2M85.5 339.9h1.2M72.2 350.6h1.2M88.3 337.4h1.2M85.7 342.0h1.2M81.2 331.6h1.2M77.2 343.5h1.2M68.7 356.2h1.2M83.3 361.1h1.2M87.8 342.0h1.2M79.7 341.6h1.2M77.5 367.2h1.2M74.4 350.2h1.2M73.5 351.3h1.2M64.6 349.7h1.2M82.1 323.5h1.2M68.0 349.6h1.2M86.5 343.1h1.2M82.1 356.4h1.2M71.1 364.1h1.2M87.3 360.7h1.2M87.5 367.8h1.2M70.7 354.1h1.2M65.7 358.3h1.2M88.5 343.0h1.2M79.0 354.2h1.2M88.6 361.4h1.2M83.1 339.0h1.2M78.7 344.3h1.2M69.8 357.9h1.2M82.6 348.8h1.2M89.2 363.8h1.2M91.2 325.8h1.2M66.4 351.3h1.2M73.7 335.1h1.2M90.8 336.6h1.2M85.3 342.7h1.2M90.1 355.1h1.2M65.0 341.8h1.2M65.4 336.0h1.2M90.7 367.9h1.2M75.6 355.9h1.2M80.9 358.1h1.2M89.1 372.0h1.2M72.8 352.9h1.2M82.0 328.7h1.2M82.2 347.8h1.2M89.2 344.8h1.2M73.9 346.8h1.2M69.0 379.9h1.2M81.6 343.6h1.2M84.6 335.1h1.2M68.0 343.3h1.2M87.1 347.0h1.2M86.1 379.5h1.2M79.1 331.4h1.2M87.0 354.9h1.2M82.6 343.2h1.2M68.6 364.3h1.2M88.0 354.4h1.2M85.8 340.1h1.2M65.1 358.3h1.2M65.2 312.9h1.2M90.6 351.1h1.2M73.7 344.8h1.2M78.7 366.4h1.2M81.5 334.1h1.2M90.8 361.0h1.2M71.4 344.1h1.2M67.5 362.1h1.2M67.6 351.0h1.2M75.8 369.8h1.2M65.1 349.8h1.2M88.7 343.1h1.2M64.7 351.4h1.2M70.9 352.8h1.2M75.5 354.2h1.2M75.4 348.5h1.2M75.0 361.4h1.2M90.7 358.3h1.2M68.9 350.2h1.2M73.5 339.0h1.2M84.1 338.0h1.2M73.9 331.9h1.2M90.0 344.6h1.2M72.5 352.8h1.2M78.7 337.1h1.2M75.2 352.3h1.2M83.7 331.9h1.2M79.4 352.2h1.2M84.0 336.5h1.2M65.9 356.0h1.2M66.7 359.0h1.2M68.7 344.4h1.2M82.4 343.0h1.2M70.1 362.7h1.2M70.5 327.5h1.2M83.0 346.3h1.2M80.0 343.0h1.2M82.8 349.1h1.2M75.7 327.7h1.2M76.1 362.2h1.2M66.1 359.6h1.2M74.1 367.5h1.2M81.7 327.7h1.2M88.2 331.8h1.2M74.1 338.3h1.2M70.7 358.6h1.2M69.5 338.8h1.2M78.0 336.6h1.2M90.8 336.1h1.2M90.5 325.8h1.2M87.4 354.5h1.2M91.4 342.8h1.2M88.4 348.0h1.2M75.9 361.0h1.2M75.6 359.7h1.2M71.3 340.0h1.2M66.9 337.3h1.2M88.5 338.5h1.2M71.9 360.0h1.2M87.2 357.2h1.2M69.4 353.3h1.2M72.8 357.8h1.2M65.7 360.8h1.2M86.8 363.1h1.2M69.3 347.7h1.2M86.4 345.0h1.2M70.1 339.8h1.2M65.8 350.9h1.2M83.7 351.1h1.2M77.0 354.6h1.2M90.3 348.8h1.2M75.5 360.5h1.2M77.9 339.5h1.2M80.0 325.7h1.2M73.4 342.4h1.2M90.2 350.5h1.2M87.5 341.6h1.2M79.3 360.4h1.2M69.2 338.0h1.2M68.1 330.3h1.2M79.6 345.0h1.2M68.1 346.5h1.2M82.1 348.7h1.2M82.3 376.1h1.2M78.4 372.2h1.2M77.4 319.7h1.2M88.0 346.5h1.2M77.1 327.5h1.2M69.6 343.1h1.2M80.1 352.8h1.2M69.7 346.4h1.2M83.2 351.1h1.2M81.1 355.8h1.2M71.9 355.7h1.2M83.0 376.7h1.2M87.1 368.7h1.2M85.3 334.1h1.2M89.4 356.3h1.2M91.2 354.3h1.2M87.0 338.8h1.2M82.9 352.2h1.2M76.4 337.7h1.2M74.8 366.7h1.2M78.9 344.1h1.2M88.4 365.2h1.2M76.7 347.0h1.2M66.2 348.5h1.2M88.7 346.2h1.2M69.9 353.1h1.2M82.8 335.9h1.2M75.2 334.4h1.2M90.6 361.1h1.2M78.0 357.3h1.2M75.2 361.5h1.2M83.2 352.1h1.2M90.0 335.2h1.2M85.2 337.4h1.2M66.2 359.4h1.2M66.1 351.8h1.2M88.2 372.2h1.2M68.7 354.8h1.2M77.2 349.0h1.2M88.0 370.1h1.2M78.2 344.8h1.2M84.2 339.2h1.2M88.2 358.3h1.2M74.7 345.8h1.2M77.3 356.2h1.2M83.6 344.9h1.2M77.6 360.0h1.2M63.8 335.8h1.2M79.1 339.6h1.2M90.9 351.2h1.2M69.3 347.8h1.2M67.8 344.8h1.2M64.7 340.6h1.2M71.2 360.2h1.2M72.2 356.1h1.2M89.3 349.4h1.2M80.5 356.9h1.2M66.7 346.0h1.2M66.0 365.6h1.2M79.1 351.0h1.2M81.1 356.0h1.2M89.5 331.0h1.2M68.8 354.7h1.2M83.6 353.5h1.2M75.4 347.4h1.2M71.5 352.8h1.2M79.5 372.1h1.2M84.7 344.1h1.2M81.1 348.0h1.2M74.2 358.3h1.2M82.5 363.1h1.2M68.3 346.6h1.2M72.4 345.3h1.2M87.7 354.8h1.2M90.7 337.8h1.2M64.5 350.0h1.2M64.4 341.4h1.2M85.2 351.1h1.2M63.7 338.6h1.2M67.0 332.4h1.2M76.9 352.0h1.2M73.3 345.1h1.2M91.1 349.9h1.2M87.6 362.5h1.2M89.0 336.5h1.2M79.6 326.0h1.2M72.6 355.9h1.2M69.7 350.1h1.2M72.7 343.6h1.2M85.4 333.7h1.2M66.0 368.5h1.2M87.7 358.6h1.2M70.3 365.4h1.2M83.4 349.7h1.2M80.2 364.4h1.2M67.5 338.5h1.2M63.9 355.0h1.2M81.5 330.4h1.2M72.9 366.6h1.2M77.1 354.1h1.2M65.5 368.1h1.2M78.0 346.1h1.2M70.9 349.9h1.2M69.3 333.4h1.2M73.8 346.1h1.2M88.6 324.3h1.2M79.3 349.8h1.2M63.7 358.1h1.2M66.7 333.9h1.2M78.3 355.7h1.2M71.7 366.3h1.2M89.5 348.4h1.2M86.9 352.2h1.2M88.7 352.1h1.2M88.1 355.1h1.2M88.7 331.6h1.2M70.6 328.8h1.2M86.4 339.4h1.2M89.2 354.0h1.2M86.4 361.0h1.2M79.8 319.5h1.2M84.5 350.0h1.2M77.7 354.6h1.2M78.0 359.3h1.2M87.6 347.0h1.2M87.6 340.1h1.2M78.0 354.7h1.2M79.8 365.8h1.2M76.1 349.6h1.2M91.2 350.1h1.2M65.7 345.3h1.2M70.7 336.3h1.2M86.3 347.6h1.2M86.3 351.6h1.2M90.1 342.8h1.2M74.1 355.5h1.2M79.0 376.2h1.2M82.9 340.1h1.2M71.0 348.0h1.2M66.5 348.2h1.2M90.8 345.0h1.2M82.9 356.8h1.2M72.5 342.4h1.2M78.5 331.8h1.2M86.0 329.3h1.2M80.1 338.8h1.2M67.1 352.8h1.2M72.7 358.8h1.2M67.3 349.9h1.2M70.3 363.9h1.2M64.7 350.9h1.2M76.3 348.6h1.2M67.1 332.6h1.2M84.9 330.7h1.2M79.0 346.1h1.2M91.8 358.7h1.2M91.4 357.5h1.2M70.9 356.7h1.2M75.5 339.3h1.2M72.5 351.7h1.2M83.2 362.9h1.2M68.7 368.6h1.2M77.9 330.3h1.2M87.8 350.1h1.2M85.9 336.6h1.2M85.7 339.1h1.2M77.1 350.9h1.2M71.1 352.6h1.2M76.5 358.1h1.2M78.8 356.3h1.2M71.5 369.8h1.2M71.3 361.8h1.2M87.7 346.6h1.2M89.7 343.7h1.2M89.3 341.2h1.2M88.2 341.1h1.2M72.1 312.8h1.2M65.4 353.9h1.2M63.9 348.9h1.2M70.7 335.1h1.2M67.9 366.3h1.2M67.0 345.9h1.2M66.9 351.4h1.2M66.4 344.5h1.2M64.7 341.6h1.2M86.5 371.7h1.2M72.0 339.5h1.2M86.9 363.0h1.2M90.8 345.8h1.2M69.8 347.2h1.2M64.8 332.1h1.2M66.2 358.8h1.2M82.5 352.9h1.2M82.7 354.1h1.2M69.5 347.4h1.2M88.4 335.7h1.2M81.2 361.1h1.2M65.2 362.0h1.2M78.2 333.6h1.2M80.3 362.2h1.2M78.7 368.5h1.2M71.4 348.0h1.2M63.6 357.0h1.2M78.3 349.7h1.2M69.4 336.2h1.2M78.0 362.4h1.2M76.6 362.2h1.2M78.0 356.6h1.2M78.2 358.0h1.2M85.9 371.2h1.2M70.9 351.4h1.2M72.4 354.2h1.2M71.9 357.2h1.2M92.0 338.2h1.2M83.5 350.0h1.2M89.9 360.1h1.2M90.9 340.1h1.2M74.2 335.1h1.2M72.6 333.8h1.2M67.6 363.6h1.2M73.5 344.7h1.2M76.7 360.3h1.2M89.7 352.3h1.2M85.4 373.4h1.2M63.6 343.9h1.2M69.2 338.9h1.2M77.1 352.8h1.2M67.2 342.8h1.2M70.5 355.8h1.2M83.1 358.8h1.2M87.4 350.1h1.2M85.0 346.7h1.2M71.0 341.9h1.2M83.4 355.7h1.2M82.1 330.5h1.2M79.1 324.7h1.2M75.6 339.9h1.2M91.5 345.9h1.2M65.7 339.3h1.2M91.2 336.6h1.2M84.9 349.3h1.2M68.6 370.3h1.2M79.2 348.7h1.2M65.8 345.6h1.2M89.8 346.2h1.2M86.0 342.2h1.2M68.0 355.8h1.2M67.5 318.7h1.2M66.3 364.4h1.2M86.0 334.6h1.2M73.1 369.0h1.2M64.7 354.6h1.2M78.0 333.7h1.2M85.3 338.0h1.2M69.5 345.9h1.2M87.8 340.0h1.2M84.2 350.9h1.2M64.6 355.4h1.2M85.3 357.7h1.2M84.0 347.0h1.2M64.7 352.0h1.2M81.8 356.0h1.2M87.4 349.5h1.2M89.1 350.4h1.2M82.1 358.0h1.2M89.9 338.1h1.2M85.4 357.2h1.2M77.5 360.3h1.2M75.3 334.6h1.2M73.0 345.9h1.2M72.4 355.4h1.2M84.8 343.8h1.2M87.6 339.2h1.2M67.0 357.4h1.2M85.8 368.1h1.2M74.5 350.8h1.2M80.9 334.3h1.2M82.1 323.1h1.2M79.8 352.2h1.2M75.0 344.2h1.2M85.1 335.7h1.2M79.7 359.9h1.2M91.9 348.8h1.2M80.1 355.2h1.2M66.1 355.1h1.2M83.6 353.3h1.2M70.7 351.5h1.2M77.4 366.0h1.2M89.5 347.0h1.2M66.0 365.5h1.2M81.3 348.6h1.2M78.7 350.8h1.2M82.6 338.1h1.2M88.3 343.5h1.2M86.2 336.6h1.2M66.8 342.4h1.2M73.2 327.4h1.2M69.4 366.1h1.2M75.4 343.9h1.2M83.7 342.4h1.2M90.7 335.2h1.2M75.7 354.7h1.2M75.4 349.0h1.2M64.1 349.1h1.2M66.7 334.6h1.2M72.0 333.3h1.2M64.3 363.0h1.2M66.6 351.2h1.2M66.1 354.2h1.2M77.1 359.6h1.2M64.8 380.7h1.2M68.6 316.1h1.2M90.9 335.8h1.2M85.7 342.2h1.2M73.7 337.8h1.2M91.4 339.5h1.2M70.8 353.2h1.2M75.9 364.2h1.2M79.6 360.1h1.2M66.0 350.8h1.2M74.9 379.1h1.2M77.9 332.5h1.2M84.5 348.4h1.2M74.4 370.2h1.2M81.1 350.8h1.2M63.9 356.5h1.2M73.5 346.4h1.2M84.6 342.2h1.2M66.1 325.3h1.2M90.6 345.8h1.2M87.5 333.6h1.2M90.4 354.0h1.2M64.4 370.7h1.2M85.8 341.5h1.2M67.7 361.0h1.2M65.8 365.1h1.2M83.1 364.7h1.2M68.6 351.2h1.2M70.7 376.9h1.2M86.9 361.6h1.2M76.0 332.0h1.2M75.4 353.2h1.2M65.6 354.8h1.2M71.5 347.7h1.2M73.8 337.4h1.2M88.5 326.7h1.2M89.1 371.9h1.2M83.8 358.5h1.2M79.6 357.2h1.2M72.4 346.1h1.2M81.7 347.3h1.2M73.1 352.0h1.2M91.5 361.7h1.2M91.9 341.9h1.2M90.8 367.2h1.2M78.5 326.0h1.2M86.0 356.0h1.2M77.3 351.9h1.2M81.3 346.9h1.2M83.3 375.2h1.2M76.6 354.8h1.2M65.2 350.8h1.2M74.3 335.1h1.2M67.3 319.2h1.2M80.8 352.7h1.2M70.0 347.3h1.2M89.9 345.6h1.2M63.8 332.7h1.2M77.4 352.3h1.2M75.5 364.0h1.2M78.4 338.1h1.2M73.0 348.2h1.2M87.6 338.3h1.2M86.6 349.3h1.2M77.7 345.2h1.2M87.6 362.0h1.2M63.8 342.8h1.2M77.5 343.3h1.2M90.1 376.8h1.2M75.1 340.5h1.2M85.0 354.4h1.2M78.3 348.8h1.2M64.7 337.1h1.2M69.0 328.2h1.2M67.4 343.2h1.2M73.1 351.1h1.2M90.0 328.4h1.2M72.3 340.4h1.2M87.7 347.9h1.2M88.8 334.9h1.2M91.3 338.5h1.2M77.3 347.6h1.2M69.7 352.4h1.2M84.5 342.6h1.2M79.9 342.9h1.2M65.3 342.4h1.2M89.9 341.9h1.2M90.9 348.6h1.2M91.4 362.1h1.2M68.9 346.5h1.2M81.4 340.3h1.2M85.6 360.6h1.2M78.6 356.8h1.2M90.6 355.8h1.2M64.9 333.0h1.2M84.8 355.3h1.2M75.8 348.4h1.2M90.9 339.7h1.2M80.0 363.6h1.2M86.4 375.0h1.2M73.1 366.8h1.2M65.3 328.0h1.2M89.9 333.0h1.2M90.6 333.2h1.2M80.8 355.9h1.2M69.8 349.3h1.2M65.7 364.6h1.2M67.0 349.5h1.2M79.4 361.7h1.2M88.5 349.8h1.2M81.1 339.9h1.2M75.9 349.2h1.2M76.4 370.4h1.2M85.7 358.9h1.2M88.7 344.4h1.2M69.6 354.4h1.2M63.7 331.4h1.2M72.9 356.9h1.2M91.9 367.5h1.2M85.2 350.9h1.2M87.6 359.0h1.2M75.9 332.6h1.2M71.3 329.1h1.2M78.5 359.2h1.2M71.9 339.0h1.2M84.0 333.6h1.2M83.3 342.8h1.2M63.9 367.3h1.2M67.1 335.0h1.2M78.4 334.2h1.2M70.0 347.2h1.2M64.5 349.9h1.2M91.0 349.1h1.2M82.2 345.6h1.2M78.0 351.8h1.2M81.8 370.6h1.2M90.4 354.3h1.2M66.8 359.7h1.2M87.0 372.5h1.2M86.1 360.0h1.2M91.1 325.1h1.2M78.4 348.5h1.2M85.8 360.5h1.2M79.7 335.4h1.2M84.0 343.7h1.2M84.5 357.6h1.2M74.4 335.6h1.2M74.0 359.4h1.2M78.5 371.8h1.2M71.2 371.1h1.2M71.6 346.7h1.2M67.9 362.2h1.2M91.4 338.3h1.2M75.2 367.8h1.2M64.2 349.3h1.2M66.0 360.3h1.2M91.5 338.9h1.2M64.3 360.0h1.2M70.5 355.6h1.2M68.4 357.7h1.2M77.3 334.5h1.2M83.1 350.9h1.2M78.3 334.0h1.2M65.8 348.9h1.2M82.2 365.2h1.2M90.3 368.5h1.2M73.5 346.9h1.2M82.0 344.0h1.2M63.6 355.7h1.2M76.5 343.2h1.2M77.7 360.2h1.2M83.2 354.8h1.2M81.4 342.9h1.2M90.1 340.2h1.2M71.5 345.8h1.2M74.1 353.1h1.2M90.6 334.2h1.2M69.9 342.8h1.2M68.3 349.6h1.2M82.7 357.9h1.2M88.8 345.7h1.2M66.7 346.5h1.2M72.3 347.8h1.2M73.8 340.7h1.2M84.3 339.7h1.2M75.5 317.5h1.2M81.8 355.5h1.2M88.7 338.1h1.2M88.8 337.1h1.2M89.2 344.4h1.2M83.4 343.5h1.2M81.1 348.6h1.2M64.1 353.3h1.2M72.7 350.6h1.2M63.5 369.6h1.2" stroke="#000" stroke-width="1.2" fill="none"/>
<path d="M114.4 350.9h1.2M119.9 353.5h1.2M124.4 338.0h1.2M125.2 351.9h1.2M108.9 339.6h1.2M117.4 356.1h1.2M124.8 342.4h1.2M108.2 370.0h1.2M108.8 341.5h1.2M118.3 335.6h1.2M116.9 377.3h1.2M124.0 333.3h1.2M111.9 370.7h1.2M111.8 347.3h1.2M106.9 345.2h1.2M105.5 307.2h1.2M123.4 346.1h1.2M119.1 334.6h1.2M116.0 345.0h1.2M99.3 352.8h1.2M120.5 358.8h1.2M112.8 345.2h1.2M119.7 360.2h1.2M110.6 360.2h1.2M117.8 345.7h1.2M118.9 347.2h1.2M107.4 357.3h1.2M122.4 351.7h1.2M123.6 356.8h1.2M106.7 344.1h1.2M109.1 358.1h1.2M112.3 348.7h1.2M123.3 348.2h1.2M113.1 322.3h1.2M125.2 336.0h1.2M118.2 349.5h1.2M108.7 365.6h1.2M121.8 328.3h1.2M117.3 329.8h1.2M111.4 343.2h1.2M107.1 332.0h1.2M124.7 359.8h1.2M114.6 345.3h1.2M101.8 319.5h1.2M118.8 350.2h1.2M112.8 358.4h1.2M117.9 334.9h1.2M107.3 352.0h1.2M119.1 328.5h1.2M125.2 363.9h1.2M104.7 345.5h1.2M111.7 319.9h1.2M115.2 345.4h1.2M107.7 333.6h1.2M124.9 368.9h1.2M120.5 361.5h1.2M107.1 333.5h1.2M106.5 356.5h1.2M108.5 340.5h1.2M125.0 343.7h1.2M119.3 349.7h1.2M105.3 362.7h1.2M118.6 352.6h1.2M111.0 337.7h1.2M103.0 354.8h1.2M115.1 346.3h1.2M109.5 322.0h1.2M96.8 351.2h1.2M106.9 352.3h1.2M112.2 353.2h1.2M106.0 349.8h1.2M107.0 347.8h1.2M117.9 326.0h1.2M97.6 346.2h1.2M120.8 358.2h1.2M116.3 361.6h1.2M112.4 351.4h1.2M124.4 344.8h1.2M114.3 347.1h1.2M122.3 368.7h1.2M113.8 331.4h1.2M108.5 328.9h1.2M113.1 345.1h1.2M120.9 343.0h1.2M105.6 351.9h1.2M99.7 346.2h1.2M104.4 342.8h1.2M101.6 375.0h1.2M105.0 351.5h1.2M106.8 358.5h1.2M115.9 333.5h1.2M113.3 344.0h1.2M117.4 343.2h1.2M115.8 343.6h1.2M98.6 343.3h1.2M101.3 329.3h1.2M108.4 354.7h1.2M106.8 341.2h1.2M121.8 344.4h1.2M114.9 328.8h1.2M113.4 357.3h1.2M110.9 364.2h1.2M108.1 347.4h1.2M108.3 340.8h1.2M116.1 355.1h1.2M109.1 335.1h1.2M108.2 348.7h1.2M119.3 343.3h1.2M102.1 335.0h1.2M113.2 356.2h1.2M118.8 344.8h1.2M102.1 335.5h1.2M115.2 336.7h1.2M103.3 350.0h1.2M105.4 354.0h1.2M121.7 358.5h1.2M119.3 323.2h1.2M102.5 356.9h1.2M109.9 337.7h1.2M108.0 341.0h1.2M102.3 347.8h1.2M110.6 340.3h1.2M98.2 354.8h1.2M119.6 351.6h1.2M117.3 360.0h1.2M103.9 346.5h1.2M113.8 355.8h1.2M117.3 318.5h1.2M110.8 337.3h1.2M112.6 349.4h1.2M118.8 342.4h1.2M116.3 342.0h1.2M110.1 342.4h1.2M124.8 342.9h1.2M121.7 358.5h1.2M113.5 352.8h1.2M109.6 332.4h1.2M120.1 338.2h1.2M103.9 363.7h1.2M113.4 361.6h1.2M97.2 346.6h1.2M101.2 341.0h1.2M121.2 358.6h1.2M117.9 365.2h1.2M114.5 353.2h1.2M106.2 342.6h1.2M101.4 348.3h1.2M97.5 351.9h1.2M100.6 352.7h1.2M109.7 339.1h1.2M110.0 332.5h1.2M104.0 331.1h1.2M99.3 345.0h1.2M108.2 339.6h1.2M101.5 343.7h1.2M117.7 353.4h1.2M121.8 344.5h1.2M124.3 348.3h1.2M99.1 341.9h1.2M110.5 358.4h1.2M122.2 363.0h1.2M122.6 334.3h1.2M122.4 330.4h1.2M111.3 338.5h1.2M121.0 356.9h1.2M97.6 353.1h1.2M102.5 339.7h1.2M105.5 328.1h1.2M106.8 324.2h1.2M109.1 327.5h1.2M99.7 349.2h1.2M123.8 353.0h1.2M108.7 338.5h1.2M98.1 336.5h1.2M122.4 347.8h1.2M113.7 326.8h1.2M104.8 336.3h1.2M124.8 339.6h1.2M112.7 357.5h1.2M107.5 319.4h1.2M116.5 356.0h1.2M97.4 348.7h1.2M116.4 364.0h1.2M99.4 345.6h1.2M98.6 354.3h1.2M120.9 351.8h1.2M108.6 347.8h1.2M108.9 326.1h1.2M101.9 346.7h1.2M121.3 361.3h1.2M122.2 338.7h1.2M115.7 347.4h1.2M116.4 343.8h1.2M119.9 359.6h1.2M114.6 364.0h1.2M123.8 343.4h1.2M115.8 351.9h1.2M115.0 340.0h1.2M105.5 342.0h1.2M110.6 337.0h1.2M111.1 350.0h1.2M122.2 336.4h1.2M117.4 350.0h1.2M122.0 373.3h1.2M118.1 358.7h1.2M103.0 349.7h1.2M115.3 347.2h1.2M106.6 333.0h1.2M107.8 334.3h1.2M118.1 335.7h1.2M109.5 367.4h1.2M123.2 354.3h1.2M122.5 350.1h1.2M98.0 349.3h1.2M102.3 332.8h1.2M118.3 334.0h1.2M122.7 349.1h1.2M125.2 353.0h1.2M119.6 365.5h1.2M110.2 375.4h1.2M116.6 333.0h1.2M99.1 372.2h1.2M107.2 359.6h1.2M101.5 332.3h1.2M110.3 352.7h1.2M99.5 344.3h1.2M123.5 347.4h1.2M99.8 354.6h1.2M102.4 358.2h1.2M114.6 359.2h1.2M102.0 362.4h1.2M110.3 351.4h1.2M103.7 337.4h1.2M106.3 360.9h1.2M110.4 343.2h1.2M111.4 349.0h1.2M99.7 347.0h1.2M120.8 345.8h1.2M109.6 356.0h1.2M98.2 343.3h1.2M118.4 325.9h1.2M102.3 334.8h1.2M105.8 348.2h1.2M111.6 341.7h1.2M120.9 345.9h1.2M125.2 360.8h1.2M100.5 349.5h1.2M115.9 347.7h1.2M98.3 328.1h1.2M98.3 326.9h1.2M112.6 333.6h1.2M113.8 346.5h1.2M107.2 338.0h1.2M117.8 338.6h1.2M101.9 342.3h1.2M109.9 364.8h1.2M106.7 339.6h1.2M114.3 350.0h1.2M116.5 343.4h1.2M109.9 346.3h1.2M99.4 369.4h1.2M113.8 350.5h1.2M117.1 354.6h1.2M108.6 327.3h1.2M116.7 334.0h1.2M112.8 329.0h1.2M103.7 347.0h1.2M116.4 376.3h1.2M122.5 342.8h1.2M105.7 355.3h1.2M124.5 330.5h1.2M122.0 350.6h1.2M109.8 343.8h1.2M113.5 357.8h1.2M122.4 341.8h1.2M102.9 358.2h1.2M101.6 353.0h1.2M105.0 347.1h1.2M114.4 330.8h1.2M108.0 341.5h1.2M116.2 341.6h1.2M99.1 361.0h1.2M101.3 347.4h1.2M121.0 343.9h1.2M107.5 335.2h1.2M115.9 333.7h1.2M124.3 330.1h1.2M124.3 363.0h1.2M118.5 375.7h1.2M104.6 324.3h1.2M120.9 353.3h1.2M99.5 332.9h1.2M113.7 331.9h1.2M108.3 357.8h1.2M117.2 355.4h1.2M109.4 337.6h1.2M99.2 351.9h1.2M97.2 370.8h1.2M120.0 338.6h1.2M108.3 349.1h1.2M109.0 345.9h1.2M113.9 344.3h1.2M104.9 344.4h1.2M121.9 345.5h1.2M108.2 346.2h1.2M108.6 355.7h1.2M106.9 348.8h1.2M111.1 355.9h1.2M118.1 345.1h1.2M111.1 333.1h1.2M113.0 335.4h1.2M103.3 342.2h1.2M107.1 358.2h1.2M101.9 335.9h1.2M122.6 343.0h1.2M99.4 349.4h1.2M108.4 360.8h1.2M114.6 351.3h1.2M98.4 338.1h1.2M102.4 353.4h1.2M118.3 334.1h1.2M107.8 357.7h1.2M112.9 354.6h1.2M122.8 329.3h1.2M116.5 340.2h1.2M122.6 336.6h1.2M99.8 367.4h1.2M115.0 341.7h1.2M105.2 355.2h1.2M102.0 329.5h1.2M117.1 348.5h1.2M122.8 326.5h1.2M119.8 350.1h1.2M104.0 343.8h1.2M109.4 349.0h1.2M97.6 360.2h1.2M109.8 343.2h1.2M121.9 325.9h1.2M124.8 340.8h1.2M96.8 360.5h1.2M98.2 358.6h1.2M121.6 337.3h1.2M104.5 336.6h1.2M107.6 333.0h1.2M101.6 356.1h1.2M115.8 344.0h1.2M124.5 349.7h1.2M99.7 349.8h1.2M107.1 344.5h1.2M110.7 336.3h1.2M113.1 341.5h1.2M114.6 349.4h1.2M109.4 346.7h1.2M122.1 334.6h1.2M98.7 343.8h1.2M106.9 360.1h1.2M107.9 340.8h1.2M115.0 358.2h1.2M116.3 328.9h1.2M99.9 341.7h1.2M104.2 367.3h1.2M111.9 334.1h1.2M107.9 355.0h1.2M106.5 333.3h1.2M125.3 329.3h1.2M106.3 354.8h1.2M121.5 357.7h1.2M107.2 343.7h1.2M112.2 349.5h1.2M104.4 353.1h1.2M123.9 336.1h1.2M112.9 352.3h1.2M123.3 354.6h1.2M116.5 333.0h1.2M114.4 339.0h1.2M100.7 360.4h1.2M115.2 337.5h1.2M105.4 361.6h1.2M105.9 344.9h1.2M125.1 361.2h1.2M120.7 343.6h1.2M116.6 364.6h1.2M122.6 369.2h1.2M115.9 325.8h1.2M98.0 359.5h1.2M122.1 340.4h1.2M110.0 338.1h1.2M119.7 360.7h1.2M103.9 333.8h1.2M114.1 344.5h1.2M122.4 356.4h1.2M108.4 332.8h1.2M120.6 344.7h1.2M110.1 344.9h1.2M99.6 349.0h1.2M96.7 345.1h1.2M105.9 343.1h1.2M110.2 348.5h1.2M115.2 354.0h1.2M115.0 350.1h1.2M105.2 340.7h1.2M99.6 346.7h1.2M97.6 348.3h1.2M119.8 337.9h1.2M120.0 349.4h1.2M119.5 326.0h1.2M121.0 330.0h1.2M114.8 343.6h1.2M120.2 356.5h1.2M112.0 354.1h1.2M110.2 354.8h1.2M102.1 334.6h1.2M115.4 357.1h1.2M97.0 366.9h1.2M100.4 363.6h1.2M111.2 334.3h1.2M106.2 352.4h1.2M97.2 360.1h1.2M113.9 348.3h1.2M111.7 353.3h1.2M124.6 347.2h1.2M118.1 352.1h1.2M117.3 340.7h1.2M107.5 351.8h1.2M108.4 352.1h1.2M123.8 364.4h1.2M117.2 359.0h1.2M101.0 340.9h1.2M122.1 337.4h1.2M100.8 352.9h1.2M103.6 334.4h1.2M109.3 334.6h1.2M117.8 340.1h1.2M116.3 327.3h1.2M113.4 343.6h1.2M99.0 343.3h1.2M123.4 349.5h1.2M120.1 361.4h1.2M111.2 359.2h1.2M105.0 365.3h1.2M115.7 328.3h1.2M114.8 338.9h1.2M123.0 359.7h1.2M107.5 347.2h1.2M118.5 326.8h1.2M122.3 322.8h1.2M101.1 333.0h1.2M110.8 347.4h1.2M119.2 358.4h1.2M103.9 345.4h1.2M104.8 337.8h1.2M120.4 347.8h1.2M104.5 344.2h1.2M108.4 326.4h1.2M120.2 355.3h1.2M123.6 344.4h1.2M97.4 339.7h1.2M109.3 349.5h1.2M124.2 347.1h1.2M124.9 361.7h1.2M108.2 350.1h1.2M98.6 354.9h1.2M105.7 362.4h1.2M102.0 333.4h1.2M115.2 371.7h1.2M99.8 352.5h1.2M119.9 354.3h1.2M108.7 342.5h1.2M105.2 369.9h1.2M109.5 337.4h1.2M112.1 335.7h1.2M115.2 347.5h1.2M108.8 355.0h1.2M120.5 331.2h1.2M113.1 364.8h1.2M116.6 353.1h1.2M107.1 351.6h1.2M106.0 341.7h1.2M111.7 325.1h1.2M110.4 344.3h1.2M100.3 347.5h1.2M117.2 350.6h1.2M111.2 322.1h1.2M124.4 339.9h1.2M106.5 338.2h1.2M109.1 356.0h1.2M117.3 344.5h1.2M125.0 359.8h1.2M117.9 346.3h1.2M110.8 361.0h1.2M123.5 357.4h1.2M124.9 352.5h1.2M99.6 360.5h1.2M112.9 352.7h1.2M118.9 337.9h1.2M104.0 350.1h1.2M113.7 348.4h1.2M118.9 356.0h1.2M111.7 323.0h1.2M103.7 341.4h1.2M117.9 351.7h1.2M101.8 331.5h1.2M114.8 338.1h1.2M108.2 342.4h1.2M107.2 344.6h1.2M113.6 366.0h1.2M115.2 335.9h1.2M103.5 332.7h1.2M124.5 349.6h1.2M112.4 352.0h1.2M102.8 330.0h1.2M117.6 354.8h1.2M116.5 355.2h1.2M118.4 354.1h1.2M124.3 349.9h1.2M122.7 354.0h1.2M125.1 372.0h1.2M106.6 334.8h1.2M110.7 342.8h1.2M100.8 337.6h1.2M97.2 344.6h1.2M114.2 326.2h1.2M104.1 362.4h1.2M110.4 335.5h1.2M121.4 345.7h1.2M107.2 344.0h1.2M107.3 354.3h1.2M112.2 318.5h1.2M121.7 338.1h1.2M120.3 336.3h1.2M103.3 334.8h1.2M98.2 371.1h1.2M112.3 333.9h1.2M107.3 333.1h1.2M114.1 348.2h1.2M108.6 354.6h1.2M102.0 332.5h1.2M119.6 329.8h1.2M109.7 345.2h1.2M102.6 359.4h1.2M107.3 334.0h1.2M112.8 331.5h1.2M101.4 352.7h1.2M118.5 339.0h1.2M121.7 352.7h1.2M101.1 343.3h1.2M112.7 345.2h1.2M118.9 339.0h1.2M116.8 318.6h1.2M120.5 340.7h1.2M99.4 357.8h1.2M104.2 339.9h1.2M122.5 339.2h1.2M120.5 353.5h1.2M108.8 340.2h1.2M120.5 349.4h1.2M97.3 349.7h1.2M112.0 337.6h1.2M104.1 354.3h1.2M114.8 348.8h1.2M121.6 336.1h1.2M108.7 327.0h1.2M105.1 335.2h1.2M99.7 334.5h1.2M104.5 350.2h1.2M103.8 361.5h1.2M106.8 350.7h1.2M113.4 373.3h1.2M113.3 343.6h1.2M105.4 332.6h1.2M97.9 358.4h1.2M100.1 355.6h1.2M112.3 352.2h1.2M113.7 342.6h1.2M114.1 364.3h1.2M118.8 364.4h1.2M123.3 327.4h1.2M113.6 329.5h1.2M109.1 338.9h1.2M101.3 360.0h1.2M119.4 365.6h1.2M122.3 343.8h1.2M107.3 375.7h1.2M97.2 349.6h1.2M118.8 360.0h1.2M103.4 339.3h1.2M102.2 326.6h1.2M121.1 343.1h1.2M111.6 352.3h1.2M118.8 348.9h1.2M98.3 341.1h1.2M100.9 315.8h1.2M113.9 361.6h1.2M123.1 356.6h1.2M112.1 345.0h1.2M106.8 342.6h1.2M121.9 356.0h1.2M104.9 338.7h1.2M104.8 351.9h1.2M122.8 361.1h1.2M102.2 346.5h1.2M116.7 335.7h1.2M100.1 350.3h1.2M113.7 357.2h1.2M115.4 354.3h1.2M96.7 332.9h1.2M121.5 324.3h1.2M99.2 339.7h1.2M120.5 344.0h1.2M105.5 333.3h1.2M122.6 341.0h1.2M98.3 347.6h1.2M117.3 372.6h1.2M122.8 365.9h1.2M122.5 364.5h1.2M104.5 321.4h1.2M102.8 342.4h1.2M107.9 373.5h1.2M122.9 344.1h1.2M109.1 362.2h1.2M104.5 353.3h1.2M121.7 343.8h1.2M119.7 348.1h1.2M113.0 320.0h1.2M100.1 346.4h1.2M120.4 345.5h1.2M104.7 315.6h1.2M123.5 354.3h1.2M122.7 357.2h1.2M120.1 341.8h1.2M99.8 350.6h1.2M101.9 355.3h1.2M113.0 346.8h1.2M105.7 338.1h1.2M107.2 340.7h1.2M96.8 321.5h1.2M97.5 330.6h1.2M112.6 345.3h1.2M114.4 332.5h1.2M112.1 344.0h1.2M124.5 341.2h1.2M120.0 323.1h1.2M107.2 316.2h1.2M112.2 359.8h1.2M101.5 364.8h1.2M103.2 335.0h1.2M125.0 360.9h1.2M106.3 341.5h1.2M121.8 333.9h1.2M99.4 345.9h1.2M120.7 362.8h1.2M106.1 348.1h1.2M124.5 370.0h1.2M112.9 365.2h1.2M117.6 355.6h1.2M116.2 331.0h1.2M117.2 351.7h1.2M106.8 357.0h1.2M112.5 345.6h1.2M101.6 340.5h1.2M107.3 348.3h1.2M108.6 336.0h1.2M112.4 331.3h1.2M108.2 348.6h1.2M111.6 367.8h1.2M111.4 352.9h1.2M102.8 350.9h1.2M99.3 339.8h1.2M108.6 346.9h1.2M113.1 342.7h1.2M109.6 330.6h1.2M114.5 332.5h1.2M116.1 366.1h1.2M100.2 336.9h1.2M118.1 355.4h1.2M107.3 349.1h1.2M124.9 345.7h1.2M100.1 343.0h1.2M98.2 346.4h1.2M108.4 317.6h1.2M119.1 363.2h1.2M124.6 338.5h1.2M102.9 348.3h1.2M96.8 341.5h1.2M122.3 348.2h1.2M99.5 329.1h1.2M113.5 349.1h1.2M108.1 320.4h1.2M102.9 342.4h1.2M114.3 344.3h1.2M120.1 332.5h1.2M96.8 341.0h1.2M114.1 349.2h1.2M117.7 333.8h1.2M106.4 351.9h1.2M114.6 358.0h1.2M111.8 373.7h1.2M113.4 339.1h1.2M110.8 353.3h1.2M115.7 358.4h1.2M105.4 372.3h1.2M120.0 379.6h1.2M112.5 345.0h1.2M108.6 348.8h1.2M108.9 338.9h1.2M110.4 354.8h1.2M113.1 342.3h1.2M117.0 331.7h1.2M102.3 335.3h1.2M110.2 346.2h1.2M116.0 342.7h1.2M114.0 360.2h1.2M98.0 337.5h1.2M123.1 332.3h1.2M116.9 341.3h1.2M100.5 355.2h1.2M115.2 343.0h1.2M99.1 345.0h1.2M104.6 358.5h1.2M108.1 351.8h1.2M122.1 366.6h1.2M102.6 348.3h1.2M122.2 344.5h1.2M104.9 347.6h1.2M108.0 351.2h1.2M123.1 349.0h1.2M111.9 345.8h1.2M113.0 346.5h1.2M123.4 343.1h1.2M121.7 351.0h1.2M115.7 370.1h1.2M113.3 336.2h1.2M108.6 342.4h1.2M121.5 345.2h1.2M115.8 341.7h1.2M121.7 350.4h1.2M100.8 332.9h1.2M122.6 352.4h1.2M119.6 352.7h1.2M111.2 334.7h1.2M105.9 350.1h1.2M124.4 364.4h1.2M125.1 321.6h1.2M115.6 334.2h1.2M122.7 354.0h1.2M119.5 371.3h1.2M104.8 334.5h1.2M101.4 358.2h1.2M104.0 331.6h1.2M122.7 344.1h1.2M125.2 340.7h1.2M118.0 339.9h1.2M116.3 359.4h1.2M100.4 360.1h1.2M103.6 340.8h1.2M115.6 352.6h1.2M103.6 336.5h1.2M119.1 344.2h1.2M123.4 321.1h1.2M110.7 344.7h1.2M120.6 354.2h1.2M110.5 343.1h1.2M113.5 354.5h1.2M117.9 337.0h1.2M115.8 345.5h1.2M111.8 361.4h1.2M106.6 340.9h1.2M118.8 328.7h1.2M109.1 335.8h1.2M116.5 343.3h1.2M119.8 369.2h1.2M123.6 342.7h1.2M109.6 346.9h1.2M99.5 342.7h1.2M113.5 366.1h1.2M106.4 329.2h1.2M107.5 335.5h1.2M115.0 349.4h1.2M105.2 323.9h1.2M119.6 346.6h1.2M114.0 354.1h1.2M124.9 344.5h1.2M116.6 363.2h1.2M112.9 362.3h1.2M104.9 342.5h1.2M120.1 353.8h1.2M124.3 325.4h1.2M108.0 351.9h1.2M116.9 359.7h1.2M118.1 363.7h1.2M107.7 370.0h1.2M119.0 346.8h1.2M108.9 342.5h1.2M110.9 349.4h1.2M122.4 343.7h1.2M118.4 349.6h1.2M115.6 326.1h1.2M116.0 353.9h1.2M113.4 351.5h1.2M106.8 331.6h1.2M122.6 349.2h1.2M115.3 354.2h1.2M101.1 354.1h1.2M110.0 336.5h1.2M119.6 322.4h1.2M103.5 343.1h1.2M119.6 332.6h1.2M107.7 356.3h1.2M102.7 353.3h1.2M105.6 341.5h1.2M99.7 327.8h1.2M125.0 356.4h1.2M107.7 337.3h1.2M117.3 373.3h1.2M109.8 327.3h1.2M101.1 353.3h1.2M110.2 340.9h1.2M110.3 349.9h1.2M101.7 350.7h1.2M115.7 355.3h1.2M119.1 352.9h1.2M99.0 356.2h1.2M102.8 339.3h1.2M100.7 362.3h1.2M124.6 361.7h1.2M112.1 336.1h1.2M115.9 352.2h1.2M117.3 351.8h1.2M110.6 335.8h1.2M100.0 360.8h1.2M110.2 340.0h1.2M111.7 348.2h1.2M116.8 339.0h1.2M115.9 360.5h1.2M108.8 348.5h1.2M96.9 337.7h1.2M113.0 347.2h1.2M108.1 350.3h1.2M106.5 357.6h1.2M121.4 345.2h1.2M104.7 324.3h1.2M100.5 358.8h1.2M117.7 351.6h1.2M122.7 353.7h1.2M99.8 338.3h1.2M119.9 351.7h1.2M101.7 331.5h1.2M116.9 334.3h1.2M121.5 341.2h1.2M111.4 344.4h1.2M119.1 377.6h1.2M103.2 336.1h1.2M110.0 349.5h1.2M105.7 357.9h1.2M104.5 344.7h1.2M102.1 335.8h1.2M112.7 337.7h1.2M119.9 354.8h1.2M124.0 349.3h1.2M123.3 352.7h1.2M120.4 340.3h1.2M115.1 355.5h1.2M116.7 334.4h1.2M112.3 343.8h1.2M120.6 325.5h1.2M124.7 353.2h1.2M96.8 361.1h1.2M119.5 323.7h1.2M109.3 333.8h1.2M98.8 338.6h1.2M103.1 360.4h1.2M103.7 362.6h1.2M97.2 344.2h1.2M105.5 361.2h1.2M105.0 336.9h1.2M109.6 349.6h1.2M107.7 329.2h1.2M115.8 360.9h1.2M107.3 341.7h1.2M114.8 345.4h1.2M121.1 343.9h1.2M102.0 343.4h1.2M99.0 341.3h1.2M104.9 344.4h1.2M104.9 362.1h1.2M111.4 354.8h1.2M99.8 354.2h1.2M114.5 332.1h1.2M102.7 318.2h1.2M112.6 346.1h1.2M104.3 341.1h1.2M115.0 333.8h1.2M124.6 341.8h1.2M109.7 369.6h1.2M104.9 357.1h1.2M111.2 349.7h1.2M118.1 342.1h1.2M105.9 346.9h1.2M117.3 354.1h1.2M110.9 351.8h1.2M96.8 351.1h1.2M99.5 333.7h1.2M108.1 341.9h1.2M115.9 349.0h1.2M102.6 318.4h1.2M124.2 339.7h1.2M114.0 361.2h1.2M99.2 339.5h1.2M119.3 366.7h1.2M117.7 347.0h1.2M108.4 348.9h1.2M111.3 352.0h1.2M99.6 325.8h1.2M112.8 340.9h1.2M123.9 347.0h1.2M114.4 338.9h1.2M112.8 348.0h1.2M121.7 362.9h1.2M103.0 335.1h1.2M113.8 341.5h1.2M103.4 368.1h1.2M104.4 329.0h1.2M109.0 329.1h1.2M107.4 356.0h1.2M117.3 346.9h1.2M103.2 353.1h1.2M122.8 344.5h1.2M121.3 350.7h1.2M122.9 339.0h1.2M120.1 345.1h1.2M113.3 352.0h1.2M103.8 324.8h1.2M100.8 351.0h1.2M121.0 358.0h1.2M108.9 348.0h1.2M116.2 355.2h1.2M111.8 352.8h1.2M123.9 339.3h1.2M110.5 338.4h1.2M124.9 340.9h1.2M115.1 344.6h1.2M100.7 346.3h1.2M111.0 344.4h1.2M125.1 339.8h1.2M122.4 334.6h1.2M116.4 348.7h1.2M104.5 322.5h1.2M124.7 334.2h1.2M111.4 328.3h1.2M111.4 326.6h1.2M118.4 340.3h1.2M112.6 333.1h1.2M122.6 331.0h1.2M100.5 348.1h1.2M121.9 347.6h1.2M106.3 362.8h1.2M104.0 368.2h1.2M107.3 341.0h1.2M110.7 336.0h1.2M97.1 360.9h1.2M103.5 345.1h1.2M107.7 358.9h1.2M119.5 330.8h1.2M124.3 328.2h1.2M108.8 349.5h1.2M125.2 352.7h1.2M101.0 334.9h1.2M101.6 346.1h1.2M98.6 348.9h1.2M121.5 329.2h1.2M99.6 353.1h1.2M111.7 342.9h1.2M99.8 354.7h1.2M106.9 334.4h1.2M111.0 351.4h1.2M120.7 346.4h1.2M114.8 351.7h1.2M99.1 349.7h1.2M111.9 345.1h1.2M101.8 344.8h1.2M122.3 347.3h1.2M100.9 340.0h1.2M109.6 356.4h1.2M113.4 366.1h1.2M116.3 357.6h1.2M98.9 326.4h1.2M110.5 348.1h1.2M101.9 352.7h1.2M117.7 364.1h1.2M106.0 344.4h1.2M122.9 333.5h1.2M112.5 341.6h1.2M114.9 361.6h1.2M123.8 360.5h1.2M119.8 326.8h1.2M100.8 351.9h1.2M113.3 348.0h1.2M121.4 326.8h1.2M101.6 344.5h1.2M115.5 357.1h1.2M104.6 335.1h1.2M108.2 336.9h1.2M114.4 356.1h1.2M98.4 360.6h1.2M122.6 331.0h1.2M114.2 358.1h1.2M118.0 361.8h1.2M114.8 366.8h1.2M117.2 343.5h1.2M120.9 345.5h1.2M109.3 352.6h1.2M120.8 340.6h1.2M102.5 346.0h1.2M102.6 352.7h1.2M122.1 346.4h1.2M108.5 355.6h1.2M100.7 341.7h1.2M121.8 334.2h1.2M107.5 333.5h1.2M97.8 344.3h1.2M121.3 339.6h1.2M108.7 309.6h1.2M121.2 327.3h1.2M117.5 365.5h1.2M117.2 359.7h1.2M113.9 352.2h1.2M122.4 338.5h1.2M118.3 347.5h1.2M104.9 368.6h1.2M107.9 337.7h1.2M103.6 375.1h1.2M120.9 361.3h1.2M105.3 361.4h1.2M115.7 369.4h1.2M116.7 326.6h1.2M120.7 362.7h1.2M102.2 356.6h1.2M111.5 357.9h1.2M97.9 316.6h1.2M105.4 350.5h1.2M101.9 344.6h1.2M118.6 322.5h1.2M124.5 342.4h1.2M100.3 335.6h1.2M118.3 354.8h1.2M98.6 351.0h1.2M124.1 350.4h1.2M106.1 354.7h1.2M123.6 347.6h1.2M114.8 348.8h1.2M98.4 328.7h1.2M118.0 356.6h1.2M122.2 352.2h1.2M115.7 340.5h1.2M115.3 349.0h1.2M98.4 342.3h1.2M101.6 345.9h1.2M118.1 342.3h1.2M104.7 350.1h1.2M119.6 310.3h1.2M114.0 347.7h1.2M100.7 363.8h1.2M111.9 332.9h1.2M102.1 370.8h1.2M124.5 338.0h1.2M105.8 341.3h1.2M97.7 349.0h1.2M119.3 331.4h1.2M97.6 344.2h1.2M122.4 356.6h1.2M102.7 338.5h1.2M124.0 365.7h1.2M124.8 348.2h1.2M116.7 348.6h1.2M113.8 335.7h1.2M114.9 322.4h1.2M119.4 337.8h1.2M97.1 344.7h1.2M113.4 344.6h1.2M100.6 341.8h1.2M119.1 343.3h1.2M122.8 359.4h1.2M107.1 338.2h1.2M119.4 347.6h1.2M106.3 360.6h1.2M114.6 320.9h1.2M104.8 346.9h1.2M108.8 326.4h1.2M100.7 350.1h1.2M101.7 369.0h1.2M116.0 341.2h1.2M117.2 325.7h1.2M110.9 343.0h1.2M96.8 354.6h1.2M104.1 356.2h1.2M119.4 332.8h1.2M116.3 343.1h1.2M103.0 333.2h1.2M98.1 352.6h1.2M99.7 356.9h1.2M116.1 359.4h1.2M121.4 364.9h1.2M120.7 357.0h1.2M113.7 364.7h1.2M103.5 353.4h1.2M99.2 347.6h1.2M105.1 336.7h1.2M112.8 338.3h1.2M122.3 341.6h1.2M120.6 354.8h1.2M102.3 340.3h1.2M98.6 330.8h1.2M96.9 344.6h1.2M97.4 338.0h1.2M121.4 337.5h1.2M98.8 369.3h1.2M107.4 322.1h1.2M106.6 342.6h1.2M106.1 350.8h1.2M101.0 360.6h1.2M122.6 331.6h1.2M97.8 333.3h1.2M104.3 343.7h1.2M110.7 331.3h1.2M100.1 355.8h1.2M108.7 346.3h1.2M112.1 343.7h1.2M119.9 352.4h1.2M123.2 356.5h1.2M119.0 351.1h1.2M110.5 335.8h1.2M109.6 346.4h1.2M112.4 336.9h1.2M111.4 360.7h1.2M100.5 337.3h1.2M101.7 353.5h1.2M124.6 346.0h1.2M112.6 340.6h1.2M111.6 342.2h1.2M103.1 359.2h1.2M108.3 336.2h1.2M117.9 354.3h1.2M110.5 317.2h1.2M108.8 377.6h1.2M102.5 340.2h1.2M110.4 357.7h1.2M118.8 349.5h1.2M106.7 337.2h1.2M100.0 353.6h1.2M119.0 353.6h1.2M114.1 343.2h1.2M101.7 365.2h1.2M119.1 369.5h1.2M113.6 346.4h1.2M98.3 351.3h1.2M120.9 351.7h1.2M108.1 336.8h1.2M116.7 345.1h1.2M123.3 354.3h1.2M104.5 369.6h1.2M106.1 346.1h1.2M99.6 339.9h1.2M110.7 330.5h1.2M98.3 350.1h1.2M118.7 338.3h1.2M102.6 351.0h1.2M112.0 347.0h1.2M104.8 339.5h1.2M103.2 363.8h1.2M100.5 354.7h1.2M109.5 358.6h1.2M107.2 347.4h1.2M117.5 343.0h1.2M114.8 340.7h1.2M111.4 352.9h1.2M102.3 362.5h1.2M109.8 333.1h1.2M104.2 354.0h1.2M108.3 371.0h1.2M119.7 321.9h1.2M104.5 334.3h1.2M103.4 334.4h1.2M115.1 350.3h1.2M108.4 334.5h1.2M121.2 341.6h1.2M109.2 351.7h1.2M104.1 342.9h1.2M122.3 358.1h1.2M111.6 359.1h1.2M117.0 361.1h1.2M124.4 326.6h1.2M106.7 351.6h1.2M120.5 353.8h1.2M122.1 321.7h1.2M123.8 357.9h1.2M102.5 341.1h1.2M105.4 342.4h1.2M108.6 339.6h1.2M97.7 356.3h1.2M106.5 337.0h1.2M110.5 350.3h1.2M122.6 346.4h1.2M121.3 363.2h1.2M110.8 370.7h1.2M113.2 341.9h1.2M120.8 345.6h1.2M118.4 349.4h1.2M112.1 340.5h1.2M112.5 352.5h1.2M113.1 344.9h1.2M98.9 352.7h1.2M120.5 372.0h1.2M106.5 351.7h1.2M119.8 334.6h1.2M110.3 350.6h1.2M100.9 344.5h1.2M107.6 342.2h1.2M109.6 345.8h1.2M122.5 339.5h1.2M112.3 346.1h1.2M124.0 330.9h1.2M116.5 348.1h1.2M100.9 349.2h1.2M119.4 343.6h1.2M101.4 351.6h1.2M115.0 355.0h1.2M125.2 337.7h1.2M112.0 350.2h1.2M117.1 344.1h1.2M123.2 338.6h1.2M100.8 343.5h1.2M102.7 337.5h1.2M103.5 344.2h1.2M115.7 333.5h1.2M108.7 345.6h1.2M101.5 336.5h1.2M96.8 341.1h1.2M116.0 344.5h1.2M122.1 332.7h1.2M114.3 341.9h1.2M108.9 350.5h1.2M105.9 334.4h1.2M100.8 339.4h1.2M102.6 343.8h1.2M114.3 349.0h1.2M102.4 341.2h1.2M110.9 365.1h1.2M117.9 347.4h1.2M102.8 343.6h1.2M97.9 359.4h1.2M105.0 350.3h1.2M99.1 357.2h1.2M110.2 335.1h1.2M120.9 322.6h1.2M103.2 341.0h1.2M122.1 353.9h1.2M123.5 344.8h1.2M110.0 329.6h1.2M121.4 373.8h1.2M123.2 332.0h1.2M98.1 348.5h1.2M97.3 354.7h1.2M122.0 332.5h1.2M124.1 353.4h1.2M104.5 343.6h1.2M101.8 313.6h1.2M123.6 351.8h1.2M106.8 306.0h1.2M119.7 369.0h1.2M122.4 343.6h1.2M111.4 352.0h1.2M123.4 339.3h1.2M102.3 365.1h1.2M111.2 362.5h1.2M119.4 332.2h1.2M119.8 354.2h1.2M116.5 363.8h1.2M109.3 339.5h1.2M121.9 368.5h1.2M124.9 349.0h1.2M112.5 358.6h1.2M121.1 332.5h1.2M104.0 345.3h1.2M119.7 332.4h1.2M99.8 346.5h1.2M100.8 347.5h1.2M106.5 364.1h1.2M99.0 357.7h1.2M109.0 360.8h1.2M104.4 354.9h1.2M119.9 351.3h1.2M107.6 338.8h1.2M103.3 349.7h1.2M104.7 361.4h1.2M122.9 358.0h1.2M101.1 367.8h1.2M102.1 346.5h1.2M107.8 340.5h1.2M113.6 351.6h1.2M100.9 373.1h1.2M104.7 351.1h1.2M113.1 341.4h1.2M104.6 353.8h1.2M122.3 346.3h1.2M105.9 357.6h1.2M105.3 358.4h1.2M115.4 346.0h1.2M124.0 348.3h1.2M97.7 348.7h1.2M119.2 349.1h1.2M115.3 341.1h1.2M116.0 334.3h1.2M122.8 350.6h1.2M110.1 328.0h1.2M121.7 361.1h1.2M116.3 334.8h1.2M124.1 326.8h1.2M103.9 355.7h1.2M100.1 350.1h1.2M106.5 353.7h1.2M105.5 336.5h1.2M123.2 349.6h1.2M106.8 325.5h1.2M120.2 348.5h1.2M98.5 344.6h1.2M106.3 345.5h1.2M109.5 344.8h1.2M121.0 321.8h1.2M106.4 358.1h1.2M98.1 345.3h1.2M124.5 375.3h1.2M123.3 337.7h1.2M120.6 335.3h1.2M101.1 338.5h1.2M99.1 338.5h1.2M117.9 342.8h1.2M98.1 354.8h1.2M101.8 352.6h1.2M99.0 367.2h1.2M98.7 324.5h1.2M102.1 348.9h1.2M109.2 350.3h1.2M101.0 352.5h1.2M112.2 334.3h1.2M120.9 338.4h1.2M98.8 334.6h1.2M112.5 345.9h1.2M124.4 340.6h1.2M115.3 336.6h1.2M102.5 354.4h1.2M116.3 360.9h1.2M120.7 340.9h1.2M106.5 347.2h1.2M121.0 340.7h1.2M101.5 329.0h1.2M102.6 341.4h1.2M111.2 332.4h1.2M108.9 343.4h1.2M102.5 346.4h1.2M123.8 337.9h1.2M110.1 331.9h1.2M121.3 364.0h1.2M124.4 353.1h1.2M122.9 350.0h1.2M114.0 339.5h1.2M119.3 341.0h1.2M100.1 350.8h1.2M107.1 341.9h1.2M108.6 341.6h1.2M109.0 362.1h1.2M113.2 370.5h1.2M104.3 356.5h1.2M96.8 339.7h1.2M119.5 346.9h1.2M116.3 326.4h1.2M102.1 358.0h1.2M103.6 341.6h1.2M108.3 329.7h1.2M112.0 346.4h1.2M108.7 356.5h1.2M109.0 345.7h1.2M104.9 325.3h1.2M109.7 361.7h1.2M100.6 340.9h1.2M110.5 316.1h1.2M109.9 332.5h1.2M97.1 345.1h1.2M110.3 337.8h1.2M105.4 334.3h1.2M106.6 335.9h1.2M99.7 342.5h1.2M111.9 353.2h1.2M117.0 351.3h1.2M114.9 331.7h1.2M122.3 344.9h1.2M115.7 354.8h1.2M103.1 368.1h1.2M110.6 338.1h1.2M123.2 365.3h1.2M106.9 320.5h1.2M112.2 338.0h1.2M110.9 344.0h1.2M97.1 353.3h1.2M103.0 316.1h1.2M108.9 339.2h1.2M111.2 325.4h1.2M121.2 326.5h1.2M103.8 348.1h1.2M113.6 332.5h1.2M113.4 350.5h1.2M105.6 361.7h1.2M101.5 343.8h1.2M115.8 346.9h1.2M103.7 322.6h1.2M123.7 350.2h1.2M115.2 361.7h1.2M114.4 341.9h1.2M105.7 327.0h1.2M122.2 364.3h1.2M101.2 353.7h1.2M114.9 329.0h1.2M115.7 358.6h1.2M107.8 308.3h1.2M118.1 340.2h1.2M115.2 347.6h1.2M100.0 332.6h1.2M125.3 344.7h1.2M112.2 332.0h1.2M100.3 335.9h1.2M114.4 331.4h1.2M104.2 352.6h1.2M97.7 339.9h1.2M102.5 337.2h1.2M118.4 358.5h1.2M100.8 345.9h1.2M116.4 342.1h1.2M105.7 331.7h1.2M107.1 344.5h1.2M107.5 340.0h1.2M106.4 343.5h1.2M118.0 354.9h1.2M124.5 345.3h1.2M122.9 342.8h1.2M109.9 350.2h1.2M102.7 337.0h1.2M117.1 340.3h1.2M108.1 371.2h1.2M102.0 330.7h1.2M115.8 370.7h1.2M119.5 329.3h1.2M108.4 314.2h1.2M98.5 346.8h1.2M111.4 356.4h1.2M121.1 334.0h1.2M113.2 340.0h1.2M112.7 347.0h1.2M111.3 337.7h1.2M110.0 340.0h1.2M109.5 350.5h1.2M107.7 351.8h1.2M112.2 340.6h1.2M111.8 342.4h1.2M123.6 336.0h1.2M97.7 357.5h1.2M111.5 344.9h1.2M110.3 349.6h1.2M114.3 341.1h1.2M114.8 358.1h1.2M98.5 330.0h1.2M114.0 331.8h1.2M112.6 341.6h1.2M117.2 344.7h1.2M108.1 334.9h1.2M114.7 354.9h1.2M110.4 347.8h1.2M119.7 325.5h1.2M124.9 345.8h1.2M110.1 328.2h1.2M104.3 353.0h1.2M105.9 349.9h1.2M100.0 358.5h1.2M118.7 361.5h1.2M101.1 358.1h1.2M100.4 341.3h1.2M122.0 329.3h1.2M104.2 330.5h1.2M112.8 353.9h1.2M115.3 345.0h1.2M113.9 357.5h1.2M115.8 328.2h1.2M112.3 357.8h1.2M116.4 333.3h1.2M105.6 356.9h1.2M103.1 333.9h1.2M124.4 336.3h1.2M106.2 341.5h1.2M102.2 320.4h1.2M125.1 355.8h1.2M114.4 351.3h1.2M99.9 337.6h1.2M110.8 339.9h1.2M115.9 356.8h1.2M109.4 348.0h1.2M104.1 338.3h1.2M120.4 363.0h1.2M97.5 337.3h1.2M123.9 344.5h1.2M125.0 369.3h1.2M99.3 351.4h1.2M116.7 344.1h1.2M119.4 347.7h1.2M118.6 365.6h1.2M110.9 329.0h1.2M98.9 347.6h1.2M112.2 339.0h1.2M111.9 354.0h1.2M99.0 347.4h1.2M101.0 352.1h1.2M111.7 328.8h1.2M102.7 329.1h1.2M123.3 327.2h1.2M104.8 318.4h1.2M116.2 361.9h1.2M116.5 316.3h1.2M97.8 332.1h1.2M106.6 342.4h1.2M123.5 341.7h1.2M119.9 343.5h1.2M97.0 356.8h1.2M98.9 358.0h1.2M123.0 349.6h1.2M115.0 368.5h1.2M114.5 380.2h1.2M122.3 336.4h1.2M112.7 336.1h1.2M106.9 355.0h1.2M97.0 356.6h1.2M99.3 344.6h1.2M98.2 338.4h1.2M116.7 344.8h1.2M121.0 342.1h1.2M107.6 353.6h1.2M105.3 340.6h1.2M111.8 353.4h1.2M117.5 344.6h1.2M119.3 336.8h1.2M106.7 328.3h1.2M110.1 348.1h1.2M122.9 360.4h1.2M112.9 354.7h1.2M109.5 332.5h1.2M97.5 349.5h1.2M97.0 352.5h1.2M109.3 333.5h1.2M122.0 338.9h1.2M122.9 339.7h1.2M110.6 333.8h1.2M98.2 335.4h1.2M108.9 350.7h1.2M113.0 331.6h1.2M114.2 330.6h1.2M102.1 339.3h1.2M122.2 372.5h1.2M114.3 357.9h1.2M109.7 366.6h1.2M116.9 348.8h1.2M117.7 357.1h1.2M113.4 334.9h1.2M106.7 355.9h1.2M115.4 353.5h1.2M107.5 358.7h1.2M105.0 341.7h1.2M102.3 364.0h1.2M115.3 364.2h1.2M115.7 363.4h1.2M108.1 349.6h1.2M111.6 334.5h1.2M114.7 345.4h1.2M115.4 330.0h1.2M106.7 354.2h1.2M122.0 344.4h1.2M110.7 352.4h1.2M112.2 364.3h1.2M125.2 340.7h1.2M113.7 342.9h1.2M103.2 343.1h1.2M111.8 340.0h1.2M105.1 302.6h1.2M103.9 352.0h1.2M100.6 339.5h1.2M107.0 326.3h1.2M99.8 349.1h1.2M99.4 320.5h1.2M121.6 350.1h1.2M109.3 380.1h1.2M109.2 357.5h1.2M103.5 330.0h1.2M121.9 345.3h1.2M106.2 342.0h1.2M119.8 320.9h1.2M113.1 352.6h1.2M107.0 374.2h1.2M99.7 346.9h1.2M105.3 337.2h1.2M96.9 355.6h1.2M111.1 325.2h1.2M116.5 353.4h1.2M102.6 346.5h1.2M121.8 346.5h1.2M105.6 353.7h1.2M102.5 340.3h1.2M100.5 342.2h1.2M107.4 359.0h1.2M108.0 316.0h1.2M99.2 346.1h1.2M121.6 351.0h1.2M102.0 349.7h1.2M118.0 339.4h1.2M117.1 333.8h1.2M109.9 347.9h1.2M106.4 343.1h1.2M103.9 335.9h1.2M107.8 344.7h1.2M117.7 351.4h1.2M114.3 315.1h1.2M115.4 339.6h1.2M120.8 343.2h1.2M124.6 338.4h1.2M102.4 323.5h1.2M98.9 344.0h1.2M120.7 350.7h1.2M120.8 349.3h1.2M111.4 347.7h1.2M118.1 339.4h1.2M100.2 327.4h1.2M107.5 341.6h1.2M112.0 343.6h1.2M105.3 341.8h1.2M117.5 323.5h1.2M111.3 360.3h1.2M110.1 352.9h1.2M112.4 355.0h1.2M121.1 358.0h1.2M125.0 339.8h1.2M105.4 348.3h1.2M98.8 370.5h1.2M118.6 343.7h1.2M117.7 331.9h1.2M105.2 327.7h1.2M98.3 357.1h1.2M121.6 357.2h1.2M122.6 344.9h1.2M117.5 366.9h1.2M111.6 351.2h1.2M119.5 374.7h1.2M113.0 335.3h1.2M118.7 339.2h1.2M112.4 346.8h1.2M113.3 349.0h1.2M121.6 340.4h1.2M124.9 334.3h1.2M102.2 322.6h1.2M106.3 359.6h1.2M100.1 350.8h1.2M120.7 349.4h1.2M123.9 316.9h1.2M98.5 360.7h1.2M108.9 346.0h1.2M98.5 380.3h1.2M115.5 365.4h1.2M102.5 314.6h1.2M116.5 336.6h1.2M109.9 351.8h1.2M108.8 352.4h1.2M98.5 340.8h1.2M116.9 335.0h1.2M108.1 331.0h1.2M111.4 349.0h1.2M116.5 333.7h1.2M99.7 330.3h1.2M116.7 350.7h1.2M97.1 341.8h1.2M120.6 343.1h1.2M102.2 349.5h1.2M123.6 365.3h1.2M121.7 349.7h1.2M109.0 334.9h1.2M101.5 330.2h1.2M97.3 374.5h1.2M116.7 339.3h1.2M110.3 370.8h1.2M103.8 352.9h1.2M116.4 342.7h1.2M105.1 350.9h1.2M121.0 339.1h1.2M101.2 343.7h1.2M123.2 340.1h1.2M98.2 349.6h1.2M113.8 354.4h1.2M123.2 359.0h1.2M113.0 340.5h1.2M119.8 307.5h1.2M117.3 346.3h1.2M110.2 303.8h1.2M112.7 341.0h1.2M125.0 321.3h1.2M117.3 330.9h1.2M101.5 359.9h1.2M99.5 336.8h1.2M98.7 363.3h1.2M118.6 339.2h1.2M118.6 341.0h1.2M123.5 350.2h1.2M101.0 357.3h1.2M104.2 344.3h1.2M117.7 333.0h1.2M106.0 335.9h1.2M113.3 363.7h1.2M111.9 352.4h1.2M101.1 331.9h1.2M118.9 333.5h1.2M99.3 364.9h1.2M119.8 344.1h1.2M114.4 325.7h1.2M103.2 334.3h1.2M110.3 351.5h1.2M119.1 350.0h1.2M105.9 334.7h1.2M97.3 350.0h1.2M111.3 362.3h1.2M121.0 334.2h1.2M115.0 359.4h1.2M108.9 342.7h1.2M102.4 346.3h1.2M115.7 345.8h1.2M115.4 356.5h1.2M106.1 329.2h1.2M103.9 344.3h1.2M102.8 356.8h1.2M117.0 360.0h1.2M122.1 342.5h1.2M123.3 344.3h1.2M117.9 308.4h1.2M113.0 359.3h1.2M123.7 361.2h1.2M124.3 349.0h1.2M112.1 353.8h1.2M108.8 342.9h1.2M114.4 336.1h1.2M99.0 372.2h1.2M112.1 352.5h1.2M120.1 347.6h1.2M101.2 352.6h1.2M123.3 358.5h1.2M98.2 336.3h1.2M116.0 356.5h1.2M107.5 356.3h1.2M104.6 338.9h1.2M111.5 334.8h1.2M109.0 332.4h1.2M101.3 346.1h1.2M104.4 360.8h1.2M114.8 363.2h1.2M118.0 352.8h1.2M113.4 359.4h1.2M104.0 329.7h1.2M120.9 334.0h1.2M123.9 333.9h1.2M113.6 336.8h1.2M103.7 367.2h1.2M104.5 353.2h1.2M110.5 322.7h1.2M99.9 348.4h1.2M102.4 346.9h1.2M99.2 340.0h1.2M101.3 366.9h1.2M119.6 338.8h1.2M113.5 346.8h1.2M99.5 332.2h1.2M118.7 360.7h1.2M123.6 347.0h1.2M105.1 349.7h1.2M112.6 360.9h1.2M113.0 342.8h1.2M111.7 324.0h1.2M99.5 336.5h1.2M109.0 354.2h1.2M117.3 346.3h1.2M104.9 346.0h1.2M124.4 353.5h1.2M114.1 351.7h1.2M103.8 351.9h1.2M99.9 330.0h1.2M100.7 338.0h1.2M98.7 360.2h1.2M118.1 375.1h1.2M97.2 343.5h1.2M97.3 342.8h1.2M97.1 349.4h1.2M101.0 372.9h1.2M105.9 334.1h1.2M102.2 342.5h1.2M114.8 343.9h1.2M100.8 351.5h1.2M102.3 349.9h1.2M125.0 351.5h1.2M115.6 347.6h1.2M125.3 332.7h1.2M115.8 352.0h1.2M116.2 348.0h1.2M120.2 356.7h1.2M98.5 352.3h1.2M123.0 361.0h1.2M119.0 350.6h1.2M113.7 345.4h1.2M107.6 334.1h1.2M109.7 310.4h1.2M100.7 331.3h1.2M122.8 344.9h1.2M100.7 344.4h1.2M118.7 373.6h1.2M113.6 357.7h1.2M119.8 350.2h1.2M102.6 328.1h1.2M113.8 344.5h1.2M122.1 333.6h1.2M117.4 354.4h1.2M101.0 351.4h1.2M113.2 344.8h1.2M113.2 345.1h1.2M102.1 361.5h1.2M102.7 342.7h1.2M111.0 357.0h1.2M122.9 352.6h1.2M98.4 366.1h1.2M110.7 342.0h1.2M102.1 338.4h1.2M107.7 343.4h1.2M105.3 330.6h1.2M105.4 321.9h1.2M119.1 335.5h1.2M112.3 341.1h1.2M115.1 332.7h1.2M108.9 356.8h1.2M100.7 339.3h1.2M103.1 357.8h1.2M101.9 344.9h1.2M114.6 350.3h1.2M115.4 351.9h1.2M108.7 358.8h1.2M108.5 349.1h1.2M124.6 348.0h1.2M114.5 356.2h1.2M124.6 351.3h1.2M120.2 358.7h1.2M121.0 343.4h1.2M105.2 343.4h1.2M106.8 328.0h1.2M122.9 342.3h1.2M110.6 357.3h1.2M108.3 341.8h1.2M97.7 351.0h1.2M110.6 329.9h1.2M110.0 366.3h1.2M105.5 334.2h1.2M100.6 348.4h1.2M111.8 326.8h1.2M117.6 357.0h1.2M99.8 336.7h1.2M115.2 361.9h1.2M108.9 336.5h1.2M115.1 356.3h1.2M116.2 343.0h1.2M125.1 338.0h1.2M111.1 332.4h1.2M97.8 334.2h1.2M116.5 340.6h1.2M100.5 337.2h1.2M118.3 358.2h1.2M125.2 333.9h1.2M112.7 342.0h1.2M114.0 353.0h1.2M107.7 361.9h1.2M103.5 351.6h1.2M116.2 358.7h1.2M115.5 368.0h1.2M113.1 337.1h1.2M120.4 348.7h1.2M111.3 346.5h1.2M120.1 346.7h1.2M124.8 342.5h1.2M109.7 334.4h1.2M121.0 362.2h1.2M109.7 350.7h1.2M108.2 330.7h1.2M114.3 357.7h1.2M110.6 347.4h1.2M98.0 342.3h1.2M124.5 353.4h1.2M102.4 323.5h1.2M109.6 340.4h1.2M100.8 336.2h1.2M112.1 343.7h1.2M104.5 352.9h1.2M110.8 349.9h1.2M120.9 351.1h1.2M98.8 338.1h1.2M120.6 345.3h1.2M122.4 350.6h1.2M101.6 354.3h1.2M113.9 366.1h1.2M98.6 344.7h1.2M123.7 338.6h1.2M122.4 343.9h1.2M114.9 347.4h1.2M102.4 342.5h1.2M119.1 324.6h1.2M118.9 363.5h1.2M107.6 342.0h1.2M117.3 369.1h1.2M109.4 327.2h1.2M124.9 344.7h1.2M116.9 343.2h1.2M113.4 359.4h1.2M103.1 347.3h1.2M104.1 347.2h1.2M114.7 354.1h1.2M118.4 372.5h1.2M104.0 350.7h1.2M113.3 351.4h1.2M116.6 345.9h1.2M106.3 359.0h1.2M108.5 349.2h1.2M113.3 339.3h1.2M96.9 324.2h1.2M117.6 328.0h1.2M104.9 362.8h1.2M97.4 322.3h1.2M120.1 350.6h1.2M115.8 357.4h1.2M116.2 363.1h1.2M106.1 339.6h1.2M113.0 340.1h1.2M98.1 329.3h1.2M99.3 339.3h1.2M111.7 335.0h1.2M118.2 354.4h1.2M117.8 339.9h1.2M125.1 331.0h1.2M114.0 339.4h1.2M103.0 337.2h1.2M106.1 347.0h1.2M104.0 345.5h1.2M111.0 338.9h1.2M97.8 338.2h1.2M118.6 365.9h1.2M96.9 352.5h1.2M121.3 353.6h1.2M105.4 339.9h1.2M119.5 339.1h1.2M121.0 320.3h1.2M120.9 355.4h1.2M103.4 350.3h1.2M100.7 345.4h1.2M105.8 341.2h1.2M98.1 341.8h1.2M103.6 353.0h1.2M111.3 322.9h1.2M117.5 344.9h1.2M112.2 347.9h1.2M119.4 320.7h1.2M99.6 341.3h1.2M114.9 330.5h1.2M102.8 350.1h1.2M117.1 327.2h1.2M101.9 342.5h1.2M105.5 330.4h1.2M106.6 342.7h1.2M100.1 335.4h1.2M116.7 357.9h1.2M124.0 349.1h1.2M110.3 361.9h1.2M105.3 348.6h1.2M105.3 349.6h1.2M100.0 359.5h1.2M116.5 339.9h1.2M113.4 337.3h1.2M97.4 343.0h1.2M117.6 356.9h1.2M107.4 326.4h1.2M121.6 335.9h1.2M99.0 328.3h1.2M116.5 359.7h1.2M102.5 338.5h1.2M119.5 338.8h1.2M123.8 361.4h1.2M105.2 353.6h1.2M104.5 363.0h1.2M113.7 362.0h1.2M104.7 330.1h1.2M124.7 334.0h1.2M115.4 354.7h1.2M125.1 347.2h1.2M110.4 357.5h1.2M111.7 352.0h1.2M101.7 357.3h1.2M117.9 354.8h1.2M101.2 336.8h1.2M110.2 340.5h1.2M121.9 329.4h1.2M120.5 332.9h1.2M118.3 344.5h1.2M108.1 355.1h1.2M96.8 334.3h1.2M121.6 338.4h1.2M102.2 341.8h1.2M116.6 349.7h1.2M115.2 330.8h1.2M97.1 350.3h1.2M119.4 335.7h1.2M102.6 353.5h1.2M110.8 339.0h1.2M99.7 339.7h1.2M102.1 337.3h1.2M99.8 357.0h1.2M121.6 348.1h1.2M105.1 334.3h1.2M98.4 341.5h1.2M116.4 350.0h1.2M104.1 333.4h1.2M114.9 365.4h1.2M109.4 327.9h1.2M123.3 341.1h1.2M103.6 325.1h1.2M110.4 339.1h1.2M97.4 355.8h1.2M102.5 345.8h1.2M120.3 337.0h1.2M119.6 335.9h1.2M105.3 349.5h1.2M122.7 353.3h1.2M111.4 350.1h1.2M111.7 364.7h1.2M110.7 358.0h1.2M113.2 349.5h1.2M105.3 359.8h1.2M124.5 341.1h1.2M113.6 339.0h1.2M113.4 338.3h1.2M111.3 345.3h1.2M98.7 319.5h1.2M119.8 348.0h1.2M124.0 325.9h1.2M107.6 348.3h1.2M119.5 359.1h1.2M117.2 359.8h1.2M119.4 341.4h1.2M113.8 356.3h1.2M114.4 335.6h1.2M121.3 348.8h1.2M100.9 345.0h1.2M101.1 365.2h1.2M97.6 353.6h1.2M115.6 329.9h1.2M104.6 340.3h1.2M112.4 340.6h1.2M103.2 352.1h1.2M99.1 375.5h1.2M123.0 335.9h1.2M117.2 359.0h1.2M103.0 338.2h1.2M109.6 337.6h1.2M122.3 351.6h1.2M102.1 322.2h1.2M107.7 314.6h1.2M121.7 346.2h1.2M107.1 327.2h1.2M114.7 352.9h1.2M110.3 345.0h1.2M99.2 357.4h1.2M105.5 334.0h1.2M116.8 327.9h1.2M104.9 363.7h1.2M99.2 337.8h1.2M102.5 350.9h1.2M110.0 354.4h1.2M116.6 372.1h1.2M109.2 345.5h1.2M100.4 361.7h1.2M105.2 340.1h1.2M113.9 369.4h1.2M102.7 363.9h1.2M103.1 324.6h1.2M107.2 350.6h1.2M102.9 325.7h1.2M120.3 341.8h1.2M112.8 350.5h1.2M103.6 367.1h1.2M97.1 330.0h1.2M111.5 342.5h1.2M109.2 345.2h1.2M112.2 352.9h1.2M114.2 341.3h1.2M101.7 339.4h1.2M123.5 341.1h1.2M122.4 339.0h1.2M108.5 333.9h1.2M97.6 335.8h1.2M97.3 346.3h1.2M124.1 328.3h1.2M123.8 348.7h1.2M100.7 335.0h1.2M105.7 336.7h1.2M105.8 336.0h1.2M108.6 372.4h1.2M98.0 361.2h1.2M109.1 363.1h1.2M98.4 328.9h1.2M106.7 346.2h1.2M105.8 337.3h1.2M98.0 355.6h1.2M100.9 363.5h1.2M119.2 335.1h1.2M101.8 368.8h1.2M116.0 347.9h1.2M103.0 350.8h1.2M110.1 333.5h1.2M117.5 366.3h1.2M115.2 321.6h1.2M114.3 355.1h1.2M100.7 357.8h1.2M109.8 331.5h1.2M115.8 341.5h1.2M108.9 343.4h1.2M105.0 338.2h1.2M112.1 317.1h1.2M125.1 354.1h1.2M118.4 345.7h1.2M122.8 338.1h1.2M122.7 352.7h1.2M101.2 339.0h1.2M99.1 348.9h1.2M98.1 330.0h1.2M110.0 335.9h1.2M98.0 358.4h1.2M117.3 330.4h1.2M108.2 336.2h1.2M117.9 348.9h1.2M125.2 354.3h1.2M103.1 323.7h1.2M112.6 353.0h1.2M108.0 344.9h1.2M125.1 326.6h1.2M119.9 349.6h1.2M115.7 340.7h1.2M99.9 357.0h1.2M124.7 362.3h1.2M101.7 323.5h1.2M114.4 358.8h1.2M113.7 345.8h1.2M109.6 347.9h1.2M118.9 320.8h1.2M111.4 352.2h1.2M113.5 380.2h1.2M98.0 345.0h1.2M120.0 355.0h1.2M119.6 353.2h1.2M102.4 365.5h1.2M123.7 333.5h1.2M112.6 358.4h1.2M101.4 343.4h1.2M112.5 349.3h1.2M98.8 352.2h1.2M122.0 356.8h1.2M103.4 322.9h1.2M116.9 334.9h1.2M106.1 353.7h1.2M103.6 351.2h1.2M112.3 355.9h1.2M104.8 348.2h1.2M104.2 332.3h1.2M123.8 333.1h1.2M117.2 354.1h1.2M122.5 340.8h1.2M106.2 359.9h1.2M125.1 331.6h1.2M96.8 347.2h1.2M112.2 343.0h1.2M108.5 353.4h1.2M108.4 353.3h1.2M112.3 351.4h1.2M115.8 340.1h1.2M104.1 321.1h1.2M110.3 341.9h1.2" stroke="#000" stroke-width="1.2" fill="none"/>
<path d="M41.6 342.7h1.1M46.8 318.8h1.1M32.0 369.4h1.1M58.8 335.5h1.1M54.8 365.4h1.1M38.2 340.6h1.1M32.9 343.4h1.1M46.6 369.8h1.1M59.1 351.5h1.1M57.5 335.4h1.1M49.5 385.7h1.1M38.5 342.3h1.1M35.1 330.3h1.1M52.0 329.2h1.1M52.7 360.9h1.1M58.4 357.1h1.1M42.9 342.1h1.1M40.0 326.1h1.1M56.9 346.4h1.1M34.3 356.3h1.1M30.9 351.5h1.1M50.7 346.6h1.1M42.4 334.6h1.1M57.0 345.9h1.1M50.4 348.8h1.1M50.3 347.0h1.1M55.4 318.5h1.1M57.5 312.8h1.1M50.4 337.4h1.1M33.1 372.1h1.1M39.5 360.8h1.1M38.8 364.0h1.1M52.3 316.1h1.1M29.7 330.6h1.1M45.8 353.3h1.1M34.4 349.3h1.1M45.1 331.4h1.1M37.3 353.3h1.1M38.5 346.7h1.1M36.2 350.4h1.1M55.3 349.4h1.1M39.2 368.8h1.1M32.0 333.0h1.1M34.0 332.8h1.1M35.8 375.5h1.1M34.8 352.8h1.1M43.8 371.1h1.1M49.5 351.9h1.1M31.3 346.9h1.1M53.2 346.5h1.1M39.3 352.4h1.1M38.6 360.3h1.1M50.8 330.1h1.1M32.0 358.8h1.1M48.6 334.7h1.1M42.8 345.1h1.1M49.3 322.4h1.1M59.3 376.5h1.1" stroke="#000" stroke-width="1.1" fill="none"/>
<path d="M65.4 310.0h1.1M74.7 361.9h1.1M77.9 334.0h1.1M65.5 328.9h1.1M81.5 331.1h1.1M74.9 340.3h1.1M83.7 380.1h1.1M84.0 346.2h1.1M88.8 362.2h1.1M64.0 344.9h1.1M80.6 347.6h1.1M81.4 338.5h1.1M80.0 331.3h1.1M83.3 336.8h1.1M70.9 321.7h1.1M74.3 336.5h1.1M81.3 323.3h1.1M87.1 323.5h1.1M74.8 361.2h1.1M65.1 352.2h1.1M62.8 321.0h1.1M74.4 329.6h1.1M92.5 317.5h1.1M63.7 342.2h1.1M70.3 388.1h1.1M72.1 308.9h1.1M74.3 305.1h1.1M82.9 355.0h1.1M62.8 346.1h1.1M74.0 369.8h1.1M76.0 370.1h1.1M81.0 368.4h1.1M63.4 340.6h1.1M63.7 307.7h1.1M62.9 377.9h1.1M85.8 355.8h1.1M88.8 340.7h1.1M69.6 365.4h1.1M76.3 344.6h1.1M68.7 332.2h1.1M71.4 321.1h1.1M69.5 367.6h1.1M82.4 355.6h1.1M86.0 331.1h1.1M68.6 343.3h1.1M74.1 353.9h1.1M84.3 329.6h1.1M87.6 358.1h1.1M86.0 370.7h1.1M82.0 346.4h1.1M91.4 335.0h1.1M77.3 352.1h1.1M79.7 331.3h1.1M88.4 373.0h1.1M77.4 336.7h1.1M87.3 343.2h1.1M65.4 337.3h1.1M73.3 318.4h1.1" stroke="#000" stroke-width="1.1" fill="none"/>
<path d="M111.7 384.3h1.1M121.5 338.6h1.1M111.6 355.5h1.1M107.7 369.3h1.1M101.4 333.0h1.1M103.3 361.9h1.1M116.6 347.3h1.1M103.4 303.5h1.1M124.8 322.7h1.1M97.7 337.4h1.1M126.0 290.4h1.1M96.9 372.9h1.1M116.7 293.3h1.1M113.2 307.7h1.1M100.7 367.5h1.1M122.0 342.5h1.1M102.6 289.9h1.1M105.1 365.6h1.1M102.4 319.7h1.1M115.0 339.3h1.1M108.2 355.8h1.1M118.4 338.2h1.1M120.3 346.5h1.1M119.8 351.5h1.1M117.9 330.0h1.1M122.1 347.1h1.1M98.6 359.5h1.1M119.8 350.0h1.1M102.7 302.8h1.1M118.2 370.6h1.1M108.0 358.1h1.1M116.9 364.3h1.1M106.9 310.3h1.1M111.0 351.4h1.1M101.6 365.5h1.1M98.7 361.1h1.1M105.4 326.4h1.1M111.2 359.9h1.1M123.0 330.0h1.1M100.0 335.4h1.1M98.6 363.5h1.1M118.2 316.7h1.1M123.2 373.9h1.1M98.7 359.2h1.1M108.0 338.6h1.1M109.1 346.1h1.1M98.4 357.3h1.1M115.5 340.4h1.1M124.3 317.5h1.1M97.8 354.7h1.1M101.6 331.4h1.1M99.5 346.0h1.1M112.1 346.9h1.1M110.6 333.2h1.1M117.0 335.7h1.1M125.4 340.2h1.1" stroke="#000" stroke-width="1.1" fill="none"/>
<path d="M139.9 331.1h1.0M142.4 342.4h1.0M134.8 342.6h1.0M131.3 326.0h1.0M157.0 300.5h1.0M140.9 359.8h1.0M133.6 335.1h1.0M130.7 340.8h1.0M144.8 344.8h1.0M136.9 307.2h1.0M135.9 350.2h1.0M142.7 328.8h1.0M157.3 315.9h1.0M150.1 338.3h1.0M149.3 307.2h1.0M142.6 306.1h1.0M135.7 322.6h1.0M143.1 310.1h1.0M156.7 321.8h1.0M146.7 318.1h1.0M148.3 352.4h1.0M146.9 332.8h1.0M147.0 333.4h1.0M155.7 320.7h1.0M138.6 318.7h1.0M146.5 344.0h1.0M151.8 313.8h1.0M156.7 325.9h1.0M143.6 322.4h1.0M147.0 325.5h1.0M134.1 323.9h1.0M143.7 332.7h1.0M140.9 330.1h1.0M149.8 334.7h1.0M132.5 339.6h1.0M151.1 326.4h1.0M149.1 350.2h1.0M151.2 332.3h1.0M155.4 343.1h1.0M132.6 322.6h1.0M145.0 328.2h1.0M137.4 348.0h1.0M139.3 318.8h1.0M132.2 335.7h1.0M132.0 308.5h1.0M134.6 349.4h1.0M144.0 332.0h1.0M153.5 327.5h1.0M157.0 334.5h1.0M138.8 349.0h1.0M146.9 336.1h1.0M143.2 320.0h1.0M156.7 318.3h1.0M154.3 318.4h1.0M143.7 353.0h1.0M144.0 352.6h1.0M146.6 334.5h1.0M144.1 340.9h1.0M135.4 336.5h1.0M148.0 313.8h1.0M132.1 318.5h1.0M145.2 320.0h1.0M131.1 307.5h1.0M152.4 314.6h1.0M139.5 342.7h1.0M137.2 317.0h1.0M152.6 313.0h1.0M146.6 343.1h1.0M136.6 329.4h1.0M137.0 331.7h1.0M136.5 324.7h1.0M142.7 322.4h1.0M146.7 317.6h1.0M147.2 353.3h1.0M143.3 338.5h1.0M138.0 325.9h1.0M130.9 337.8h1.0M141.6 304.3h1.0M153.4 348.1h1.0M154.9 344.6h1.0M141.8 337.2h1.0M156.4 320.2h1.0M131.2 345.4h1.0M141.0 328.2h1.0M152.1 316.7h1.0M154.8 338.4h1.0M144.0 307.9h1.0M138.7 340.7h1.0M150.7 305.1h1.0M132.1 341.3h1.0M134.2 345.2h1.0M139.4 350.0h1.0M133.5 342.4h1.0M134.7 327.8h1.0M152.0 333.5h1.0M141.9 330.4h1.0M139.1 333.2h1.0M146.8 319.5h1.0M149.9 334.6h1.0M146.1 347.1h1.0M151.3 321.7h1.0M131.3 354.2h1.0M153.0 335.6h1.0M135.0 324.9h1.0M134.7 318.5h1.0M149.4 337.6h1.0M142.4 325.3h1.0M147.7 317.6h1.0M152.0 353.7h1.0M156.7 333.6h1.0M144.0 342.9h1.0M140.0 342.3h1.0M149.4 321.3h1.0M152.7 347.9h1.0M142.9 341.8h1.0M149.4 361.5h1.0M152.8 317.7h1.0M138.1 342.9h1.0M145.5 314.8h1.0M156.6 305.7h1.0M133.9 340.8h1.0M154.9 338.0h1.0M144.9 331.2h1.0M150.0 321.8h1.0M151.7 335.4h1.0M148.8 333.2h1.0M144.0 346.9h1.0M151.3 300.0h1.0M151.0 320.0h1.0M149.1 323.9h1.0M131.3 338.2h1.0M153.7 353.7h1.0M138.8 320.0h1.0M144.1 328.1h1.0M134.4 317.6h1.0M139.7 321.8h1.0M152.3 335.3h1.0M131.4 324.8h1.0M141.5 321.2h1.0M156.1 300.0h1.0M144.8 337.7h1.0M141.5 313.6h1.0M152.1 315.5h1.0M144.3 332.1h1.0M155.5 348.5h1.0M131.0 306.9h1.0M144.3 352.1h1.0M141.5 346.1h1.0M143.4 332.8h1.0M136.0 339.9h1.0M141.3 313.3h1.0M151.8 351.5h1.0M137.1 352.8h1.0M151.4 337.0h1.0M137.7 362.1h1.0M137.6 353.0h1.0M151.3 315.6h1.0M150.3 325.6h1.0M138.4 338.6h1.0M151.6 333.2h1.0M147.8 316.9h1.0M152.5 348.5h1.0M135.9 315.5h1.0M147.8 318.7h1.0M153.8 345.1h1.0M149.8 327.2h1.0M131.0 314.2h1.0M142.7 346.1h1.0M144.2 318.9h1.0M150.0 327.1h1.0M138.2 337.6h1.0M134.1 316.2h1.0M143.0 322.5h1.0M134.3 322.9h1.0M157.5 316.5h1.0M146.9 326.9h1.0M148.8 314.9h1.0M140.6 310.5h1.0M132.8 309.3h1.0M140.3 350.6h1.0M150.3 321.9h1.0M155.8 341.8h1.0M152.7 304.8h1.0M145.0 316.2h1.0M140.9 324.9h1.0M133.8 323.0h1.0M135.1 312.2h1.0M141.0 305.3h1.0M148.1 308.5h1.0M155.3 336.0h1.0M143.3 353.0h1.0M152.1 343.7h1.0M155.8 330.6h1.0M131.5 331.6h1.0M151.0 334.9h1.0M142.3 335.7h1.0M137.3 311.7h1.0M154.9 308.6h1.0M142.6 345.8h1.0M151.2 317.9h1.0M136.8 342.4h1.0M139.7 316.4h1.0M138.1 321.8h1.0M149.2 323.4h1.0M156.9 325.6h1.0M147.9 324.0h1.0M151.1 304.6h1.0M147.1 315.2h1.0M134.4 312.6h1.0M130.9 335.6h1.0M145.5 316.6h1.0M153.1 321.8h1.0M133.2 325.7h1.0M140.4 328.5h1.0M131.8 306.3h1.0M146.6 341.6h1.0M139.3 326.5h1.0M137.3 321.1h1.0M139.9 334.2h1.0M146.6 320.5h1.0M138.2 354.1h1.0M131.3 340.6h1.0M136.3 343.1h1.0M141.6 336.9h1.0M150.0 311.4h1.0M131.8 338.0h1.0M153.9 354.1h1.0M151.1 337.6h1.0M131.0 316.8h1.0M155.7 328.9h1.0M156.2 348.4h1.0M148.1 331.2h1.0M133.8 337.5h1.0M138.7 338.3h1.0M132.0 327.4h1.0M137.2 337.7h1.0M151.6 332.8h1.0M154.0 336.5h1.0M147.8 311.5h1.0M137.2 316.1h1.0M135.6 363.6h1.0M139.3 332.3h1.0M136.7 325.2h1.0M153.9 334.0h1.0M136.6 306.7h1.0M151.4 312.4h1.0M146.1 318.4h1.0M145.7 318.0h1.0M149.7 328.4h1.0M153.6 334.2h1.0M152.1 342.3h1.0M142.2 332.6h1.0M151.2 333.0h1.0M152.9 304.6h1.0" stroke="#1a1a3a" stroke-width="1.0" fill="none"/>
<path d="M128.9 337.0h1.0M145.8 332.6h1.0M132.4 300.2h1.0M152.9 325.2h1.0M135.2 296.3h1.0M160.1 328.2h1.0M155.3 361.4h1.0M137.2 328.2h1.0M129.3 313.0h1.0M137.1 336.4h1.0M130.2 354.6h1.0M157.1 308.8h1.0M159.7 325.9h1.0M129.8 371.9h1.0M133.8 351.2h1.0M141.3 376.3h1.0M143.2 315.8h1.0M147.4 324.0h1.0M152.0 348.8h1.0M130.8 343.2h1.0M148.2 316.9h1.0M138.4 346.4h1.0M138.3 324.2h1.0M133.1 310.0h1.0M135.0 310.1h1.0M150.8 378.9h1.0M158.1 322.0h1.0M138.7 287.8h1.0M145.8 322.9h1.0M157.0 365.2h1.0M158.1 349.4h1.0M142.7 363.3h1.0M151.2 330.5h1.0M143.1 331.0h1.0M136.3 287.0h1.0M134.5 377.9h1.0M131.3 337.3h1.0M130.5 335.0h1.0" stroke="#333" stroke-width="1.0" fill="none"/>
<path d="M41.4 351.4h1.0M46.3 330.6h1.0M44.9 344.9h1.0M46.9 375.7h1.0M42.6 339.4h1.0M45.2 370.4h1.0M43.0 341.3h1.0M39.5 356.9h1.0M43.9 352.6h1.0M41.3 351.0h1.0M42.7 322.4h1.0M49.0 325.0h1.0M44.2 348.1h1.0M45.9 367.0h1.0M44.8 342.8h1.0M42.1 355.8h1.0M47.3 342.4h1.0M48.7 336.5h1.0M41.2 355.2h1.0M42.5 342.6h1.0M44.7 368.7h1.0M44.3 323.4h1.0M43.1 353.3h1.0M43.8 353.4h1.0M45.1 334.4h1.0M45.4 341.2h1.0M45.1 347.1h1.0M40.9 340.6h1.0M46.7 306.8h1.0M48.8 345.5h1.0M47.9 357.6h1.0M45.7 322.5h1.0M43.1 334.4h1.0M43.8 343.9h1.0M41.6 355.4h1.0" stroke="#a04848" stroke-width="1.0" fill="none"/>
<path d="M73.0 354.3h1.0M75.1 356.3h1.0M72.9 345.5h1.0M77.8 343.8h1.0M78.5 359.2h1.0M80.8 331.2h1.0M75.1 345.0h1.0M78.4 366.8h1.0M76.3 368.1h1.0M77.1 372.8h1.0M80.1 351.6h1.0M77.1 350.1h1.0M74.2 375.7h1.0M78.4 344.0h1.0M73.3 338.5h1.0M78.1 353.2h1.0M74.8 341.9h1.0M76.3 347.5h1.0M80.2 355.0h1.0M82.2 342.2h1.0M81.5 363.3h1.0M74.7 362.7h1.0M79.6 355.2h1.0M75.0 329.2h1.0M74.6 341.7h1.0M73.3 361.4h1.0M74.2 360.2h1.0M80.5 346.2h1.0M78.9 364.8h1.0M78.7 335.8h1.0M75.2 349.7h1.0M76.0 308.1h1.0M82.6 359.0h1.0M75.0 363.9h1.0" stroke="#5a7a10" stroke-width="1.0" fill="none"/>
<path d="M113.3 322.2h1.0M115.0 341.7h1.0M110.7 338.3h1.0M108.3 339.7h1.0M105.5 340.0h1.0M110.1 339.7h1.0M106.1 343.8h1.0M113.4 343.4h1.0M114.7 356.1h1.0M105.5 359.0h1.0M105.6 381.2h1.0M106.8 326.9h1.0M105.8 362.3h1.0M115.1 344.5h1.0M110.0 340.7h1.0M111.7 368.6h1.0M108.8 368.8h1.0M114.8 346.5h1.0M112.0 359.0h1.0M114.3 348.1h1.0M111.5 361.7h1.0M113.3 346.4h1.0M109.9 331.8h1.0M110.0 313.9h1.0M107.1 375.3h1.0M107.2 350.0h1.0M110.2 349.6h1.0M106.5 346.3h1.0M115.8 341.4h1.0M112.3 331.0h1.0M111.1 351.1h1.0M105.0 322.5h1.0M114.7 371.3h1.0M116.6 336.6h1.0M109.6 326.0h1.0M110.3 344.3h1.0M111.5 338.7h1.0M114.1 363.2h1.0M111.3 331.1h1.0M106.2 363.2h1.0M114.3 354.5h1.0M113.1 338.7h1.0M115.5 331.7h1.0M115.2 329.5h1.0M111.4 358.2h1.0" stroke="#2a8a90" stroke-width="1.0" fill="none"/>
<line x1="44.4" y1="305.36" x2="44.4" y2="384.25" stroke="#333" stroke-width="0.9" />
<line x1="77.75" y1="308.79" x2="77.75" y2="380.82" stroke="#333" stroke-width="0.9" />
<line x1="111" y1="287.18" x2="111" y2="380.13" stroke="#333" stroke-width="0.9" />
<rect x="175.4" y="314" width="9.8" height="10.35" fill="#f17a70" stroke="#333" stroke-width="0.8" />
<text x="190.8" y="322.1" font-size="7.9" font-weight="bold" fill="#222" >4</text>
<rect x="175.4" y="325.15" width="9.8" height="10.35" fill="#80b030" stroke="#333" stroke-width="0.8" />
<text x="190.8" y="333.25" font-size="7.9" font-weight="bold" fill="#222" >6</text>
<rect x="175.4" y="336.3" width="9.8" height="10.35" fill="#3fbcc8" stroke="#333" stroke-width="0.8" />
<text x="190.8" y="344.4" font-size="7.9" font-weight="bold" fill="#222" >7</text>
<rect x="175.4" y="347.45" width="9.8" height="10.35" fill="#b48ad6" stroke="#333" stroke-width="0.8" />
<text x="190.8" y="355.55" font-size="7.9" font-weight="bold" fill="#222" >13</text>
<line x1="282.8" y1="242.6" x2="282.8" y2="364.2" stroke="#151515" stroke-width="1.6" />
<line x1="278.1" y1="363.4" x2="282.8" y2="363.4" stroke="#151515" stroke-width="1.3" />
<text x="276.6" y="366.3" font-size="8.9" text-anchor="end" >0</text>
<line x1="278.1" y1="333.3" x2="282.8" y2="333.3" stroke="#151515" stroke-width="1.3" />
<text x="276.6" y="336.2" font-size="8.9" text-anchor="end" >2</text>
<line x1="278.1" y1="303.2" x2="282.8" y2="303.2" stroke="#151515" stroke-width="1.3" />
<text x="276.6" y="306.1" font-size="8.9" text-anchor="end" >4</text>
<line x1="278.1" y1="273.1" x2="282.8" y2="273.1" stroke="#151515" stroke-width="1.3" />
<text x="276.6" y="276" font-size="8.9" text-anchor="end" >6</text>
<line x1="278.1" y1="243" x2="282.8" y2="243" stroke="#151515" stroke-width="1.3" />
<text x="276.6" y="245.9" font-size="8.9" text-anchor="end" >8</text>
<line x1="278.2" y1="363.4" x2="409.5" y2="363.4" stroke="#151515" stroke-width="1.6" />
<rect x="290.45" y="317.5" width="11.3" height="45.9" fill="#3155a8" stroke="#151515" stroke-width="1.5" />
<line x1="296.1" y1="312.23" x2="296.1" y2="317.5" stroke="#333" stroke-width="1" />
<line x1="293.7" y1="312.23" x2="298.5" y2="312.23" stroke="#333" stroke-width="1" />
<line x1="293.7" y1="317.5" x2="298.5" y2="317.5" stroke="#333" stroke-width="1" />
<rect x="310.45" y="306.96" width="11.3" height="56.44" fill="url(#pb)" stroke="#151515" stroke-width="1.5" />
<line x1="316.1" y1="297.18" x2="316.1" y2="306.96" stroke="#333" stroke-width="1" />
<line x1="313.7" y1="297.18" x2="318.5" y2="297.18" stroke="#333" stroke-width="1" />
<line x1="313.7" y1="306.96" x2="318.5" y2="306.96" stroke="#333" stroke-width="1" />
<rect x="330.75" y="303.2" width="11.3" height="60.2" fill="#ea2329" stroke="#151515" stroke-width="1.5" />
<line x1="336.4" y1="292.06" x2="336.4" y2="303.2" stroke="#333" stroke-width="1" />
<line x1="334" y1="292.06" x2="338.8" y2="292.06" stroke="#333" stroke-width="1" />
<line x1="334" y1="303.2" x2="338.8" y2="303.2" stroke="#333" stroke-width="1" />
<rect x="350.55" y="273.85" width="11.4" height="89.55" fill="url(#pr)" stroke="#151515" stroke-width="1.5" />
<line x1="356.25" y1="264.82" x2="356.25" y2="273.85" stroke="#333" stroke-width="1" />
<line x1="353.85" y1="264.82" x2="358.65" y2="264.82" stroke="#333" stroke-width="1" />
<line x1="353.85" y1="273.85" x2="358.65" y2="273.85" stroke="#333" stroke-width="1" />
<rect x="370.95" y="335.11" width="11" height="28.29" fill="url(#nb)" stroke="#151515" stroke-width="1.5" />
<rect x="390.45" y="331.49" width="11" height="31.91" fill="url(#nr)" stroke="#151515" stroke-width="1.5" />
<circle cx="292" cy="313.9" r="2" fill="#fff" stroke="#151515" stroke-width="1.15"/>
<circle cx="296" cy="313.9" r="2" fill="#fff" stroke="#151515" stroke-width="1.15"/>
<circle cx="300.3" cy="308.75" r="2" fill="#fff" stroke="#151515" stroke-width="1.15"/>
<circle cx="292" cy="318.6" r="2" fill="#fff" stroke="#151515" stroke-width="1.15"/>
<circle cx="296.25" cy="319" r="2" fill="#fff" stroke="#151515" stroke-width="1.15"/>
<circle cx="300.3" cy="318" r="2" fill="#fff" stroke="#151515" stroke-width="1.15"/>
<circle cx="292" cy="325.6" r="2" fill="#fff" stroke="#151515" stroke-width="1.15"/>
<circle cx="300.3" cy="323.3" r="2" fill="#fff" stroke="#151515" stroke-width="1.15"/>
<circle cx="296" cy="322.2" r="2" fill="#fff" stroke="#151515" stroke-width="1.15"/>
<circle cx="316.25" cy="286.6" r="2" fill="#fff" stroke="#151515" stroke-width="1.15"/>
<circle cx="311.9" cy="307.7" r="2" fill="#fff" stroke="#151515" stroke-width="1.15"/>
<circle cx="317.8" cy="304.5" r="2" fill="#fff" stroke="#151515" stroke-width="1.15"/>
<circle cx="320.6" cy="306.6" r="2" fill="#fff" stroke="#151515" stroke-width="1.15"/>
<circle cx="314.7" cy="310.3" r="2" fill="#fff" stroke="#151515" stroke-width="1.15"/>
<circle cx="316.25" cy="317" r="2" fill="#fff" stroke="#151515" stroke-width="1.15"/>
<circle cx="316.25" cy="322.5" r="2" fill="#fff" stroke="#151515" stroke-width="1.15"/>
<circle cx="313" cy="313.1" r="2" fill="#fff" stroke="#151515" stroke-width="1.15"/>
<circle cx="336.25" cy="284.5" r="2" fill="#fff" stroke="#151515" stroke-width="1.15"/>
<circle cx="331.9" cy="294.4" r="2" fill="#fff" stroke="#151515" stroke-width="1.15"/>
<circle cx="340.5" cy="297" r="2" fill="#fff" stroke="#151515" stroke-width="1.15"/>
<circle cx="331.9" cy="300.3" r="2" fill="#fff" stroke="#151515" stroke-width="1.15"/>
<circle cx="331.9" cy="309.2" r="2" fill="#fff" stroke="#151515" stroke-width="1.15"/>
<circle cx="340.5" cy="307.7" r="2" fill="#fff" stroke="#151515" stroke-width="1.15"/>
<circle cx="331.9" cy="317.5" r="2" fill="#fff" stroke="#151515" stroke-width="1.15"/>
<circle cx="339.7" cy="314.7" r="2" fill="#fff" stroke="#151515" stroke-width="1.15"/>
<circle cx="351.9" cy="261.25" r="2" fill="#fff" stroke="#151515" stroke-width="1.15"/>
<circle cx="360.3" cy="262.8" r="2" fill="#fff" stroke="#151515" stroke-width="1.15"/>
<circle cx="351.9" cy="266.6" r="2" fill="#fff" stroke="#151515" stroke-width="1.15"/>
<circle cx="360.3" cy="269" r="2" fill="#fff" stroke="#151515" stroke-width="1.15"/>
<circle cx="352.2" cy="277.5" r="2" fill="#fff" stroke="#151515" stroke-width="1.15"/>
<circle cx="360" cy="281.9" r="2" fill="#fff" stroke="#151515" stroke-width="1.15"/>
<circle cx="352.2" cy="285" r="2" fill="#fff" stroke="#151515" stroke-width="1.15"/>
<circle cx="356" cy="280" r="2" fill="#fff" stroke="#151515" stroke-width="1.15"/>
<circle cx="372.5" cy="334.7" r="2" fill="#fff" stroke="#151515" stroke-width="1.15"/>
<circle cx="374.8" cy="333.1" r="2" fill="#fff" stroke="#151515" stroke-width="1.15"/>
<circle cx="378.4" cy="334.7" r="2" fill="#fff" stroke="#151515" stroke-width="1.15"/>
<circle cx="376.4" cy="336.6" r="2" fill="#fff" stroke="#151515" stroke-width="1.15"/>
<circle cx="380.2" cy="333.5" r="2" fill="#fff" stroke="#151515" stroke-width="1.15"/>
<circle cx="392" cy="333.1" r="2" fill="#fff" stroke="#151515" stroke-width="1.15"/>
<circle cx="395.2" cy="328.75" r="2" fill="#fff" stroke="#151515" stroke-width="1.15"/>
<circle cx="400.3" cy="330" r="2" fill="#fff" stroke="#151515" stroke-width="1.15"/>
<circle cx="397.5" cy="333.1" r="2" fill="#fff" stroke="#151515" stroke-width="1.15"/>
<line x1="295.5" y1="246.9" x2="333" y2="246.9" stroke="#151515" stroke-width="1.8" />
<line x1="338" y1="246.9" x2="357" y2="246.9" stroke="#151515" stroke-width="1.8" />
<text x="315" y="247.5" font-size="19" text-anchor="middle" font-weight="bold" >*</text>
<text x="347.5" y="247.5" font-size="19" text-anchor="middle" font-weight="bold" >****</text>
<text x="250.3" y="302.3" font-size="10" text-anchor="middle" transform="rotate(-90 250.3 302.3)" >MitoSox (MFI)</text>
<text x="323.5" y="216.8" font-size="13.8" text-anchor="middle" >T<tspan font-size="0.62em" dy="3">H</tspan><tspan dy="-3">1 cells</tspan></text>
<rect x="217.5" y="424.4" width="23.7" height="10" fill="#07070f" />
<rect x="220.1" y="427" width="18.5" height="4.8" fill="#3155a8" />
<text x="252.3" y="434" font-size="13" >37°C vehicle</text>
<rect x="217.5" y="449.1" width="23.7" height="10" fill="#07070f" />
<rect x="220.1" y="451.7" width="18.5" height="4.8" fill="url(#pbL)" />
<text x="252.3" y="458.7" font-size="13" >37°C 100 nM MitoQ</text>
<rect x="217.5" y="472.1" width="23.7" height="10" fill="#07070f" />
<rect x="220.1" y="474.7" width="18.5" height="4.8" fill="url(#nbL)" />
<text x="252.3" y="481.7" font-size="13" >37°C 10 mM NAC</text>
<rect x="371.5" y="424.4" width="23.7" height="10" fill="#07070f" />
<rect x="374.1" y="427" width="18.5" height="4.8" fill="#ea2329" />
<text x="404.8" y="434" font-size="13" >39°C vehicle</text>
<rect x="371.5" y="449.1" width="23.7" height="10" fill="#07070f" />
<rect x="374.1" y="451.7" width="18.5" height="4.8" fill="url(#prL)" />
<text x="404.8" y="458.7" font-size="13" >39°C 100 nM MitoQ</text>
<rect x="371.5" y="472.1" width="23.7" height="10" fill="#07070f" />
<rect x="374.1" y="474.7" width="18.5" height="4.8" fill="url(#nrL)" />
<text x="404.8" y="481.7" font-size="13" >39°C 10 mM NAC</text>
<line x1="512" y1="244.6" x2="512" y2="363.8" stroke="#151515" stroke-width="1.6" />
<line x1="507.5" y1="363" x2="512" y2="363" stroke="#151515" stroke-width="1.3" />
<text x="506" y="365.9" font-size="8.7" text-anchor="end" >0</text>
<line x1="507.5" y1="339.4" x2="512" y2="339.4" stroke="#151515" stroke-width="1.3" />
<text x="506" y="342.3" font-size="8.7" text-anchor="end" >20</text>
<line x1="507.5" y1="315.8" x2="512" y2="315.8" stroke="#151515" stroke-width="1.3" />
<text x="506" y="318.7" font-size="8.7" text-anchor="end" >40</text>
<line x1="507.5" y1="292.2" x2="512" y2="292.2" stroke="#151515" stroke-width="1.3" />
<text x="506" y="295.1" font-size="8.7" text-anchor="end" >60</text>
<line x1="507.5" y1="268.6" x2="512" y2="268.6" stroke="#151515" stroke-width="1.3" />
<text x="506" y="271.5" font-size="8.7" text-anchor="end" >80</text>
<line x1="507.5" y1="245" x2="512" y2="245" stroke="#151515" stroke-width="1.3" />
<text x="506" y="247.9" font-size="8.7" text-anchor="end" >100</text>
<line x1="512" y1="363" x2="629.5" y2="363" stroke="#151515" stroke-width="1.6" />
<line x1="539.5" y1="363" x2="539.5" y2="367.5" stroke="#151515" stroke-width="1.3" />
<line x1="602" y1="363" x2="602" y2="367.5" stroke="#151515" stroke-width="1.3" />
<rect x="521.25" y="285.12" width="13.5" height="77.88" fill="#3155a8" stroke="#151515" stroke-width="1.5" />
<rect x="544.55" y="310.49" width="13.1" height="52.51" fill="#ea2329" stroke="#151515" stroke-width="1.5" />
<rect x="583.75" y="263.88" width="13.1" height="99.12" fill="#3155a8" stroke="#151515" stroke-width="1.5" />
<rect x="606.75" y="268.6" width="13.5" height="94.4" fill="#ea2329" stroke="#151515" stroke-width="1.5" />
<circle cx="522.5" cy="285.5" r="2" fill="#fff" stroke="#151515" stroke-width="1.15"/>
<circle cx="526.3" cy="284" r="2" fill="#fff" stroke="#151515" stroke-width="1.15"/>
<circle cx="530" cy="285" r="2" fill="#fff" stroke="#151515" stroke-width="1.15"/>
<circle cx="533.8" cy="284.5" r="2" fill="#fff" stroke="#151515" stroke-width="1.15"/>
<circle cx="546.25" cy="311.25" r="2" fill="#fff" stroke="#151515" stroke-width="1.15"/>
<circle cx="550" cy="310" r="2" fill="#fff" stroke="#151515" stroke-width="1.15"/>
<circle cx="553.75" cy="310.5" r="2" fill="#fff" stroke="#151515" stroke-width="1.15"/>
<circle cx="557" cy="311.75" r="2" fill="#fff" stroke="#151515" stroke-width="1.15"/>
<circle cx="585.5" cy="264.5" r="2" fill="#fff" stroke="#151515" stroke-width="1.15"/>
<circle cx="589" cy="263" r="2" fill="#fff" stroke="#151515" stroke-width="1.15"/>
<circle cx="593" cy="264" r="2" fill="#fff" stroke="#151515" stroke-width="1.15"/>
<circle cx="596.5" cy="264.75" r="2" fill="#fff" stroke="#151515" stroke-width="1.15"/>
<circle cx="608.75" cy="272.5" r="2" fill="#fff" stroke="#151515" stroke-width="1.15"/>
<circle cx="612.5" cy="264.25" r="2" fill="#fff" stroke="#151515" stroke-width="1.15"/>
<circle cx="616.25" cy="269.5" r="2" fill="#fff" stroke="#151515" stroke-width="1.15"/>
<circle cx="618.75" cy="270" r="2" fill="#fff" stroke="#151515" stroke-width="1.15"/>
<line x1="524" y1="243.8" x2="545.5" y2="243.8" stroke="#151515" stroke-width="1.8" />
<text x="534.8" y="245.5" font-size="19" text-anchor="middle" font-weight="bold" >***</text>
<text x="485.1" y="305.6" font-size="9.69" text-anchor="middle" transform="rotate(-90 485.1 305.6)" >Viable cells as % of vehicle</text>
<text x="539.5" y="379.3" font-size="8.5" text-anchor="middle" >T<tspan font-size="0.6em" dy="2.0">H</tspan><tspan dy="-2.0">1</tspan></text>
<text x="601.8" y="379.3" font-size="8.5" text-anchor="middle" >T<tspan font-size="0.6em" dy="2.0">H</tspan><tspan dy="-2.0">17</tspan></text>
<rect x="659.5" y="282.2" width="23" height="9.4" fill="#07070f" />
<rect x="662.1" y="284.8" width="17.8" height="4.2" fill="#3155a8" />
<text x="693.2" y="291.6" font-size="13.2" >37°C + rotenone</text>
<rect x="659.5" y="305.6" width="23" height="9.4" fill="#07070f" />
<rect x="662.1" y="308.2" width="17.8" height="4.2" fill="#ea2329" />
<text x="693.2" y="315.3" font-size="13.2" >39°C + rotenone</text>
<line x1="41.5" y1="535.4" x2="41.5" y2="652.05" stroke="#151515" stroke-width="1.6" />
<line x1="37" y1="651.25" x2="41.5" y2="651.25" stroke="#151515" stroke-width="1.3" />
<text x="35.5" y="654.15" font-size="8.9" text-anchor="end" >0</text>
<line x1="37" y1="622.37" x2="41.5" y2="622.37" stroke="#151515" stroke-width="1.3" />
<text x="35.5" y="625.27" font-size="8.9" text-anchor="end" >2</text>
<line x1="37" y1="593.49" x2="41.5" y2="593.49" stroke="#151515" stroke-width="1.3" />
<text x="35.5" y="596.39" font-size="8.9" text-anchor="end" >4</text>
<line x1="37" y1="564.61" x2="41.5" y2="564.61" stroke="#151515" stroke-width="1.3" />
<text x="35.5" y="567.51" font-size="8.9" text-anchor="end" >6</text>
<line x1="37" y1="535.73" x2="41.5" y2="535.73" stroke="#151515" stroke-width="1.3" />
<text x="35.5" y="538.63" font-size="8.9" text-anchor="end" >8</text>
<line x1="37" y1="651.25" x2="232" y2="651.25" stroke="#151515" stroke-width="1.6" />
<line x1="87.5" y1="651.25" x2="87.5" y2="655.8" stroke="#151515" stroke-width="1.3" />
<line x1="186" y1="651.25" x2="186" y2="655.8" stroke="#151515" stroke-width="1.3" />
<rect x="49.75" y="623.81" width="11.5" height="27.44" fill="#3155a8" stroke="#151515" stroke-width="1.5" />
<rect x="71.25" y="571.83" width="11.2" height="79.42" fill="#ea2329" stroke="#151515" stroke-width="1.5" />
<rect x="91.75" y="603.6" width="11.5" height="47.65" fill="url(#pb)" stroke="#151515" stroke-width="1.5" />
<rect x="113.25" y="553.06" width="11.5" height="98.19" fill="url(#pr)" stroke="#151515" stroke-width="1.5" />
<rect x="148.15" y="641.86" width="12.3" height="9.39" fill="#3155a8" stroke="#151515" stroke-width="1.5" />
<rect x="169.55" y="625.26" width="11.8" height="25.99" fill="#ea2329" stroke="#151515" stroke-width="1.5" />
<rect x="190.75" y="637.1" width="11.3" height="14.15" fill="url(#pb)" stroke="#151515" stroke-width="1.5" />
<rect x="211.75" y="628.15" width="12" height="23.1" fill="url(#pr)" stroke="#151515" stroke-width="1.5" />
<circle cx="51.5" cy="623" r="2" fill="#fff" stroke="#151515" stroke-width="1.15"/>
<circle cx="55" cy="621.5" r="2" fill="#fff" stroke="#151515" stroke-width="1.15"/>
<circle cx="58.5" cy="621.5" r="2" fill="#fff" stroke="#151515" stroke-width="1.15"/>
<circle cx="61" cy="623" r="2" fill="#fff" stroke="#151515" stroke-width="1.15"/>
<circle cx="73" cy="569" r="2" fill="#fff" stroke="#151515" stroke-width="1.15"/>
<circle cx="77" cy="568" r="2" fill="#fff" stroke="#151515" stroke-width="1.15"/>
<circle cx="80.5" cy="569" r="2" fill="#fff" stroke="#151515" stroke-width="1.15"/>
<circle cx="74" cy="573" r="2" fill="#fff" stroke="#151515" stroke-width="1.15"/>
<circle cx="80" cy="572" r="2" fill="#fff" stroke="#151515" stroke-width="1.15"/>
<circle cx="93" cy="603.5" r="2" fill="#fff" stroke="#151515" stroke-width="1.15"/>
<circle cx="96.5" cy="602" r="2" fill="#fff" stroke="#151515" stroke-width="1.15"/>
<circle cx="100" cy="602.5" r="2" fill="#fff" stroke="#151515" stroke-width="1.15"/>
<circle cx="103" cy="604" r="2" fill="#fff" stroke="#151515" stroke-width="1.15"/>
<circle cx="114.5" cy="549" r="2" fill="#fff" stroke="#151515" stroke-width="1.15"/>
<circle cx="118.5" cy="550" r="2" fill="#fff" stroke="#151515" stroke-width="1.15"/>
<circle cx="122" cy="552" r="2" fill="#fff" stroke="#151515" stroke-width="1.15"/>
<circle cx="116" cy="556" r="2" fill="#fff" stroke="#151515" stroke-width="1.15"/>
<circle cx="121" cy="556" r="2" fill="#fff" stroke="#151515" stroke-width="1.15"/>
<circle cx="150" cy="641" r="2" fill="#fff" stroke="#151515" stroke-width="1.15"/>
<circle cx="154" cy="640" r="2" fill="#fff" stroke="#151515" stroke-width="1.15"/>
<circle cx="158" cy="641" r="2" fill="#fff" stroke="#151515" stroke-width="1.15"/>
<circle cx="171" cy="624" r="2" fill="#fff" stroke="#151515" stroke-width="1.15"/>
<circle cx="175" cy="622" r="2" fill="#fff" stroke="#151515" stroke-width="1.15"/>
<circle cx="179" cy="623.5" r="2" fill="#fff" stroke="#151515" stroke-width="1.15"/>
<circle cx="193" cy="637" r="2" fill="#fff" stroke="#151515" stroke-width="1.15"/>
<circle cx="196" cy="634.5" r="2" fill="#fff" stroke="#151515" stroke-width="1.15"/>
<circle cx="200" cy="636" r="2" fill="#fff" stroke="#151515" stroke-width="1.15"/>
<circle cx="213.5" cy="628" r="2" fill="#fff" stroke="#151515" stroke-width="1.15"/>
<circle cx="217" cy="626" r="2" fill="#fff" stroke="#151515" stroke-width="1.15"/>
<circle cx="221" cy="627.5" r="2" fill="#fff" stroke="#151515" stroke-width="1.15"/>
<line x1="55" y1="535.2" x2="75" y2="535.2" stroke="#151515" stroke-width="1.8" />
<line x1="79" y1="535.2" x2="119" y2="535.2" stroke="#151515" stroke-width="1.8" />
<line x1="154" y1="535.2" x2="175" y2="535.2" stroke="#151515" stroke-width="1.8" />
<text x="65" y="536.3" font-size="19" text-anchor="middle" font-weight="bold" >***</text>
<text x="99" y="536.3" font-size="19" text-anchor="middle" font-weight="bold" >**</text>
<text x="164.5" y="536.3" font-size="19" text-anchor="middle" font-weight="bold" >***</text>
<text x="22.65" y="593.4" font-size="9.33" text-anchor="middle" transform="rotate(-90 22.65 593.4)" >HSP70 MFI</text>
<text x="85" y="667" font-size="8.5" text-anchor="middle" >T<tspan font-size="0.6em" dy="2.0">H</tspan><tspan dy="-2.0">1</tspan></text>
<text x="184.5" y="667" font-size="8.5" text-anchor="middle" >T<tspan font-size="0.6em" dy="2.0">H</tspan><tspan dy="-2.0">17</tspan></text>
<rect x="13.3" y="684.8" width="24.2" height="10.4" fill="#07070f" />
<rect x="15.9" y="687.4" width="19" height="5.2" fill="#3155a8" />
<text x="47.3" y="694.6" font-size="13" >37°C + veh</text>
<rect x="126.7" y="684.8" width="24.2" height="10.4" fill="#07070f" />
<rect x="129.3" y="687.4" width="19" height="5.2" fill="url(#pbL)" />
<text x="161.7" y="694.6" font-size="13" >37°C + rotenone</text>
<rect x="13.3" y="712.1" width="24.2" height="10.4" fill="#07070f" />
<rect x="15.9" y="714.7" width="19" height="5.2" fill="#ea2329" />
<text x="47.3" y="721.9" font-size="13" >39°C + veh</text>
<rect x="126.7" y="712.1" width="24.2" height="10.4" fill="#07070f" />
<rect x="129.3" y="714.7" width="19" height="5.2" fill="url(#prL)" />
<text x="161.7" y="721.9" font-size="13" >39°C + rotenone</text>
<line x1="331.5" y1="531.6" x2="331.5" y2="650.3" stroke="#151515" stroke-width="1.6" />
<line x1="326.8" y1="649.5" x2="331.5" y2="649.5" stroke="#151515" stroke-width="1.3" />
<text x="325.3" y="652.4" font-size="8.8" text-anchor="end" >0</text>
<line x1="326.8" y1="626" x2="331.5" y2="626" stroke="#151515" stroke-width="1.3" />
<text x="325.3" y="628.9" font-size="8.8" text-anchor="end" >20</text>
<line x1="326.8" y1="602.5" x2="331.5" y2="602.5" stroke="#151515" stroke-width="1.3" />
<text x="325.3" y="605.4" font-size="8.8" text-anchor="end" >40</text>
<line x1="326.8" y1="579" x2="331.5" y2="579" stroke="#151515" stroke-width="1.3" />
<text x="325.3" y="581.9" font-size="8.8" text-anchor="end" >60</text>
<line x1="326.8" y1="555.5" x2="331.5" y2="555.5" stroke="#151515" stroke-width="1.3" />
<text x="325.3" y="558.4" font-size="8.8" text-anchor="end" >80</text>
<line x1="326.8" y1="532" x2="331.5" y2="532" stroke="#151515" stroke-width="1.3" />
<text x="325.3" y="534.9" font-size="8.8" text-anchor="end" >100</text>
<line x1="326.8" y1="649.5" x2="447" y2="649.5" stroke="#151515" stroke-width="1.6" />
<line x1="358" y1="649.5" x2="358" y2="654" stroke="#151515" stroke-width="1.3" />
<line x1="420" y1="649.5" x2="420" y2="654" stroke="#151515" stroke-width="1.3" />
<rect x="340.25" y="574.3" width="12.8" height="75.2" fill="#3155a8" stroke="#151515" stroke-width="1.5" />
<line x1="346.65" y1="560.79" x2="346.65" y2="587.81" stroke="#333" stroke-width="1" />
<line x1="344.25" y1="560.79" x2="349.05" y2="560.79" stroke="#333" stroke-width="1" />
<line x1="344.25" y1="587.81" x2="349.05" y2="587.81" stroke="#333" stroke-width="1" />
<rect x="363.25" y="594.86" width="12.6" height="54.64" fill="#ea2329" stroke="#151515" stroke-width="1.5" />
<line x1="369.55" y1="593.69" x2="369.55" y2="596.04" stroke="#333" stroke-width="1" />
<line x1="367.15" y1="593.69" x2="371.95" y2="593.69" stroke="#333" stroke-width="1" />
<line x1="367.15" y1="596.04" x2="371.95" y2="596.04" stroke="#333" stroke-width="1" />
<rect x="401.55" y="595.45" width="12.7" height="54.05" fill="#3155a8" stroke="#151515" stroke-width="1.5" />
<line x1="407.9" y1="594.27" x2="407.9" y2="596.62" stroke="#333" stroke-width="1" />
<line x1="405.5" y1="594.27" x2="410.3" y2="594.27" stroke="#333" stroke-width="1" />
<line x1="405.5" y1="596.62" x2="410.3" y2="596.62" stroke="#333" stroke-width="1" />
<rect x="424.95" y="601.91" width="12.6" height="47.59" fill="#ea2329" stroke="#151515" stroke-width="1.5" />
<line x1="431.25" y1="595.45" x2="431.25" y2="608.38" stroke="#333" stroke-width="1" />
<line x1="428.85" y1="595.45" x2="433.65" y2="595.45" stroke="#333" stroke-width="1" />
<line x1="428.85" y1="608.38" x2="433.65" y2="608.38" stroke="#333" stroke-width="1" />
<circle cx="346.25" cy="562" r="2" fill="#fff" stroke="#151515" stroke-width="1.15"/>
<circle cx="346.25" cy="570.75" r="2" fill="#fff" stroke="#151515" stroke-width="1.15"/>
<circle cx="346.25" cy="588.25" r="2" fill="#fff" stroke="#151515" stroke-width="1.15"/>
<circle cx="365" cy="595" r="2" fill="#fff" stroke="#151515" stroke-width="1.15"/>
<circle cx="370" cy="593.75" r="2" fill="#fff" stroke="#151515" stroke-width="1.15"/>
<circle cx="374.5" cy="594.25" r="2" fill="#fff" stroke="#151515" stroke-width="1.15"/>
<circle cx="403.75" cy="595.5" r="2" fill="#fff" stroke="#151515" stroke-width="1.15"/>
<circle cx="408" cy="594.25" r="2" fill="#fff" stroke="#151515" stroke-width="1.15"/>
<circle cx="412.5" cy="595" r="2" fill="#fff" stroke="#151515" stroke-width="1.15"/>
<circle cx="426.75" cy="602" r="2" fill="#fff" stroke="#151515" stroke-width="1.15"/>
<circle cx="432" cy="595.5" r="2" fill="#fff" stroke="#151515" stroke-width="1.15"/>
<circle cx="436.25" cy="602.5" r="2" fill="#fff" stroke="#151515" stroke-width="1.15"/>
<line x1="346" y1="546.3" x2="370" y2="546.3" stroke="#151515" stroke-width="1.8" />
<line x1="407" y1="546.3" x2="432" y2="546.3" stroke="#151515" stroke-width="1.8" />
<text x="358.8" y="547.5" font-size="19" text-anchor="middle" font-weight="bold" >*</text>
<text x="419.5" y="541.2" font-size="9.6" text-anchor="middle" >ns</text>
<text x="304.6" y="591.3" font-size="9.79" text-anchor="middle" transform="rotate(-90 304.6 591.3)" >Viable cells as % of vehicle</text>
<text x="358" y="665" font-size="8.5" text-anchor="middle" >T<tspan font-size="0.6em" dy="2.0">H</tspan><tspan dy="-2.0">1</tspan></text>
<text x="418.5" y="665" font-size="8.5" text-anchor="middle" >T<tspan font-size="0.6em" dy="2.0">H</tspan><tspan dy="-2.0">17</tspan></text>
<rect x="328.6" y="684.6" width="24.4" height="9.8" fill="#07070f" />
<rect x="331.2" y="687.2" width="19.2" height="4.6" fill="#3155a8" />
<text x="363" y="694.5" font-size="13" >37°C + TTFA</text>
<rect x="328.6" y="707.8" width="24.4" height="9.8" fill="#07070f" />
<rect x="331.2" y="710.4" width="19.2" height="4.6" fill="#ea2329" />
<text x="363" y="717.5" font-size="13" >39°C + TTFA</text>
<line x1="28.1" y1="817.3" x2="28.1" y2="980.6" stroke="#555" stroke-width="1.4" />
<line x1="25.1" y1="980" x2="190.1" y2="980" stroke="#111" stroke-width="1.5" />
<line x1="25.6" y1="980" x2="28.1" y2="980" stroke="#222" stroke-width="1" />
<text x="24.6" y="982.2" font-size="6.2" text-anchor="end" font-weight="bold" fill="#333" >0</text>
<line x1="25.6" y1="939.55" x2="28.1" y2="939.55" stroke="#222" stroke-width="1" />
<text x="24.6" y="941.75" font-size="6.2" text-anchor="end" font-weight="bold" fill="#333" >1</text>
<line x1="25.6" y1="899.1" x2="28.1" y2="899.1" stroke="#222" stroke-width="1" />
<text x="24.6" y="901.3" font-size="6.2" text-anchor="end" font-weight="bold" fill="#333" >2</text>
<line x1="25.6" y1="858.65" x2="28.1" y2="858.65" stroke="#222" stroke-width="1" />
<text x="24.6" y="860.85" font-size="6.2" text-anchor="end" font-weight="bold" fill="#333" >3</text>
<line x1="25.6" y1="818.2" x2="28.1" y2="818.2" stroke="#222" stroke-width="1" />
<text x="24.6" y="820.4" font-size="6.2" text-anchor="end" font-weight="bold" fill="#333" >4</text>
<line x1="28.1" y1="980" x2="28.1" y2="982.5" stroke="#222" stroke-width="1" />
<text x="28.1" y="989.5" font-size="6.2" text-anchor="middle" font-weight="bold" fill="#333" >−2.0</text>
<line x1="60.5" y1="980" x2="60.5" y2="982.5" stroke="#222" stroke-width="1" />
<text x="60.5" y="989.5" font-size="6.2" text-anchor="middle" font-weight="bold" fill="#333" >−1.5</text>
<line x1="92.9" y1="980" x2="92.9" y2="982.5" stroke="#222" stroke-width="1" />
<text x="92.9" y="989.5" font-size="6.2" text-anchor="middle" font-weight="bold" fill="#333" >−1.0</text>
<line x1="125.3" y1="980" x2="125.3" y2="982.5" stroke="#222" stroke-width="1" />
<text x="125.3" y="989.5" font-size="6.2" text-anchor="middle" font-weight="bold" fill="#333" >−0.5</text>
<line x1="157.7" y1="980" x2="157.7" y2="982.5" stroke="#222" stroke-width="1" />
<text x="157.7" y="989.5" font-size="6.2" text-anchor="middle" font-weight="bold" fill="#333" >0.0</text>
<line x1="190.1" y1="980" x2="190.1" y2="982.5" stroke="#222" stroke-width="1" />
<text x="190.1" y="989.5" font-size="6.2" text-anchor="middle" font-weight="bold" fill="#333" >0.5</text>
<line x1="157.7" y1="817.7" x2="157.7" y2="980" stroke="#333" stroke-width="1" />
<line x1="28.1" y1="939.4" x2="190.1" y2="939.4" stroke="#a0a0a0" stroke-width="0.9" />
<text x="108.1" y="1004.2" font-size="12.2" text-anchor="middle" fill="#222" >Log<tspan font-size="0.65em" dy="3">2</tspan><tspan dy="-3">FC</tspan></text>
<text x="13.5" y="897" font-size="10.9" text-anchor="middle" fill="#222" transform="rotate(-90 13.5 897)" >−Log<tspan font-size="0.6em" dy="3">10</tspan><tspan dy="-3"> (</tspan><tspan font-style="italic">P</tspan> value)</text>
<text x="107.1" y="806" font-size="12" text-anchor="middle" fill="#222" >T<tspan font-size="0.6em" dy="2.0">H</tspan><tspan dy="-2.0">1</tspan> - 39°C</text>
<circle cx="85.22" cy="944.35" r="1.75" fill="#111"/>
<circle cx="95.65" cy="942.9" r="1.75" fill="#111"/>
<circle cx="97.97" cy="944.35" r="1.75" fill="#111"/>
<circle cx="115.94" cy="956.81" r="1.75" fill="#111"/>
<circle cx="126.67" cy="959.71" r="1.75" fill="#111"/>
<circle cx="130.43" cy="968.99" r="1.75" fill="#111"/>
<circle cx="133.33" cy="971.88" r="1.75" fill="#111"/>
<circle cx="136.23" cy="976.23" r="1.75" fill="#111"/>
<circle cx="139.13" cy="976.23" r="1.75" fill="#111"/>
<circle cx="142.03" cy="977.1" r="1.75" fill="#111"/>
<circle cx="144.93" cy="975.36" r="1.75" fill="#111"/>
<circle cx="146.38" cy="977.68" r="1.75" fill="#111"/>
<circle cx="147.83" cy="976.23" r="1.75" fill="#111"/>
<circle cx="150.72" cy="978.26" r="1.75" fill="#111"/>
<circle cx="152.17" cy="978.55" r="1.75" fill="#111"/>
<circle cx="155.07" cy="978.55" r="1.75" fill="#111"/>
<circle cx="133.33" cy="977.1" r="1.75" fill="#111"/>
<circle cx="137.68" cy="977.68" r="1.75" fill="#111"/>
<circle cx="143.48" cy="978.26" r="1.75" fill="#111"/>
<circle cx="149.28" cy="979.13" r="1.75" fill="#111"/>
<circle cx="156.52" cy="979.42" r="1.75" fill="#111"/>
<circle cx="128.99" cy="970.43" r="1.75" fill="#111"/>
<circle cx="165.22" cy="824.64" r="1.75" fill="#c7283e"/>
<circle cx="59.42" cy="884.06" r="1.75" fill="#c7283e"/>
<circle cx="37.68" cy="893.62" r="1.75" fill="#c7283e"/>
<circle cx="73.91" cy="881.16" r="1.75" fill="#c7283e"/>
<circle cx="70.43" cy="891.3" r="1.75" fill="#c7283e"/>
<circle cx="76.81" cy="898.84" r="1.75" fill="#c7283e"/>
<circle cx="88.41" cy="908.99" r="1.75" fill="#c7283e"/>
<circle cx="99.13" cy="902.32" r="1.75" fill="#c7283e"/>
<circle cx="101.45" cy="901.45" r="1.75" fill="#c7283e"/>
<circle cx="97.97" cy="917.39" r="1.75" fill="#c7283e"/>
<circle cx="95.07" cy="924.06" r="1.75" fill="#c7283e"/>
<circle cx="96.52" cy="924.93" r="1.75" fill="#c7283e"/>
<circle cx="107.83" cy="925.51" r="1.75" fill="#c7283e"/>
<circle cx="116.81" cy="924.64" r="1.75" fill="#c7283e"/>
<circle cx="89.28" cy="931.3" r="1.75" fill="#c7283e"/>
<circle cx="89.28" cy="938.84" r="1.75" fill="#c7283e"/>
<circle cx="79.71" cy="937.97" r="1.75" fill="#c7283e"/>
<circle cx="95.65" cy="935.94" r="1.75" fill="#c7283e"/>
<circle cx="107.25" cy="946.38" r="1.75" fill="#c7283e"/>
<circle cx="113.04" cy="952.46" r="1.75" fill="#c7283e"/>
<circle cx="117.39" cy="953.91" r="1.75" fill="#c7283e"/>
<circle cx="118.84" cy="955.94" r="1.75" fill="#c7283e"/>
<circle cx="121.74" cy="964.64" r="1.75" fill="#c7283e"/>
<circle cx="124.64" cy="967.54" r="1.75" fill="#c7283e"/>
<circle cx="127.54" cy="968.99" r="1.75" fill="#c7283e"/>
<circle cx="149.57" cy="963.19" r="1.75" fill="#c7283e"/>
<circle cx="125.22" cy="957.39" r="1.75" fill="#c7283e"/>
<circle cx="160.29" cy="833.33" r="1.5" fill="#3a7a58"/>
<circle cx="162.9" cy="846.67" r="1.5" fill="#3a7a58"/>
<circle cx="158.26" cy="894.49" r="1.5" fill="#3a8a78"/>
<circle cx="159.13" cy="911.88" r="1.5" fill="#2a8a80"/>
<circle cx="160" cy="917.97" r="1.5" fill="#2a8a80"/>
<circle cx="158.84" cy="931.3" r="1.5" fill="#2a8a80"/>
<circle cx="124.64" cy="929.28" r="1.5" fill="#3a6a9a"/>
<text x="168.7" y="827.6" font-size="7.7" font-style="italic" stroke="#1a1a1a" stroke-width="0.2">Ndufs4</text>
<text x="164.6" y="836.8" font-size="7.7" font-style="italic" stroke="#1a1a1a" stroke-width="0.2">Cox7b2</text>
<text x="31" y="889" font-size="7.7" font-style="italic" stroke="#1a1a1a" stroke-width="0.2">Ndufa6</text>
<text x="31" y="904" font-size="7.7" font-style="italic" stroke="#1a1a1a" stroke-width="0.2">Ndufa2</text>
<text x="78.3" y="883.8" font-size="7.7" font-style="italic" stroke="#1a1a1a" stroke-width="0.2">Ndufab1</text>
<text x="61.7" y="913.6" font-size="7.7" font-style="italic" stroke="#1a1a1a" stroke-width="0.2">Ndufc1</text>
<text x="165.2" y="921.4" font-size="7.7" font-style="italic" stroke="#1a1a1a" stroke-width="0.2">Uqcrh</text>
<text x="163.8" y="934.8" font-size="7.7" font-style="italic" stroke="#1a1a1a" stroke-width="0.2">Atp5e</text>
<line x1="239.1" y1="817.3" x2="239.1" y2="980.6" stroke="#555" stroke-width="1.4" />
<line x1="236.1" y1="980" x2="401.1" y2="980" stroke="#111" stroke-width="1.5" />
<line x1="236.6" y1="980" x2="239.1" y2="980" stroke="#222" stroke-width="1" />
<text x="235.6" y="982.2" font-size="6.2" text-anchor="end" font-weight="bold" fill="#333" >0</text>
<line x1="236.6" y1="939.55" x2="239.1" y2="939.55" stroke="#222" stroke-width="1" />
<text x="235.6" y="941.75" font-size="6.2" text-anchor="end" font-weight="bold" fill="#333" >1</text>
<line x1="236.6" y1="899.1" x2="239.1" y2="899.1" stroke="#222" stroke-width="1" />
<text x="235.6" y="901.3" font-size="6.2" text-anchor="end" font-weight="bold" fill="#333" >2</text>
<line x1="236.6" y1="858.65" x2="239.1" y2="858.65" stroke="#222" stroke-width="1" />
<text x="235.6" y="860.85" font-size="6.2" text-anchor="end" font-weight="bold" fill="#333" >3</text>
<line x1="236.6" y1="818.2" x2="239.1" y2="818.2" stroke="#222" stroke-width="1" />
<text x="235.6" y="820.4" font-size="6.2" text-anchor="end" font-weight="bold" fill="#333" >4</text>
<line x1="239.1" y1="980" x2="239.1" y2="982.5" stroke="#222" stroke-width="1" />
<text x="239.1" y="989.5" font-size="6.2" text-anchor="middle" font-weight="bold" fill="#333" >−2.0</text>
<line x1="271.5" y1="980" x2="271.5" y2="982.5" stroke="#222" stroke-width="1" />
<text x="271.5" y="989.5" font-size="6.2" text-anchor="middle" font-weight="bold" fill="#333" >−1.5</text>
<line x1="303.9" y1="980" x2="303.9" y2="982.5" stroke="#222" stroke-width="1" />
<text x="303.9" y="989.5" font-size="6.2" text-anchor="middle" font-weight="bold" fill="#333" >−1.0</text>
<line x1="336.3" y1="980" x2="336.3" y2="982.5" stroke="#222" stroke-width="1" />
<text x="336.3" y="989.5" font-size="6.2" text-anchor="middle" font-weight="bold" fill="#333" >−0.5</text>
<line x1="368.7" y1="980" x2="368.7" y2="982.5" stroke="#222" stroke-width="1" />
<text x="368.7" y="989.5" font-size="6.2" text-anchor="middle" font-weight="bold" fill="#333" >0.0</text>
<line x1="401.1" y1="980" x2="401.1" y2="982.5" stroke="#222" stroke-width="1" />
<text x="401.1" y="989.5" font-size="6.2" text-anchor="middle" font-weight="bold" fill="#333" >0.5</text>
<line x1="368.7" y1="817.7" x2="368.7" y2="980" stroke="#333" stroke-width="1" />
<line x1="239.1" y1="939.4" x2="401.1" y2="939.4" stroke="#a0a0a0" stroke-width="0.9" />
<text x="319.1" y="1004.2" font-size="12.2" text-anchor="middle" fill="#222" >Log<tspan font-size="0.65em" dy="3">2</tspan><tspan dy="-3">FC</tspan></text>
<text x="224.5" y="897" font-size="10.9" text-anchor="middle" fill="#222" transform="rotate(-90 224.5 897)" >−Log<tspan font-size="0.6em" dy="3">10</tspan><tspan dy="-3"> (</tspan><tspan font-style="italic">P</tspan> value)</text>
<text x="318.1" y="806" font-size="12" text-anchor="middle" fill="#222" >T<tspan font-size="0.6em" dy="2.0">H</tspan><tspan dy="-2.0">17</tspan> - 39°C</text>
<circle cx="336.23" cy="917.97" r="1.75" fill="#111"/>
<circle cx="333.33" cy="948.12" r="1.75" fill="#111"/>
<circle cx="334.78" cy="954.49" r="1.75" fill="#111"/>
<circle cx="342.9" cy="956.81" r="1.75" fill="#111"/>
<circle cx="344.06" cy="957.97" r="1.75" fill="#111"/>
<circle cx="340.58" cy="962.61" r="1.75" fill="#111"/>
<circle cx="347.25" cy="971.88" r="1.75" fill="#111"/>
<circle cx="350.72" cy="971.88" r="1.75" fill="#111"/>
<circle cx="356.52" cy="975.36" r="1.75" fill="#111"/>
<circle cx="360.87" cy="974.78" r="1.75" fill="#111"/>
<circle cx="362.32" cy="977.68" r="1.75" fill="#111"/>
<circle cx="349.28" cy="976.23" r="1.75" fill="#111"/>
<circle cx="352.17" cy="977.1" r="1.75" fill="#111"/>
<circle cx="355.07" cy="978.26" r="1.75" fill="#111"/>
<circle cx="357.97" cy="978.26" r="1.75" fill="#111"/>
<circle cx="359.42" cy="976.23" r="1.75" fill="#111"/>
<circle cx="363.77" cy="978.55" r="1.75" fill="#111"/>
<circle cx="365.22" cy="979.13" r="1.75" fill="#111"/>
<circle cx="353.62" cy="974.2" r="1.75" fill="#111"/>
<circle cx="297.68" cy="853.62" r="1.75" fill="#c7283e"/>
<circle cx="315.94" cy="886.38" r="1.75" fill="#c7283e"/>
<circle cx="326.67" cy="906.09" r="1.75" fill="#c7283e"/>
<circle cx="326.09" cy="915.36" r="1.75" fill="#c7283e"/>
<circle cx="328.99" cy="915.94" r="1.75" fill="#c7283e"/>
<circle cx="308.7" cy="924.93" r="1.75" fill="#c7283e"/>
<circle cx="316.81" cy="924.35" r="1.75" fill="#c7283e"/>
<circle cx="323.19" cy="921.74" r="1.75" fill="#c7283e"/>
<circle cx="326.09" cy="925.51" r="1.75" fill="#c7283e"/>
<circle cx="322.32" cy="928.41" r="1.75" fill="#c7283e"/>
<circle cx="333.33" cy="930.43" r="1.75" fill="#c7283e"/>
<circle cx="328.41" cy="939.42" r="1.75" fill="#c7283e"/>
<circle cx="329.57" cy="940.87" r="1.75" fill="#c7283e"/>
<circle cx="320.87" cy="946.67" r="1.75" fill="#c7283e"/>
<circle cx="331.01" cy="950.14" r="1.75" fill="#c7283e"/>
<circle cx="334.2" cy="955.07" r="1.75" fill="#c7283e"/>
<circle cx="335.07" cy="957.97" r="1.75" fill="#c7283e"/>
<circle cx="337.68" cy="959.71" r="1.75" fill="#c7283e"/>
<circle cx="336.23" cy="962.61" r="1.75" fill="#c7283e"/>
<circle cx="340.58" cy="968.99" r="1.75" fill="#c7283e"/>
<circle cx="342.03" cy="971.01" r="1.75" fill="#c7283e"/>
<circle cx="353.04" cy="968.99" r="1.75" fill="#c7283e"/>
<circle cx="354.2" cy="968.41" r="1.75" fill="#c7283e"/>
<circle cx="331.88" cy="955.94" r="1.75" fill="#c7283e"/>
<circle cx="329.86" cy="953.04" r="1.75" fill="#c7283e"/>
<circle cx="369.28" cy="834.2" r="1.5" fill="#8a6a3a"/>
<circle cx="369.28" cy="842.61" r="1.5" fill="#8a6a3a"/>
<circle cx="369.28" cy="888.41" r="1.5" fill="#8a6a3a"/>
<circle cx="369.28" cy="894.49" r="1.5" fill="#8a6a3a"/>
<circle cx="369.28" cy="915.94" r="1.5" fill="#8a6a3a"/>
<text x="302.9" y="856.2" font-size="7.7" font-style="italic" stroke="#1a1a1a" stroke-width="0.2">Ndufab1</text>
<text x="319.7" y="888.1" font-size="7.7" font-style="italic" stroke="#1a1a1a" stroke-width="0.2">Ndufa6</text>
<text x="297.7" y="908.7" font-size="7.7" font-style="italic" stroke="#1a1a1a" stroke-width="0.2">Ndufa5</text>
<text x="373" y="837.4" font-size="7.7" font-style="italic" stroke="#1a1a1a" stroke-width="0.2">Cox7b2</text>
<text x="373" y="846.1" font-size="7.7" font-style="italic" stroke="#1a1a1a" stroke-width="0.2">Cox10</text>
<line x1="470" y1="825.2" x2="470" y2="980.8" stroke="#151515" stroke-width="1.6" />
<line x1="464.3" y1="825.4" x2="470" y2="825.4" stroke="#151515" stroke-width="1.3" />
<text x="462.8" y="829.3" font-size="11" text-anchor="end" >1.0</text>
<line x1="464.3" y1="856.3" x2="470" y2="856.3" stroke="#151515" stroke-width="1.3" />
<text x="462.8" y="860.2" font-size="11" text-anchor="end" >0.5</text>
<line x1="464.3" y1="887.2" x2="470" y2="887.2" stroke="#151515" stroke-width="1.3" />
<text x="462.8" y="891.1" font-size="11" text-anchor="end" >0.0</text>
<line x1="464.3" y1="918.1" x2="470" y2="918.1" stroke="#151515" stroke-width="1.3" />
<text x="462.8" y="922" font-size="11" text-anchor="end" >−0.5</text>
<line x1="464.3" y1="949" x2="470" y2="949" stroke="#151515" stroke-width="1.3" />
<text x="462.8" y="952.9" font-size="11" text-anchor="end" >−1.0</text>
<line x1="464.3" y1="979.9" x2="470" y2="979.9" stroke="#151515" stroke-width="1.3" />
<text x="462.8" y="983.8" font-size="11" text-anchor="end" >−1.5</text>
<line x1="470" y1="980" x2="573" y2="980" stroke="#151515" stroke-width="1.6" />
<line x1="499" y1="980" x2="499" y2="985" stroke="#151515" stroke-width="1.4" />
<line x1="543.3" y1="980" x2="543.3" y2="985" stroke="#151515" stroke-width="1.4" />
<text x="498.8" y="997.6" font-size="9.9" text-anchor="middle" >ETC1</text>
<text x="543.3" y="997.6" font-size="9.9" text-anchor="middle" >ETC2-5</text>
<line x1="472" y1="887.2" x2="572" y2="887.2" stroke="#111" stroke-width="1.2" stroke-dasharray="1.4 1.4"/>
<circle cx="497" cy="877.6" r="2.2" fill="#cc2a40"/>
<circle cx="501" cy="879" r="2.2" fill="#cc2a40"/>
<circle cx="504" cy="881" r="2.2" fill="#cc2a40"/>
<circle cx="486" cy="885" r="2.2" fill="#cc2a40"/>
<circle cx="489" cy="885" r="2.2" fill="#cc2a40"/>
<circle cx="493" cy="884" r="2.2" fill="#cc2a40"/>
<circle cx="500" cy="886" r="2.2" fill="#cc2a40"/>
<circle cx="504" cy="886.4" r="2.2" fill="#cc2a40"/>
<circle cx="486" cy="892" r="2.2" fill="#cc2a40"/>
<circle cx="489" cy="892" r="2.2" fill="#cc2a40"/>
<circle cx="497" cy="891" r="2.2" fill="#cc2a40"/>
<circle cx="502" cy="892" r="2.2" fill="#cc2a40"/>
<circle cx="507" cy="892" r="2.2" fill="#cc2a40"/>
<circle cx="511" cy="892" r="2.2" fill="#cc2a40"/>
<circle cx="489" cy="899" r="2.2" fill="#cc2a40"/>
<circle cx="496" cy="900" r="2.2" fill="#cc2a40"/>
<circle cx="503" cy="899" r="2.2" fill="#cc2a40"/>
<circle cx="507" cy="898.4" r="2.2" fill="#cc2a40"/>
<circle cx="486" cy="904" r="2.2" fill="#cc2a40"/>
<circle cx="493" cy="905" r="2.2" fill="#cc2a40"/>
<circle cx="499" cy="904" r="2.2" fill="#cc2a40"/>
<circle cx="506" cy="906" r="2.2" fill="#cc2a40"/>
<circle cx="490" cy="910" r="2.2" fill="#cc2a40"/>
<circle cx="497" cy="911" r="2.2" fill="#cc2a40"/>
<circle cx="504" cy="910" r="2.2" fill="#cc2a40"/>
<circle cx="508" cy="912" r="2.2" fill="#cc2a40"/>
<circle cx="493" cy="915" r="2.2" fill="#cc2a40"/>
<circle cx="499" cy="918" r="2.2" fill="#cc2a40"/>
<circle cx="505" cy="918" r="2.2" fill="#cc2a40"/>
<circle cx="490" cy="905" r="2.2" fill="#cc2a40"/>
<circle cx="494" cy="904" r="2.2" fill="#cc2a40"/>
<circle cx="498" cy="903" r="2.2" fill="#cc2a40"/>
<circle cx="504" cy="901" r="2.2" fill="#cc2a40"/>
<circle cx="508" cy="905" r="2.2" fill="#cc2a40"/>
<circle cx="493" cy="908.4" r="2.2" fill="#cc2a40"/>
<circle cx="500" cy="910" r="2.2" fill="#cc2a40"/>
<circle cx="504" cy="907" r="2.2" fill="#cc2a40"/>
<circle cx="497" cy="913.6" r="2.2" fill="#cc2a40"/>
<circle cx="504" cy="913" r="2.2" fill="#cc2a40"/>
<circle cx="493" cy="916" r="2.2" fill="#cc2a40"/>
<circle cx="501" cy="920" r="2.2" fill="#cc2a40"/>
<circle cx="504" cy="918" r="2.2" fill="#cc2a40"/>
<circle cx="500" cy="926" r="2.2" fill="#cc2a40"/>
<circle cx="504" cy="926" r="2.2" fill="#cc2a40"/>
<circle cx="497" cy="929.6" r="2.2" fill="#cc2a40"/>
<circle cx="501" cy="931" r="2.2" fill="#cc2a40"/>
<circle cx="499" cy="952.4" r="2.2" fill="#cc2a40"/>
<circle cx="543" cy="854" r="2.2" fill="#111"/>
<circle cx="543" cy="865" r="2.2" fill="#111"/>
<circle cx="545" cy="870" r="2.2" fill="#111"/>
<circle cx="539" cy="874" r="2.2" fill="#111"/>
<circle cx="541" cy="875" r="2.2" fill="#111"/>
<circle cx="547" cy="877" r="2.2" fill="#111"/>
<circle cx="544" cy="878" r="2.2" fill="#111"/>
<circle cx="556" cy="881.6" r="2.2" fill="#111"/>
<circle cx="531" cy="882" r="2.2" fill="#111"/>
<circle cx="534" cy="883" r="2.2" fill="#111"/>
<circle cx="540" cy="882" r="2.2" fill="#111"/>
<circle cx="548" cy="884" r="2.2" fill="#111"/>
<circle cx="552" cy="886" r="2.2" fill="#111"/>
<circle cx="529" cy="886" r="2.2" fill="#111"/>
<circle cx="533" cy="887" r="2.2" fill="#111"/>
<circle cx="537" cy="886" r="2.2" fill="#111"/>
<circle cx="541" cy="888" r="2.2" fill="#111"/>
<circle cx="545" cy="887" r="2.2" fill="#111"/>
<circle cx="550" cy="888" r="2.2" fill="#111"/>
<circle cx="554" cy="889" r="2.2" fill="#111"/>
<circle cx="557" cy="888" r="2.2" fill="#111"/>
<circle cx="532" cy="892" r="2.2" fill="#111"/>
<circle cx="536" cy="893" r="2.2" fill="#111"/>
<circle cx="539" cy="894" r="2.2" fill="#111"/>
<circle cx="544" cy="892" r="2.2" fill="#111"/>
<circle cx="548" cy="893" r="2.2" fill="#111"/>
<circle cx="552" cy="891" r="2.2" fill="#111"/>
<circle cx="537" cy="898" r="2.2" fill="#111"/>
<circle cx="542" cy="899" r="2.2" fill="#111"/>
<circle cx="546" cy="896" r="2.2" fill="#111"/>
<circle cx="549" cy="898" r="2.2" fill="#111"/>
<circle cx="543" cy="902" r="2.2" fill="#111"/>
<circle cx="542" cy="911" r="2.2" fill="#111"/>
<circle cx="542" cy="914" r="2.2" fill="#111"/>
<circle cx="535" cy="889" r="2.2" fill="#111"/>
<circle cx="546" cy="890" r="2.2" fill="#111"/>
<circle cx="539" cy="884" r="2.2" fill="#111"/>
<circle cx="550" cy="882" r="2.2" fill="#111"/>
<circle cx="543" cy="895" r="2.2" fill="#111"/>
<circle cx="534" cy="896" r="2.2" fill="#111"/>
<line x1="484" y1="898.5" x2="513.8" y2="898.5" stroke="#151515" stroke-width="1.8" />
<line x1="498.4" y1="837.7" x2="544" y2="837.7" stroke="#151515" stroke-width="1.8" />
<text x="521" y="839.3" font-size="19.5" text-anchor="middle" font-weight="bold" >****</text>
<text x="433.8" y="904.1" font-size="10.73" text-anchor="middle" transform="rotate(-90 433.8 904.1)" >Log<tspan font-size="0.65em" dy="2.5">2</tspan><tspan dy="-2.5"> fold difference (</tspan>T<tspan font-size="0.6em" dy="2">H</tspan><tspan dy="-2">1</tspan> - T<tspan font-size="0.6em" dy="2">H</tspan><tspan dy="-2">17)</tspan></text>
<rect x="656.2" y="396.6" width="32.4" height="7.72" fill="#62146e"/>
<rect x="688.3" y="396.6" width="32.9" height="7.72" fill="#f06f20"/>
<line x1="647.8" y1="400.31" x2="656" y2="400.31" stroke="#111" stroke-width="2.4" />
<text x="646.4" y="403.31" font-size="8.6" text-anchor="end" fill="#111" stroke="#111" stroke-width="0.2">Ndufa1</text>
<rect x="656.2" y="404.02" width="32.4" height="7.72" fill="#f9c72f"/>
<rect x="688.3" y="404.02" width="32.9" height="7.72" fill="#fbba1f"/>
<line x1="647.8" y1="407.72" x2="656" y2="407.72" stroke="#111" stroke-width="2.4" />
<text x="646.4" y="410.72" font-size="8.6" text-anchor="end" fill="#111" stroke="#111" stroke-width="0.2">Ndufa10</text>
<rect x="656.2" y="411.43" width="32.4" height="7.72" fill="#b0315b"/>
<rect x="688.3" y="411.43" width="32.9" height="7.72" fill="#eb6628"/>
<line x1="647.8" y1="415.14" x2="656" y2="415.14" stroke="#111" stroke-width="2.4" />
<text x="646.4" y="418.14" font-size="8.6" text-anchor="end" fill="#111" stroke="#111" stroke-width="0.2">Ndufa11</text>
<rect x="656.2" y="418.85" width="32.4" height="7.72" fill="#f1ef75"/>
<rect x="688.3" y="418.85" width="32.9" height="7.72" fill="#f9c72f"/>
<line x1="647.8" y1="422.56" x2="656" y2="422.56" stroke="#111" stroke-width="2.4" />
<text x="646.4" y="425.56" font-size="8.6" text-anchor="end" fill="#111" stroke="#111" stroke-width="0.2">Ndufa12</text>
<rect x="656.2" y="426.26" width="32.4" height="7.72" fill="#62146e"/>
<rect x="688.3" y="426.26" width="32.9" height="7.72" fill="#e55c30"/>
<line x1="647.8" y1="429.97" x2="656" y2="429.97" stroke="#111" stroke-width="2.4" />
<text x="646.4" y="432.97" font-size="8.6" text-anchor="end" fill="#111" stroke="#111" stroke-width="0.2">Ndufa13</text>
<rect x="656.2" y="433.68" width="32.4" height="7.72" fill="#02020c"/>
<rect x="688.3" y="433.68" width="32.9" height="7.72" fill="#d34743"/>
<line x1="647.8" y1="437.39" x2="656" y2="437.39" stroke="#111" stroke-width="2.4" />
<text x="646.4" y="440.39" font-size="8.6" text-anchor="end" fill="#111" stroke="#111" stroke-width="0.2">Ndufa2</text>
<rect x="656.2" y="441.1" width="32.4" height="7.72" fill="#b3325a"/>
<rect x="688.3" y="441.1" width="32.9" height="7.72" fill="#e25734"/>
<line x1="647.8" y1="444.8" x2="656" y2="444.8" stroke="#111" stroke-width="2.4" />
<text x="646.4" y="447.8" font-size="8.6" text-anchor="end" fill="#111" stroke="#111" stroke-width="0.2">Ndufa3</text>
<rect x="656.2" y="448.51" width="32.4" height="7.72" fill="#f6d746"/>
<rect x="688.3" y="448.51" width="32.9" height="7.72" fill="#fac42a"/>
<line x1="647.8" y1="452.22" x2="656" y2="452.22" stroke="#111" stroke-width="2.4" />
<text x="646.4" y="455.22" font-size="8.6" text-anchor="end" fill="#111" stroke="#111" stroke-width="0.2">Ndufa4</text>
<rect x="656.2" y="455.93" width="32.4" height="7.72" fill="#dd513a"/>
<rect x="688.3" y="455.93" width="32.9" height="7.72" fill="#ea632a"/>
<line x1="647.8" y1="459.64" x2="656" y2="459.64" stroke="#111" stroke-width="2.4" />
<text x="646.4" y="462.64" font-size="8.6" text-anchor="end" fill="#111" stroke="#111" stroke-width="0.2">Ndufa5</text>
<rect x="656.2" y="463.34" width="32.4" height="7.72" fill="#260c51"/>
<rect x="688.3" y="463.34" width="32.9" height="7.72" fill="#cc4248"/>
<line x1="647.8" y1="467.05" x2="656" y2="467.05" stroke="#111" stroke-width="2.4" />
<text x="646.4" y="470.05" font-size="8.6" text-anchor="end" fill="#111" stroke="#111" stroke-width="0.2">Ndufa6</text>
<rect x="656.2" y="470.76" width="32.4" height="7.72" fill="#f9c72f"/>
<rect x="688.3" y="470.76" width="32.9" height="7.72" fill="#f7d13d"/>
<line x1="647.8" y1="474.47" x2="656" y2="474.47" stroke="#111" stroke-width="2.4" />
<text x="646.4" y="477.47" font-size="8.6" text-anchor="end" fill="#111" stroke="#111" stroke-width="0.2">Ndufa7</text>
<rect x="656.2" y="478.18" width="32.4" height="7.72" fill="#f37819"/>
<rect x="688.3" y="478.18" width="32.9" height="7.72" fill="#f98e09"/>
<line x1="647.8" y1="481.88" x2="656" y2="481.88" stroke="#111" stroke-width="2.4" />
<text x="646.4" y="484.88" font-size="8.6" text-anchor="end" fill="#111" stroke="#111" stroke-width="0.2">Ndufa8</text>
<rect x="656.2" y="485.59" width="32.4" height="7.72" fill="#e05536"/>
<rect x="688.3" y="485.59" width="32.9" height="7.72" fill="#fb9706"/>
<line x1="647.8" y1="489.3" x2="656" y2="489.3" stroke="#111" stroke-width="2.4" />
<text x="646.4" y="492.3" font-size="8.6" text-anchor="end" fill="#111" stroke="#111" stroke-width="0.2">Ndufa9</text>
<rect x="656.2" y="493.01" width="32.4" height="7.72" fill="#5f136e"/>
<rect x="688.3" y="493.01" width="32.9" height="7.72" fill="#972766"/>
<line x1="647.8" y1="496.72" x2="656" y2="496.72" stroke="#111" stroke-width="2.4" />
<text x="646.4" y="499.72" font-size="8.6" text-anchor="end" fill="#111" stroke="#111" stroke-width="0.2">Ndufab1</text>
<rect x="656.2" y="500.42" width="32.4" height="7.72" fill="#972766"/>
<rect x="688.3" y="500.42" width="32.9" height="7.72" fill="#e05536"/>
<line x1="647.8" y1="504.13" x2="656" y2="504.13" stroke="#111" stroke-width="2.4" />
<text x="646.4" y="507.13" font-size="8.6" text-anchor="end" fill="#111" stroke="#111" stroke-width="0.2">Ndufb10</text>
<rect x="656.2" y="507.84" width="32.4" height="7.72" fill="#972766"/>
<rect x="688.3" y="507.84" width="32.9" height="7.72" fill="#e55c30"/>
<line x1="647.8" y1="511.55" x2="656" y2="511.55" stroke="#111" stroke-width="2.4" />
<text x="646.4" y="514.55" font-size="8.6" text-anchor="end" fill="#111" stroke="#111" stroke-width="0.2">Ndufb11</text>
<rect x="656.2" y="515.26" width="32.4" height="7.72" fill="#e75e2e"/>
<rect x="688.3" y="515.26" width="32.9" height="7.72" fill="#fca108"/>
<line x1="647.8" y1="518.96" x2="656" y2="518.96" stroke="#111" stroke-width="2.4" />
<text x="646.4" y="521.96" font-size="8.6" text-anchor="end" fill="#111" stroke="#111" stroke-width="0.2">Ndufb2</text>
<rect x="656.2" y="522.67" width="32.4" height="7.72" fill="#f8890c"/>
<rect x="688.3" y="522.67" width="32.9" height="7.72" fill="#f68013"/>
<line x1="647.8" y1="526.38" x2="656" y2="526.38" stroke="#111" stroke-width="2.4" />
<text x="646.4" y="529.38" font-size="8.6" text-anchor="end" fill="#111" stroke="#111" stroke-width="0.2">Ndufb3</text>
<rect x="656.2" y="530.09" width="32.4" height="7.72" fill="#f8890c"/>
<rect x="688.3" y="530.09" width="32.9" height="7.72" fill="#f37819"/>
<line x1="647.8" y1="533.8" x2="656" y2="533.8" stroke="#111" stroke-width="2.4" />
<text x="646.4" y="536.8" font-size="8.6" text-anchor="end" fill="#111" stroke="#111" stroke-width="0.2">Ndufb4</text>
<rect x="656.2" y="537.5" width="32.4" height="7.72" fill="#fca108"/>
<rect x="688.3" y="537.5" width="32.9" height="7.72" fill="#fbbe23"/>
<line x1="647.8" y1="541.21" x2="656" y2="541.21" stroke="#111" stroke-width="2.4" />
<text x="646.4" y="544.21" font-size="8.6" text-anchor="end" fill="#111" stroke="#111" stroke-width="0.2">Ndufb5</text>
<rect x="656.2" y="544.92" width="32.4" height="7.72" fill="#b0315b"/>
<rect x="688.3" y="544.92" width="32.9" height="7.72" fill="#f98e09"/>
<line x1="647.8" y1="548.63" x2="656" y2="548.63" stroke="#111" stroke-width="2.4" />
<text x="646.4" y="551.63" font-size="8.6" text-anchor="end" fill="#111" stroke="#111" stroke-width="0.2">Ndufb6</text>
<rect x="656.2" y="552.34" width="32.4" height="7.72" fill="#b0315b"/>
<rect x="688.3" y="552.34" width="32.9" height="7.72" fill="#f98e09"/>
<line x1="647.8" y1="556.04" x2="656" y2="556.04" stroke="#111" stroke-width="2.4" />
<text x="646.4" y="559.04" font-size="8.6" text-anchor="end" fill="#111" stroke="#111" stroke-width="0.2">Ndufb7</text>
<rect x="656.2" y="559.75" width="32.4" height="7.72" fill="#b0315b"/>
<rect x="688.3" y="559.75" width="32.9" height="7.72" fill="#e75e2e"/>
<line x1="647.8" y1="563.46" x2="656" y2="563.46" stroke="#111" stroke-width="2.4" />
<text x="646.4" y="566.46" font-size="8.6" text-anchor="end" fill="#111" stroke="#111" stroke-width="0.2">Ndufb8</text>
<rect x="656.2" y="567.17" width="32.4" height="7.72" fill="#b0315b"/>
<rect x="688.3" y="567.17" width="32.9" height="7.72" fill="#e75e2e"/>
<line x1="647.8" y1="570.88" x2="656" y2="570.88" stroke="#111" stroke-width="2.4" />
<text x="646.4" y="573.88" font-size="8.6" text-anchor="end" fill="#111" stroke="#111" stroke-width="0.2">Ndufb9</text>
<rect x="656.2" y="574.58" width="32.4" height="7.72" fill="#972766"/>
<rect x="688.3" y="574.58" width="32.9" height="7.72" fill="#f37819"/>
<line x1="647.8" y1="578.29" x2="656" y2="578.29" stroke="#111" stroke-width="2.4" />
<text x="646.4" y="581.29" font-size="8.6" text-anchor="end" fill="#111" stroke="#111" stroke-width="0.2">Ndufc1</text>
<rect x="656.2" y="582" width="32.4" height="7.72" fill="#cc4248"/>
<rect x="688.3" y="582" width="32.9" height="7.72" fill="#f37819"/>
<line x1="647.8" y1="585.71" x2="656" y2="585.71" stroke="#111" stroke-width="2.4" />
<text x="646.4" y="588.71" font-size="8.6" text-anchor="end" fill="#111" stroke="#111" stroke-width="0.2">Ndufc2</text>
<rect x="656.2" y="589.42" width="32.4" height="7.72" fill="#84206b"/>
<rect x="688.3" y="589.42" width="32.9" height="7.72" fill="#a82e5f"/>
<line x1="647.8" y1="593.12" x2="656" y2="593.12" stroke="#111" stroke-width="2.4" />
<text x="646.4" y="596.12" font-size="8.6" text-anchor="end" fill="#111" stroke="#111" stroke-width="0.2">Ndufs1</text>
<rect x="656.2" y="596.83" width="32.4" height="7.72" fill="#84206b"/>
<rect x="688.3" y="596.83" width="32.9" height="7.72" fill="#f98e09"/>
<line x1="647.8" y1="600.54" x2="656" y2="600.54" stroke="#111" stroke-width="2.4" />
<text x="646.4" y="603.54" font-size="8.6" text-anchor="end" fill="#111" stroke="#111" stroke-width="0.2">Ndufs2</text>
<rect x="656.2" y="604.25" width="32.4" height="7.72" fill="#f37819"/>
<rect x="688.3" y="604.25" width="32.9" height="7.72" fill="#fb9706"/>
<line x1="647.8" y1="607.96" x2="656" y2="607.96" stroke="#111" stroke-width="2.4" />
<text x="646.4" y="610.96" font-size="8.6" text-anchor="end" fill="#111" stroke="#111" stroke-width="0.2">Ndufs3</text>
<rect x="656.2" y="611.66" width="32.4" height="7.72" fill="#f9fc9d"/>
<rect x="688.3" y="611.66" width="32.9" height="7.72" fill="#f1ef75"/>
<line x1="647.8" y1="615.37" x2="656" y2="615.37" stroke="#111" stroke-width="2.4" />
<text x="646.4" y="618.37" font-size="8.6" text-anchor="end" fill="#111" stroke="#111" stroke-width="0.2">Ndufs4</text>
<rect x="656.2" y="619.08" width="32.4" height="7.72" fill="#f06f20"/>
<rect x="688.3" y="619.08" width="32.9" height="7.72" fill="#f06f20"/>
<line x1="647.8" y1="622.79" x2="656" y2="622.79" stroke="#111" stroke-width="2.4" />
<text x="646.4" y="625.79" font-size="8.6" text-anchor="end" fill="#111" stroke="#111" stroke-width="0.2">Ndufs5</text>
<rect x="656.2" y="626.5" width="32.4" height="7.72" fill="#fbba1f"/>
<rect x="688.3" y="626.5" width="32.9" height="7.72" fill="#f7d13d"/>
<line x1="647.8" y1="630.2" x2="656" y2="630.2" stroke="#111" stroke-width="2.4" />
<text x="646.4" y="633.2" font-size="8.6" text-anchor="end" fill="#111" stroke="#111" stroke-width="0.2">Ndufs6</text>
<rect x="656.2" y="633.91" width="32.4" height="7.72" fill="#f06f20"/>
<rect x="688.3" y="633.91" width="32.9" height="7.72" fill="#f68013"/>
<line x1="647.8" y1="637.62" x2="656" y2="637.62" stroke="#111" stroke-width="2.4" />
<text x="646.4" y="640.62" font-size="8.6" text-anchor="end" fill="#111" stroke="#111" stroke-width="0.2">Ndufs7</text>
<rect x="656.2" y="641.33" width="32.4" height="7.72" fill="#b3325a"/>
<rect x="688.3" y="641.33" width="32.9" height="7.72" fill="#fca108"/>
<line x1="647.8" y1="645.04" x2="656" y2="645.04" stroke="#111" stroke-width="2.4" />
<text x="646.4" y="648.04" font-size="8.6" text-anchor="end" fill="#111" stroke="#111" stroke-width="0.2">Ndufs8</text>
<rect x="656.2" y="648.74" width="32.4" height="7.72" fill="#f06f20"/>
<rect x="688.3" y="648.74" width="32.9" height="7.72" fill="#f98e09"/>
<line x1="647.8" y1="652.45" x2="656" y2="652.45" stroke="#111" stroke-width="2.4" />
<text x="646.4" y="655.45" font-size="8.6" text-anchor="end" fill="#111" stroke="#111" stroke-width="0.2">Ndufv1</text>
<rect x="656.2" y="656.16" width="32.4" height="7.72" fill="#e75e2e"/>
<rect x="688.3" y="656.16" width="32.9" height="7.72" fill="#f06f20"/>
<line x1="647.8" y1="659.87" x2="656" y2="659.87" stroke="#111" stroke-width="2.4" />
<text x="646.4" y="662.87" font-size="8.6" text-anchor="end" fill="#111" stroke="#111" stroke-width="0.2">Ndufv2</text>
<rect x="656.2" y="663.58" width="32.4" height="7.72" fill="#f6d746"/>
<rect x="688.3" y="663.58" width="32.9" height="7.72" fill="#f7d13d"/>
<line x1="647.8" y1="667.28" x2="656" y2="667.28" stroke="#111" stroke-width="2.4" />
<text x="646.4" y="670.28" font-size="8.6" text-anchor="end" fill="#111" stroke="#111" stroke-width="0.2">Ndufv3</text>
<rect x="656.2" y="670.99" width="32.4" height="7.72" fill="#fcaa0f"/>
<rect x="688.3" y="670.99" width="32.9" height="7.72" fill="#f8cd37"/>
<line x1="647.8" y1="674.7" x2="656" y2="674.7" stroke="#111" stroke-width="2.4" />
<text x="646.4" y="677.7" font-size="8.6" text-anchor="end" fill="#111" stroke="#111" stroke-width="0.2">Sdha</text>
<rect x="656.2" y="678.41" width="32.4" height="7.72" fill="#fac42a"/>
<rect x="688.3" y="678.41" width="32.9" height="7.72" fill="#f7d13d"/>
<line x1="647.8" y1="682.12" x2="656" y2="682.12" stroke="#111" stroke-width="2.4" />
<text x="646.4" y="685.12" font-size="8.6" text-anchor="end" fill="#111" stroke="#111" stroke-width="0.2">Sdhb</text>
<rect x="656.2" y="685.82" width="32.4" height="7.72" fill="#f5db4c"/>
<rect x="688.3" y="685.82" width="32.9" height="7.72" fill="#f4e156"/>
<line x1="647.8" y1="689.53" x2="656" y2="689.53" stroke="#111" stroke-width="2.4" />
<text x="646.4" y="692.53" font-size="8.6" text-anchor="end" fill="#111" stroke="#111" stroke-width="0.2">Sdhc</text>
<rect x="656.2" y="693.24" width="32.4" height="7.72" fill="#fac42a"/>
<rect x="688.3" y="693.24" width="32.9" height="7.72" fill="#f9c72f"/>
<line x1="647.8" y1="696.95" x2="656" y2="696.95" stroke="#111" stroke-width="2.4" />
<text x="646.4" y="699.95" font-size="8.6" text-anchor="end" fill="#111" stroke="#111" stroke-width="0.2">Sdhd</text>
<rect x="656.2" y="700.66" width="32.4" height="7.72" fill="#f1731d"/>
<rect x="688.3" y="700.66" width="32.9" height="7.72" fill="#f9c72f"/>
<line x1="647.8" y1="704.36" x2="656" y2="704.36" stroke="#111" stroke-width="2.4" />
<text x="646.4" y="707.36" font-size="8.6" text-anchor="end" fill="#111" stroke="#111" stroke-width="0.2">Cyc1</text>
<rect x="656.2" y="708.07" width="32.4" height="7.72" fill="#f37819"/>
<rect x="688.3" y="708.07" width="32.9" height="7.72" fill="#f9c72f"/>
<line x1="647.8" y1="711.78" x2="656" y2="711.78" stroke="#111" stroke-width="2.4" />
<text x="646.4" y="714.78" font-size="8.6" text-anchor="end" fill="#111" stroke="#111" stroke-width="0.2">Uqcr10</text>
<rect x="656.2" y="715.49" width="32.4" height="7.72" fill="#f5db4c"/>
<rect x="688.3" y="715.49" width="32.9" height="7.72" fill="#f5db4c"/>
<line x1="647.8" y1="719.2" x2="656" y2="719.2" stroke="#111" stroke-width="2.4" />
<text x="646.4" y="722.2" font-size="8.6" text-anchor="end" fill="#111" stroke="#111" stroke-width="0.2">Uqcr11</text>
<rect x="656.2" y="722.9" width="32.4" height="7.72" fill="#fbbe23"/>
<rect x="688.3" y="722.9" width="32.9" height="7.72" fill="#fbbe23"/>
<line x1="647.8" y1="726.61" x2="656" y2="726.61" stroke="#111" stroke-width="2.4" />
<text x="646.4" y="729.61" font-size="8.6" text-anchor="end" fill="#111" stroke="#111" stroke-width="0.2">Uqcrb</text>
<rect x="656.2" y="730.32" width="32.4" height="7.72" fill="#fbba1f"/>
<rect x="688.3" y="730.32" width="32.9" height="7.72" fill="#fbbe23"/>
<line x1="647.8" y1="734.03" x2="656" y2="734.03" stroke="#111" stroke-width="2.4" />
<text x="646.4" y="737.03" font-size="8.6" text-anchor="end" fill="#111" stroke="#111" stroke-width="0.2">Uqcrc1</text>
<rect x="656.2" y="737.74" width="32.4" height="7.72" fill="#fca108"/>
<rect x="688.3" y="737.74" width="32.9" height="7.72" fill="#f7d13d"/>
<line x1="647.8" y1="741.44" x2="656" y2="741.44" stroke="#111" stroke-width="2.4" />
<text x="646.4" y="744.44" font-size="8.6" text-anchor="end" fill="#111" stroke="#111" stroke-width="0.2">Uqcrc2</text>
<rect x="656.2" y="745.15" width="32.4" height="7.72" fill="#f98e09"/>
<rect x="688.3" y="745.15" width="32.9" height="7.72" fill="#fbba1f"/>
<line x1="647.8" y1="748.86" x2="656" y2="748.86" stroke="#111" stroke-width="2.4" />
<text x="646.4" y="751.86" font-size="8.6" text-anchor="end" fill="#111" stroke="#111" stroke-width="0.2">Uqcrfs1</text>
<rect x="656.2" y="752.57" width="32.4" height="7.72" fill="#f5f992"/>
<rect x="688.3" y="752.57" width="32.9" height="7.72" fill="#f9c72f"/>
<line x1="647.8" y1="756.28" x2="656" y2="756.28" stroke="#111" stroke-width="2.4" />
<text x="646.4" y="759.28" font-size="8.6" text-anchor="end" fill="#111" stroke="#111" stroke-width="0.2">Uqcrh</text>
<rect x="656.2" y="759.98" width="32.4" height="7.72" fill="#fb9706"/>
<rect x="688.3" y="759.98" width="32.9" height="7.72" fill="#fac42a"/>
<line x1="647.8" y1="763.69" x2="656" y2="763.69" stroke="#111" stroke-width="2.4" />
<text x="646.4" y="766.69" font-size="8.6" text-anchor="end" fill="#111" stroke="#111" stroke-width="0.2">Uqcrq</text>
<rect x="656.2" y="767.4" width="32.4" height="7.72" fill="#f5f992"/>
<rect x="688.3" y="767.4" width="32.9" height="7.72" fill="#f2ea69"/>
<line x1="647.8" y1="771.11" x2="656" y2="771.11" stroke="#111" stroke-width="2.4" />
<text x="646.4" y="774.11" font-size="8.6" text-anchor="end" fill="#111" stroke="#111" stroke-width="0.2">Cox10</text>
<rect x="656.2" y="774.82" width="32.4" height="7.72" fill="#fac42a"/>
<rect x="688.3" y="774.82" width="32.9" height="7.72" fill="#f2e661"/>
<line x1="647.8" y1="778.52" x2="656" y2="778.52" stroke="#111" stroke-width="2.4" />
<text x="646.4" y="781.52" font-size="8.6" text-anchor="end" fill="#111" stroke="#111" stroke-width="0.2">Cox11</text>
<rect x="656.2" y="782.23" width="32.4" height="7.72" fill="#f2ea69"/>
<rect x="688.3" y="782.23" width="32.9" height="7.72" fill="#fcae12"/>
<line x1="647.8" y1="785.94" x2="656" y2="785.94" stroke="#111" stroke-width="2.4" />
<text x="646.4" y="788.94" font-size="8.6" text-anchor="end" fill="#111" stroke="#111" stroke-width="0.2">Cox15</text>
<rect x="656.2" y="789.65" width="32.4" height="7.72" fill="#fac42a"/>
<rect x="688.3" y="789.65" width="32.9" height="7.72" fill="#f7d13d"/>
<line x1="647.8" y1="793.36" x2="656" y2="793.36" stroke="#111" stroke-width="2.4" />
<text x="646.4" y="796.36" font-size="8.6" text-anchor="end" fill="#111" stroke="#111" stroke-width="0.2">Cox17</text>
<rect x="656.2" y="797.06" width="32.4" height="7.72" fill="#f9c72f"/>
<rect x="688.3" y="797.06" width="32.9" height="7.72" fill="#f2f27d"/>
<line x1="647.8" y1="800.77" x2="656" y2="800.77" stroke="#111" stroke-width="2.4" />
<text x="646.4" y="803.77" font-size="8.6" text-anchor="end" fill="#111" stroke="#111" stroke-width="0.2">Cox4i1</text>
<rect x="656.2" y="804.48" width="32.4" height="7.72" fill="#f9c72f"/>
<rect x="688.3" y="804.48" width="32.9" height="7.72" fill="#f9c72f"/>
<line x1="647.8" y1="808.19" x2="656" y2="808.19" stroke="#111" stroke-width="2.4" />
<text x="646.4" y="811.19" font-size="8.6" text-anchor="end" fill="#111" stroke="#111" stroke-width="0.2">Cox4i2</text>
<rect x="656.2" y="811.9" width="32.4" height="7.72" fill="#f2e661"/>
<rect x="688.3" y="811.9" width="32.9" height="7.72" fill="#f2e661"/>
<line x1="647.8" y1="815.6" x2="656" y2="815.6" stroke="#111" stroke-width="2.4" />
<text x="646.4" y="818.6" font-size="8.6" text-anchor="end" fill="#111" stroke="#111" stroke-width="0.2">Cox5a</text>
<rect x="656.2" y="819.31" width="32.4" height="7.72" fill="#fac42a"/>
<rect x="688.3" y="819.31" width="32.9" height="7.72" fill="#fbba1f"/>
<line x1="647.8" y1="823.02" x2="656" y2="823.02" stroke="#111" stroke-width="2.4" />
<text x="646.4" y="826.02" font-size="8.6" text-anchor="end" fill="#111" stroke="#111" stroke-width="0.2">Cox5b</text>
<rect x="656.2" y="826.73" width="32.4" height="7.72" fill="#fac42a"/>
<rect x="688.3" y="826.73" width="32.9" height="7.72" fill="#f7d13d"/>
<line x1="647.8" y1="830.44" x2="656" y2="830.44" stroke="#111" stroke-width="2.4" />
<text x="646.4" y="833.44" font-size="8.6" text-anchor="end" fill="#111" stroke="#111" stroke-width="0.2">Cox6a1</text>
<rect x="656.2" y="834.14" width="32.4" height="7.72" fill="#f2f27d"/>
<rect x="688.3" y="834.14" width="32.9" height="7.72" fill="#f5db4c"/>
<line x1="647.8" y1="837.85" x2="656" y2="837.85" stroke="#111" stroke-width="2.4" />
<text x="646.4" y="840.85" font-size="8.6" text-anchor="end" fill="#111" stroke="#111" stroke-width="0.2">Cox6a2</text>
<rect x="656.2" y="841.56" width="32.4" height="7.72" fill="#f5db4c"/>
<rect x="688.3" y="841.56" width="32.9" height="7.72" fill="#fbbe23"/>
<line x1="647.8" y1="845.27" x2="656" y2="845.27" stroke="#111" stroke-width="2.4" />
<text x="646.4" y="848.27" font-size="8.6" text-anchor="end" fill="#111" stroke="#111" stroke-width="0.2">Cox6b1</text>
<rect x="656.2" y="848.98" width="32.4" height="7.72" fill="#f5db4c"/>
<rect x="688.3" y="848.98" width="32.9" height="7.72" fill="#f2e661"/>
<line x1="647.8" y1="852.68" x2="656" y2="852.68" stroke="#111" stroke-width="2.4" />
<text x="646.4" y="855.68" font-size="8.6" text-anchor="end" fill="#111" stroke="#111" stroke-width="0.2">Cox6b2</text>
<rect x="656.2" y="856.39" width="32.4" height="7.72" fill="#f2e661"/>
<rect x="688.3" y="856.39" width="32.9" height="7.72" fill="#f5db4c"/>
<line x1="647.8" y1="860.1" x2="656" y2="860.1" stroke="#111" stroke-width="2.4" />
<text x="646.4" y="863.1" font-size="8.6" text-anchor="end" fill="#111" stroke="#111" stroke-width="0.2">Cox6c</text>
<rect x="656.2" y="863.81" width="32.4" height="7.72" fill="#f2e661"/>
<rect x="688.3" y="863.81" width="32.9" height="7.72" fill="#f2f27d"/>
<line x1="647.8" y1="867.52" x2="656" y2="867.52" stroke="#111" stroke-width="2.4" />
<text x="646.4" y="870.52" font-size="8.6" text-anchor="end" fill="#111" stroke="#111" stroke-width="0.2">Cox7a1</text>
<rect x="656.2" y="871.22" width="32.4" height="7.72" fill="#f2e661"/>
<rect x="688.3" y="871.22" width="32.9" height="7.72" fill="#f2f27d"/>
<line x1="647.8" y1="874.93" x2="656" y2="874.93" stroke="#111" stroke-width="2.4" />
<text x="646.4" y="877.93" font-size="8.6" text-anchor="end" fill="#111" stroke="#111" stroke-width="0.2">Cox7a2</text>
<rect x="656.2" y="878.64" width="32.4" height="7.72" fill="#f7d13d"/>
<rect x="688.3" y="878.64" width="32.9" height="7.72" fill="#fca108"/>
<line x1="647.8" y1="882.35" x2="656" y2="882.35" stroke="#111" stroke-width="2.4" />
<text x="646.4" y="885.35" font-size="8.6" text-anchor="end" fill="#111" stroke="#111" stroke-width="0.2">Cox7a2l</text>
<rect x="656.2" y="886.06" width="32.4" height="7.72" fill="#f9c72f"/>
<rect x="688.3" y="886.06" width="32.9" height="7.72" fill="#fac42a"/>
<line x1="647.8" y1="889.76" x2="656" y2="889.76" stroke="#111" stroke-width="2.4" />
<text x="646.4" y="892.76" font-size="8.6" text-anchor="end" fill="#111" stroke="#111" stroke-width="0.2">Cox7b</text>
<rect x="656.2" y="893.47" width="32.4" height="7.72" fill="#f3f68a"/>
<rect x="688.3" y="893.47" width="32.9" height="7.72" fill="#f2ea69"/>
<line x1="647.8" y1="897.18" x2="656" y2="897.18" stroke="#111" stroke-width="2.4" />
<text x="646.4" y="900.18" font-size="8.6" text-anchor="end" fill="#111" stroke="#111" stroke-width="0.2">Cox7b2</text>
<rect x="656.2" y="900.89" width="32.4" height="7.72" fill="#fac42a"/>
<rect x="688.3" y="900.89" width="32.9" height="7.72" fill="#f78410"/>
<line x1="647.8" y1="904.6" x2="656" y2="904.6" stroke="#111" stroke-width="2.4" />
<text x="646.4" y="907.6" font-size="8.6" text-anchor="end" fill="#111" stroke="#111" stroke-width="0.2">Cox7c</text>
<rect x="656.2" y="908.3" width="32.4" height="7.72" fill="#fcaa0f"/>
<rect x="688.3" y="908.3" width="32.9" height="7.72" fill="#f9c72f"/>
<line x1="647.8" y1="912.01" x2="656" y2="912.01" stroke="#111" stroke-width="2.4" />
<text x="646.4" y="915.01" font-size="8.6" text-anchor="end" fill="#111" stroke="#111" stroke-width="0.2">Cox8a</text>
<rect x="656.2" y="915.72" width="32.4" height="7.72" fill="#f7d13d"/>
<rect x="688.3" y="915.72" width="32.9" height="7.72" fill="#f9c72f"/>
<line x1="647.8" y1="919.43" x2="656" y2="919.43" stroke="#111" stroke-width="2.4" />
<text x="646.4" y="922.43" font-size="8.6" text-anchor="end" fill="#111" stroke="#111" stroke-width="0.2">Cox8b</text>
<rect x="656.2" y="923.14" width="32.4" height="7.72" fill="#f2e661"/>
<rect x="688.3" y="923.14" width="32.9" height="7.72" fill="#f9c72f"/>
<line x1="647.8" y1="926.84" x2="656" y2="926.84" stroke="#111" stroke-width="2.4" />
<text x="646.4" y="929.84" font-size="8.6" text-anchor="end" fill="#111" stroke="#111" stroke-width="0.2">Cox8c</text>
<rect x="656.2" y="930.55" width="32.4" height="7.72" fill="#fbbe23"/>
<rect x="688.3" y="930.55" width="32.9" height="7.72" fill="#f9c72f"/>
<line x1="647.8" y1="934.26" x2="656" y2="934.26" stroke="#111" stroke-width="2.4" />
<text x="646.4" y="937.26" font-size="8.6" text-anchor="end" fill="#111" stroke="#111" stroke-width="0.2">Atp5a1</text>
<rect x="656.2" y="937.97" width="32.4" height="7.72" fill="#fbbe23"/>
<rect x="688.3" y="937.97" width="32.9" height="7.72" fill="#fb9706"/>
<line x1="647.8" y1="941.68" x2="656" y2="941.68" stroke="#111" stroke-width="2.4" />
<text x="646.4" y="944.68" font-size="8.6" text-anchor="end" fill="#111" stroke="#111" stroke-width="0.2">Atp5b</text>
<rect x="656.2" y="945.38" width="32.4" height="7.72" fill="#f3f68a"/>
<rect x="688.3" y="945.38" width="32.9" height="7.72" fill="#f78410"/>
<line x1="647.8" y1="949.09" x2="656" y2="949.09" stroke="#111" stroke-width="2.4" />
<text x="646.4" y="952.09" font-size="8.6" text-anchor="end" fill="#111" stroke="#111" stroke-width="0.2">Atp5c1</text>
<rect x="656.2" y="952.8" width="32.4" height="7.72" fill="#fcaa0f"/>
<rect x="688.3" y="952.8" width="32.9" height="7.72" fill="#f78410"/>
<line x1="647.8" y1="956.51" x2="656" y2="956.51" stroke="#111" stroke-width="2.4" />
<text x="646.4" y="959.51" font-size="8.6" text-anchor="end" fill="#111" stroke="#111" stroke-width="0.2">Atp5d</text>
<rect x="656.2" y="960.22" width="32.4" height="7.72" fill="#f3f68a"/>
<rect x="688.3" y="960.22" width="32.9" height="7.72" fill="#fca108"/>
<line x1="647.8" y1="963.92" x2="656" y2="963.92" stroke="#111" stroke-width="2.4" />
<text x="646.4" y="966.92" font-size="8.6" text-anchor="end" fill="#111" stroke="#111" stroke-width="0.2">Atp5e</text>
<rect x="656.2" y="967.63" width="32.4" height="7.72" fill="#fca108"/>
<rect x="688.3" y="967.63" width="32.9" height="7.72" fill="#fca108"/>
<line x1="647.8" y1="971.34" x2="656" y2="971.34" stroke="#111" stroke-width="2.4" />
<text x="646.4" y="974.34" font-size="8.6" text-anchor="end" fill="#111" stroke="#111" stroke-width="0.2">Atp5f1</text>
<rect x="656.2" y="975.05" width="32.4" height="7.72" fill="#ea632a"/>
<rect x="688.3" y="975.05" width="32.9" height="7.72" fill="#f37819"/>
<line x1="647.8" y1="978.76" x2="656" y2="978.76" stroke="#111" stroke-width="2.4" />
<text x="646.4" y="981.76" font-size="8.6" text-anchor="end" fill="#111" stroke="#111" stroke-width="0.2">Atp5g1</text>
<rect x="656.2" y="982.46" width="32.4" height="7.72" fill="#f8cd37"/>
<rect x="688.3" y="982.46" width="32.9" height="7.72" fill="#fcaa0f"/>
<line x1="647.8" y1="986.17" x2="656" y2="986.17" stroke="#111" stroke-width="2.4" />
<text x="646.4" y="989.17" font-size="8.6" text-anchor="end" fill="#111" stroke="#111" stroke-width="0.2">Atp5g2</text>
<rect x="656.2" y="989.88" width="32.4" height="7.72" fill="#f8cd37"/>
<rect x="688.3" y="989.88" width="32.9" height="7.72" fill="#f8cd37"/>
<line x1="647.8" y1="993.59" x2="656" y2="993.59" stroke="#111" stroke-width="2.4" />
<text x="646.4" y="996.59" font-size="8.6" text-anchor="end" fill="#111" stroke="#111" stroke-width="0.2">Atp5g3</text>
<rect x="656.2" y="997.3" width="32.4" height="7.72" fill="#f78410"/>
<rect x="688.3" y="997.3" width="32.9" height="7.72" fill="#f78410"/>
<line x1="647.8" y1="1001" x2="656" y2="1001" stroke="#111" stroke-width="2.4" />
<text x="646.4" y="1004" font-size="8.6" text-anchor="end" fill="#111" stroke="#111" stroke-width="0.2">Atp5h</text>
<rect x="656.2" y="1004.71" width="32.4" height="7.72" fill="#fcaa0f"/>
<rect x="688.3" y="1004.71" width="32.9" height="7.72" fill="#f9c72f"/>
<line x1="647.8" y1="1008.42" x2="656" y2="1008.42" stroke="#111" stroke-width="2.4" />
<text x="646.4" y="1011.42" font-size="8.6" text-anchor="end" fill="#111" stroke="#111" stroke-width="0.2">Atp5j</text>
<rect x="656.2" y="1012.13" width="32.4" height="7.72" fill="#fcaa0f"/>
<rect x="688.3" y="1012.13" width="32.9" height="7.72" fill="#fca108"/>
<line x1="647.8" y1="1015.84" x2="656" y2="1015.84" stroke="#111" stroke-width="2.4" />
<text x="646.4" y="1018.84" font-size="8.6" text-anchor="end" fill="#111" stroke="#111" stroke-width="0.2">Atp5j2</text>
<rect x="655.4" y="395.8" width="66.6" height="624.54" fill="none" stroke="#0a0a0a" stroke-width="2"/>
<line x1="672.2" y1="1020.04" x2="672.2" y2="1026.3" stroke="#111" stroke-width="2.4" />
<line x1="704.6" y1="1020.04" x2="704.6" y2="1026.3" stroke="#111" stroke-width="2.4" />
<text x="662.3" y="1038.8" font-size="11.5" font-weight="bold" fill="#111" >T<tspan font-size="0.72em" dy="3.2">H</tspan><tspan dy="-3.2">1</tspan></text>
<text x="692.8" y="1038.8" font-size="11.5" font-weight="bold" fill="#111" >T<tspan font-size="0.72em" dy="3.2">H</tspan><tspan dy="-3.2">17</tspan></text>
<rect x="733.1" y="394" width="4.6" height="274.8" rx="2.3" fill="#e8252c"/>
<rect x="733.1" y="670.2" width="4.6" height="27.6" rx="2.3" fill="#555555"/>
<rect x="733.1" y="698.4" width="4.6" height="67.9" rx="2.3" fill="#2f50a0"/>
<rect x="733.1" y="767.6" width="4.6" height="160.8" rx="2.3" fill="#a97a2c"/>
<rect x="733.1" y="929" width="4.6" height="92.6" rx="2.3" fill="#1a9050"/>
<text x="540.5" y="668" font-size="11.6" fill="#c23c4a" xml:space="preserve">Complex I</text>
<text x="540.5" y="681.2" font-size="11.6" fill="#5c5f63" xml:space="preserve">Complex  II</text>
<text x="540.5" y="694.5" font-size="11.6" fill="#3f5b98" xml:space="preserve">Complex  III</text>
<text x="540.5" y="707.8" font-size="11.6" fill="#b08a38" xml:space="preserve">Complex  IV</text>
<text x="540.5" y="720.8" font-size="11.6" fill="#2c8a62" xml:space="preserve">Complex  V</text>
<rect x="750.8" y="400.8" width="18" height="616.2" fill="url(#cbar)" stroke="#111" stroke-width="1.5"/>
<line x1="751" y1="436" x2="754" y2="436" stroke="#111" stroke-width="1.2" />
<line x1="765.6" y1="436" x2="768.6" y2="436" stroke="#111" stroke-width="1.2" />
<text x="778.4" y="440.2" font-size="12" fill="#111" >0</text>
<line x1="751" y1="592.5" x2="754" y2="592.5" stroke="#111" stroke-width="1.2" />
<line x1="765.6" y1="592.5" x2="768.6" y2="592.5" stroke="#111" stroke-width="1.2" />
<text x="775.2" y="596.7" font-size="12" fill="#111" >−0.5</text>
<line x1="751" y1="748.8" x2="754" y2="748.8" stroke="#111" stroke-width="1.2" />
<line x1="765.6" y1="748.8" x2="768.6" y2="748.8" stroke="#111" stroke-width="1.2" />
<text x="775.2" y="753" font-size="12" fill="#111" >−1.0</text>
<line x1="751" y1="905.2" x2="754" y2="905.2" stroke="#111" stroke-width="1.2" />
<line x1="765.6" y1="905.2" x2="768.6" y2="905.2" stroke="#111" stroke-width="1.2" />
<text x="775.2" y="909.4" font-size="12" fill="#111" >−1.5</text>
</svg></body></html>
